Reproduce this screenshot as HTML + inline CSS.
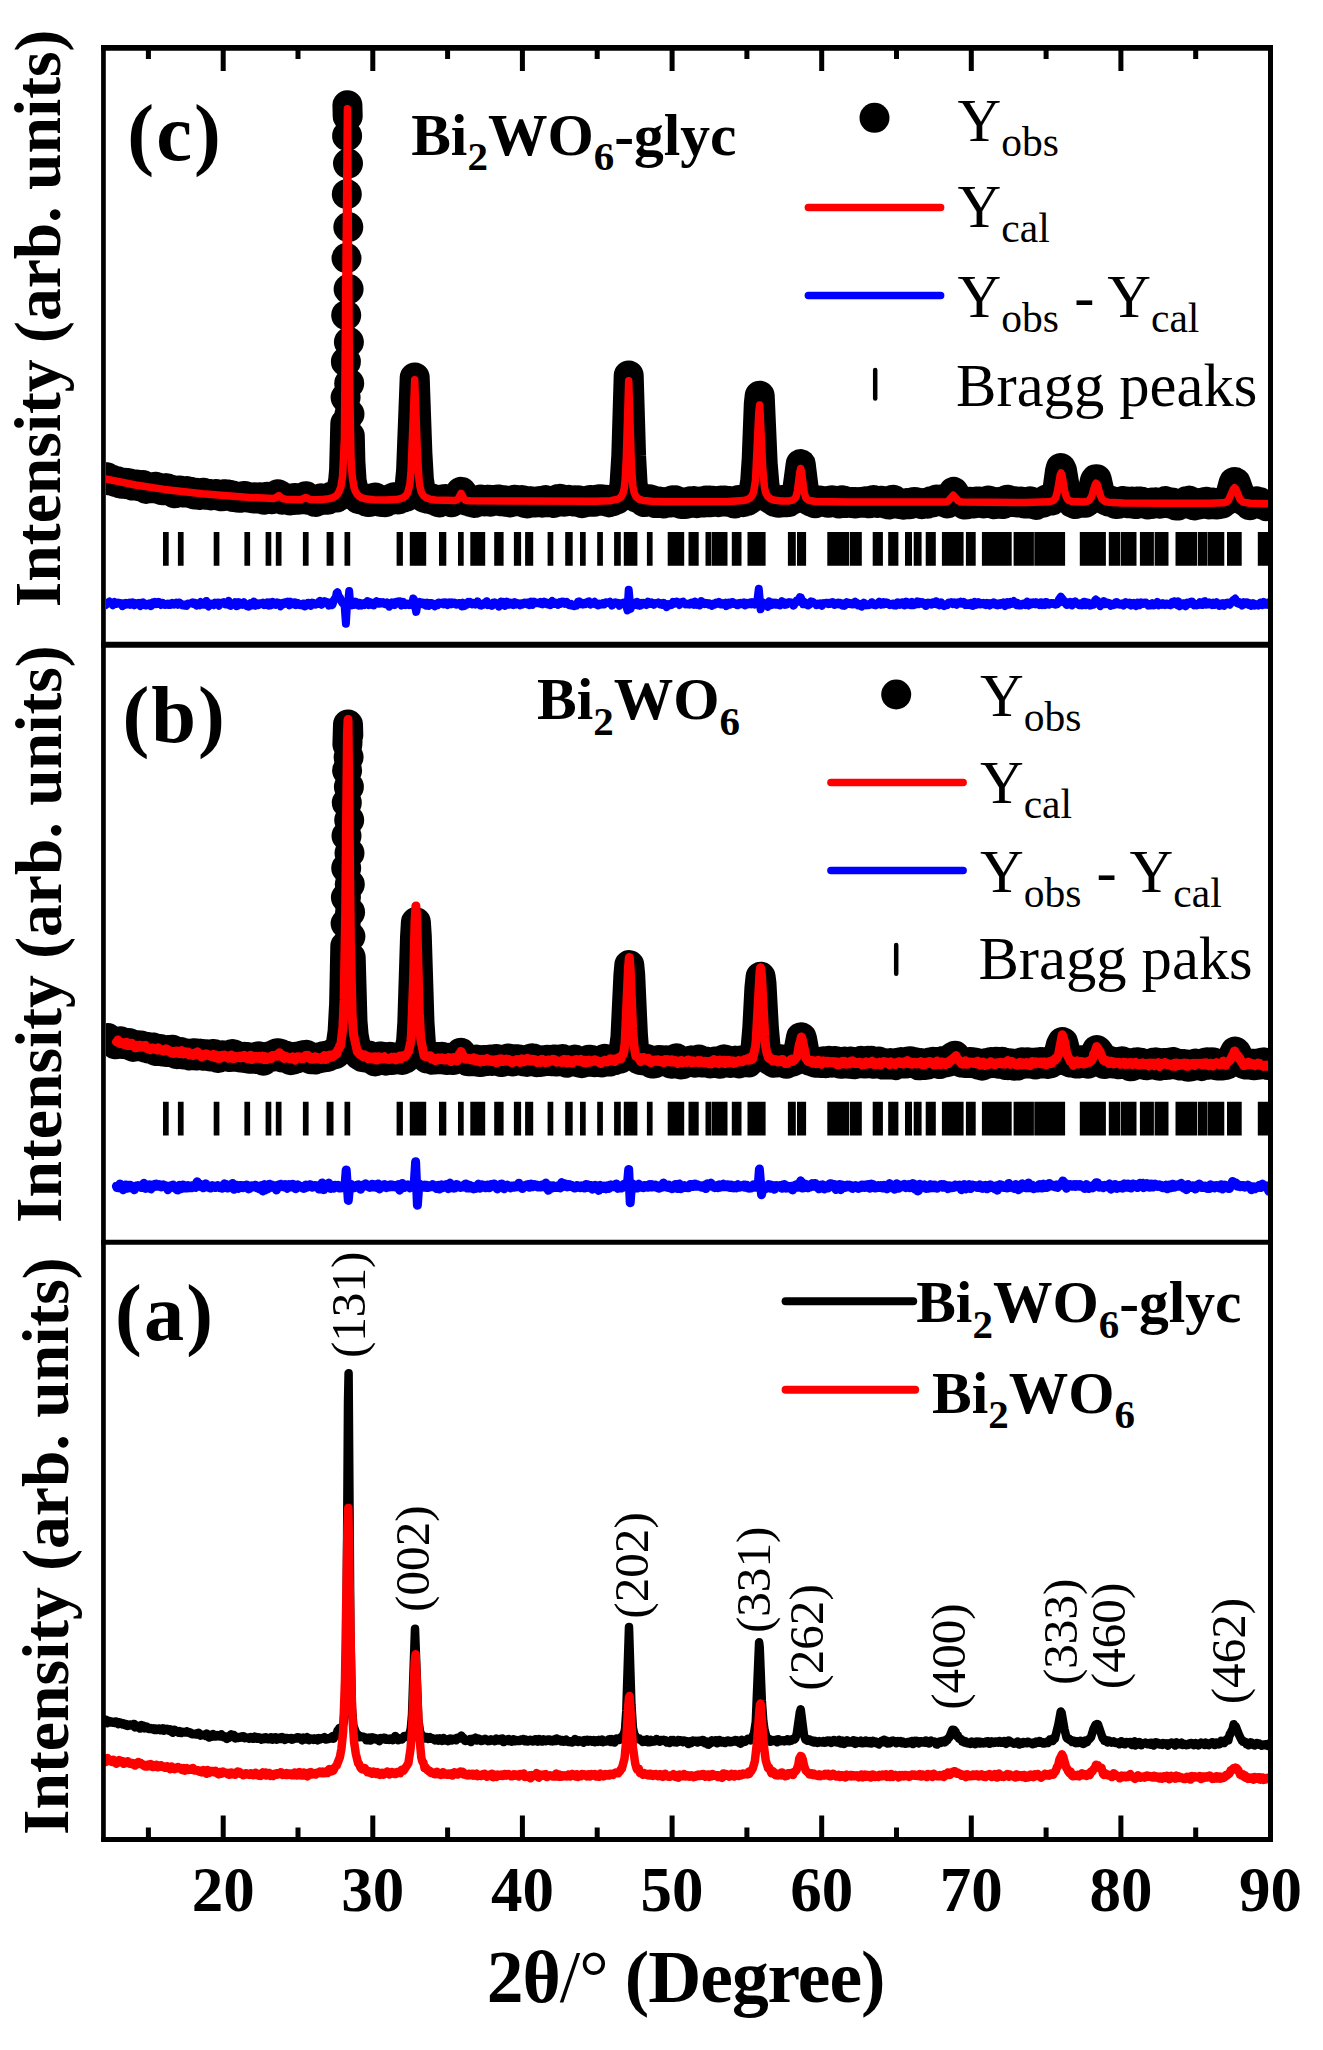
<!DOCTYPE html>
<html><head><meta charset="utf-8"><style>
html,body{margin:0;padding:0;background:#fff;}
svg{display:block;}
text{font-family:"Liberation Serif",serif;}
</style></head><body>
<svg width="1323" height="2050" viewBox="0 0 1323 2050">
<rect width="1323" height="2050" fill="#fff"/>
<defs><clipPath id="cc"><rect x="106" y="50.5" width="1162" height="592"/></clipPath><clipPath id="cb"><rect x="106" y="647.5" width="1162" height="592.5"/></clipPath><clipPath id="ca"><rect x="103.5" y="1245" width="1165" height="592"/></clipPath></defs>
<g clip-path="url(#cc)">
<path d="M103.5 478.5L105.3 477.1 106.5 477.2 109.5 480.2 111.6 479.6 113.1 480.9 114.3 480.6 115.2 481.8 116.1 482 117.6 481.2 119.4 483.2 119.7 482.7 122.1 483.8 123 482.9 124.4 482.8 125.3 483.8 126.5 483.4 127.7 484.3 128.3 483.2 128.9 484.1 129.5 483.2 130.4 484.4 131.3 484.3 132.8 485.6 135.5 485.6 136.4 484.5 138.2 486.2 140 485.1 140.6 486.1 143 485 144.2 487.6 146 488.9 146.9 488.2 147.5 488.5 148.7 487.4 150.8 487.2 151.7 488 154.1 486.9 154.7 487.5 155.6 486.7 155.9 487.5 156.2 487 156.8 487.7 157.1 487.4 158.6 489 160.7 489.6 161.3 489.3 161.9 490.3 165.1 488.3 166.6 488.8 167.2 488.2 169.9 490.1 171.1 489.8 174.7 493.3 176.5 492.1 177.1 492.4 178.9 490.6 179.8 490.6 181 491.6 182.2 491.3 183.4 492.5 186.1 491.3 186.7 491.7 187 491.1 187.6 492.1 190 491.8 191.5 493.5 192.1 492.3 193.3 492.7 194.2 494.4 195.7 492.8 196.6 494.2 197.5 494.2 198.1 494.8 198.7 494.2 199.6 495 200.5 493.6 201.9 493.8 203.1 492.8 204 494.3 204.6 493.8 204.9 494.7 206.4 494 207.6 494.7 208.5 493.7 209.1 494.9 209.7 494.5 210.9 495.4 215.4 494.1 216.3 495.1 216.9 494.8 217.5 495.4 218.1 494.9 219.9 496.2 222 496.3 223.8 495.4 224.7 494.2 225.9 495.1 227.1 494.6 227.4 495.3 228.3 495.8 228.9 495.4 229.2 496 229.8 494.9 231.6 496 232.2 495.5 233.4 497 234.6 496.7 235.8 497.3 236.1 496.6 236.7 497.4 237.9 496.6 239.1 497.8 239.7 496.9 240.9 497.7 242 496.3 242.3 496.8 243.8 495.9 244.4 496.5 245.3 496 246.5 497.4 247.4 496.7 249.8 497.8 251.3 497.7 251.6 498.3 252.5 497.8 253.7 498.6 254.9 497.5 255.8 497.9 257.9 497.4 259.1 497.7 259.7 497.3 261.5 498.9 262.7 498.5 264.2 499.7 267.2 496.8 267.8 497.4 269 497.1 270.2 497.5 271.7 499.2 274.4 496.8 274.7 497.5 275 496.9 275.6 497 278 494.2 278.9 495.2 279.2 494.8 279.5 495.2 281.2 499 281.8 498.8 282.1 499.7 283.6 498.8 283.9 499.4 285.7 497.9 286.3 498.8 288.1 499.5 288.4 499 290.2 500.4 291.1 499.1 292.6 500.1 294.7 498.1 295.3 499.7 297.1 498.5 297.7 499.8 300.1 498.4 300.4 499 301.3 498.7 301.6 499.3 303.1 497.8 303.4 498.3 305.8 496.3 307.3 498.8 309.1 499.9 309.7 499.6 310.3 500 310.9 499.2 311.2 499.8 311.5 499.2 312.1 500.2 312.7 499.9 314.5 501.7 314.8 501.2 315.4 501.9 315.7 501.3 317.5 501.2 319.9 499 320.4 499.5 321 498.4 322.8 499.3 323.4 498.9 325.5 499.7 327.6 499 327.9 499.6 328.2 499.1 328.5 499.5 331.2 496.9 332.7 497.3 333.6 496.4 333.9 497.1 335.7 497.4 336 496.3 336.6 497.5 337.2 496.7 338.1 496.6 340.5 492.8 341.7 488.3 343.2 480.2 344.1 469.4 345.3 423.5 M347.4 105.2L347.7 116.3 M349.8 435.9L350.4 461.6 351.6 480.8 353.4 489.5 356.1 495.6 358.2 498.8 359.9 499.5 362.3 498.8 363.2 499.6 364.4 498.3 366.2 501.3 366.8 501.7 368 501.1 368.9 502.1 369.5 501.1 369.8 501.8 371.3 499.5 372.2 498.9 373.1 499.1 373.7 498.1 374.9 497.5 375.8 498.6 377.9 499.3 379.4 501.6 380 500.8 381.2 501 382.1 502 383.9 501.7 385.1 502.2 386.6 499.9 386.9 500.4 387.8 500.4 390.8 499.3 391.1 499.9 392.3 498.1 393.8 497.9 394.4 497.2 395.6 498.5 396.2 498.2 397.7 499.4 398.8 498.5 399.7 499 400.3 497.6 401.8 497 402.4 496.9 403.3 497.7 404.2 496.8 404.8 497.2 405.1 496.3 405.4 497 406 497 407.2 493.8 407.8 493.5 409.6 486.1 411.1 470.2 414.7 377.4 417.4 453.1 418.9 479.7 421 492.9 424.6 497.9 425.5 497.2 427 498.6 428.2 498.8 429.1 498.1 430.9 499 431.5 498.5 432.4 499.7 434.2 500.3 435.1 499.7 436 501 436.9 501.5 437.2 501.1 437.8 501.8 438.6 501.7 439.2 502.4 440.1 501.7 441.3 499.5 443.7 499.9 444.9 499.3 446.1 500.3 447.6 499.3 451.2 502.3 451.5 501.6 453 501.5 455.1 498.8 456 499.2 456.9 498.1 457.2 498.6 457.8 498.1 460.8 491.9 461.4 492.4 461.7 492.1 463.2 497.4 465 499.7 465.6 499.2 466.5 500.4 467.4 500.3 468 501 468.3 500.6 468.9 501.5 469.5 501.1 470.1 501.8 471.9 501 474.3 502.9 475.5 502.1 476.1 502.4 477 500.8 480.5 499.5 481.1 500.8 481.7 500.6 482 501.1 482.9 500.2 485 501.4 485.9 500.1 487.1 499.7 488.9 500.6 489.2 499.8 490.4 501.6 492.5 500.5 493.7 500.8 494 500.1 495.5 499.8 496.1 500.4 498.2 499.4 499.4 500.5 500.3 499.8 500.9 501 501.2 500.7 501.8 501.2 504.2 500.3 504.5 501.6 506 501 506.6 501.6 508.1 500.9 509.6 502.4 509.9 501.6 510.5 502.4 512 501.8 513.8 499.8 514.4 500.2 515 499.7 517.6 501.2 521.8 500 523 500.9 523.6 500.4 525.4 503.1 526.9 503.4 527.2 502.3 527.8 502.3 528.1 502.9 529.9 501.3 530.8 501.8 531.1 501.3 531.7 502.4 532.3 502.4 533.5 501.8 534.1 502.4 534.4 501.8 535.6 502.4 535.9 501.6 537.1 501.5 538.9 502.1 540.1 501.3 542.2 502.6 543.1 500.7 544 501.4 546.1 500.1 548.2 502.1 550.3 501.6 551.8 502 552.4 501.4 553.9 503 556.5 501.8 558.3 499 558.9 499.4 559.8 498.8 560.7 499.1 562.8 501.4 563.4 501.2 564.3 501.8 565.5 501.5 566.4 500.2 567.6 500.1 567.9 500.5 568.8 500 570.3 501 573 501.1 573.3 501.5 574.8 500.2 575.7 501 576 500.5 577.5 501.3 578.1 500.3 579.6 502.4 579.9 502.1 582 503.1 584.1 502.5 586.5 500.9 586.8 501.5 587.4 500.7 588.9 500.5 589.2 501 590.4 500 591.9 501.7 592.5 501.3 593.4 501.8 593.7 501.1 594.6 501.7 596 501.1 596.6 499.9 596.9 500.5 598.7 499.2 599.3 499.6 600.5 499.3 601.1 500.6 601.7 500.3 602.3 500.7 603.5 500.2 604.1 500.8 604.7 500.3 605 500.7 605.9 499.8 608 502 608.3 501.6 609.2 502.4 609.5 501.7 610.1 502.1 612.5 500.3 612.8 501.1 613.1 500.4 616.7 499.6 617.3 498.3 617.6 498.8 620.6 496.2 620.9 496.5 623 492 624.5 484.7 626.3 455.5 628.7 375.4 631.1 456.3 632.6 483.6 633.8 491.7 636.1 497.4 637 497 638.5 498.3 639.4 497.5 641.5 499.3 642.4 498.7 644.2 502 646 500.9 647.5 501.3 648.7 499.3 649.6 499.2 652 500.1 654.1 502.1 654.7 502 655.9 503.1 658.9 502.9 660.4 501.6 660.7 502.3 662.2 503 663.1 502.6 664 503.4 666.7 502.3 668.2 502.5 668.5 501.8 670 502.6 670.9 501.6 671.8 501.5 672.4 500.4 673.3 502.1 674.2 500.5 675 500.3 675.9 500.7 676.8 502.3 678 501.5 680.1 503.6 681.9 503.9 682.2 503.2 682.5 503.7 685.2 504 686.7 502.8 687.3 503.6 689.7 501.3 691.2 502.1 691.5 501.5 692.1 501.9 693.3 501.3 695.1 502.8 696 502.6 696.9 503.1 697.2 502.4 698.1 502.6 699.6 501.5 700.8 502.4 705 502.4 705.9 500.6 708.3 501.6 709.5 500.5 710.7 502.3 711.3 501.5 711.9 501.8 713.4 500.8 718.4 502.1 719.6 501.3 720.2 501.5 720.8 500.5 721.4 501.5 723.2 501.2 724.1 500.4 725.3 501.6 726.2 500.9 727.1 501 727.4 501.7 727.7 501.1 729.8 501 734.3 503.6 738.8 499.9 739.7 500.7 740 500.1 741.8 501.3 743 501.2 743.3 502.1 743.9 501.5 744.5 501.7 746 500.8 747.5 500.8 748.7 499.2 749.3 499.7 749.6 499 749.9 499.2 751.1 498.2 753.4 492.6 755.2 481.1 756.7 458.7 758.8 403.9 759.7 395.7 762.7 463.8 764.5 485.4 766.3 493.9 768.4 497.6 769 498 769.3 497.4 770.8 497.9 771.7 499.7 772.9 499.3 774.4 500.3 775 501.9 775.6 502.1 776.2 501.4 776.5 502.2 778.3 502.8 779.2 502.8 779.8 501.5 780.7 502 781 501 784 499.7 784.3 500.4 785.2 499.7 786.7 502 787 501.5 787.6 502.2 788.5 502.1 791.2 499.5 791.8 499.9 792.1 499 792.9 499.5 794.4 498.9 796.5 495.6 800.7 464 804 490.8 805.5 496 807.6 499.7 808.5 499.5 809.1 500.5 810.9 500.8 811.8 501.9 812.4 501.4 813 502.4 814.5 503 814.8 502.7 815.1 503.3 816.3 502.5 816.9 502.8 819 500.6 820.8 501.6 821.7 500.9 822.9 501.2 823.2 501.7 826.5 501.4 828 502.8 829.8 500.7 830.7 501.1 832.1 500.2 833.6 500.6 834.2 501.5 835.1 501.2 836.6 502.5 837.5 502.5 837.8 502 838.7 502.9 839 502.6 839.3 503.5 840.5 502.9 841.7 500.3 843.5 501.4 843.8 500.7 844.7 500.9 847.1 503.1 848 502.4 850.4 502.9 851.9 502 852.5 502.5 854.9 502 856.1 503.4 857.6 503.1 859.1 502 860 502.7 860.6 502 862.4 502 863.3 502.8 865.1 501.5 867.5 502.6 868.4 502.2 869 503.3 871.9 500.4 872.8 501.1 873.4 500.1 874.9 501.7 877.6 502.8 878.5 502.2 879.1 502.5 879.4 501.9 881.2 501.9 882.1 500.7 883.9 502.5 884.5 502 885.4 502.4 886 503.7 886.9 503.4 887.5 504.3 887.8 503.8 889 504.5 890.5 502.7 890.8 503.2 892 500.4 892.6 500.8 893.2 499.7 896.2 502 897.4 503.6 898.6 502.9 899.2 503.7 899.8 503.1 900.7 504.1 901.6 503.6 902.8 503.8 903.1 504.6 903.7 503.9 904.9 504.2 905.5 503.3 907.3 503.8 907.9 503 908.5 504.2 910.6 504 912.6 503 912.9 502.2 914.4 501.9 918.6 502.9 918.9 503.4 920.4 503.4 921.9 504.2 922.5 503.4 923.7 503 925.2 503.4 926.4 503 927.3 503.5 930.9 501.2 931.5 502.1 932.7 502.4 933 501.6 933.3 501.9 934.5 500.8 935.4 501.2 936.6 499.5 937.2 500.1 938.1 499.7 938.7 500.7 939.9 499.6 941.1 500.2 941.7 499.6 942.9 500.6 943.2 500 945.6 502.8 946.5 502.3 947.1 503.4 947.4 502.8 948.3 503.1 949.2 501.9 953.6 491.9 958.1 500.7 958.7 500.1 959.3 500.8 960.2 500.6 961.1 501.8 961.7 501.6 962.9 503.1 963.5 503 964.7 504.6 965.6 504.1 965.9 504.5 967.4 503.5 967.7 503.9 969.8 501.8 970.7 503.5 971 503.1 972.2 503.4 972.8 502.8 974.3 503.5 975.5 501.9 975.8 502.2 976.7 501.4 977.6 502.4 977.9 501.8 978.8 502 979.4 501.6 982.1 502 983.9 503.4 984.8 502.3 987.2 501.6 988.4 500.5 989.3 502.1 990.4 502.3 991.3 503.4 991.6 503 993.4 503.5 994 504.2 995.8 503.2 996.4 504 998.5 502.1 999.1 503.7 1000.3 503.8 1000.9 503.1 1002.1 504.1 1003 504 1003.9 501.9 1004.5 502 1005.7 501.3 1006.3 500.1 1006.9 500.3 1007.5 499.8 1008.1 500.7 1008.4 500.4 1009.6 501.4 1010.2 501.1 1010.8 501.8 1011.4 501.2 1012.3 501.9 1014.1 501.2 1015 501.7 1015.6 501.2 1017.1 502.4 1018 502.1 1020.4 502.6 1021.6 501.6 1022.5 502.7 1023.7 502.6 1024.6 503.5 1027 502.9 1027.6 503.5 1028.5 502 1029.9 501.3 1030.2 501.9 1030.5 501.5 1030.8 502 1031.4 501.6 1032 501.9 1032.6 503.5 1034.4 504.4 1035.3 504 1035.9 504.9 1037.7 503.5 1038 503.9 1039.5 503.5 1042.5 501.8 1042.8 502.7 1044 502.3 1045.8 500 1047 500.1 1047.3 499.2 1047.9 499.5 1048.2 499 1051.5 500.6 1053 498.8 1054.2 498.8 1055.1 497.6 1057.2 491.2 1059.9 471.5 1060.8 468 1062 470.5 1066.2 495.7 1067.1 497.8 1068 497.5 1068.5 499.2 1070.6 499.6 1072.4 502.9 1073 502.3 1073.9 503.5 1075.1 503.9 1075.7 503.3 1076.9 503.3 1078.4 501.2 1080.2 501.1 1081.1 499.4 1083.2 502.1 1084.7 502.8 1085 502 1085.6 502.7 1090.1 498.5 1092.5 491.7 1094.9 480.8 1095.8 479.3 1096.7 479.3 1100 493.9 1101.2 497.1 1101.8 496.9 1102.7 498.7 1104.2 498.5 1105.7 499.2 1106.3 500.7 1107.7 500.2 1108.9 501.7 1109.2 501.1 1110.1 501.6 1111 500.8 1112.5 502.1 1114.6 502.5 1115.8 504 1118.5 503.8 1120.3 501.6 1121.5 501.5 1122.4 502.1 1123.3 500.9 1125.1 502.8 1126 502 1126.9 502.1 1127.8 503.3 1130.2 501.7 1131.7 501.5 1133.2 503.6 1134.7 504.1 1135.3 503.4 1136.2 504.1 1138.3 501.4 1139.8 502.5 1141 501.8 1141.3 502.4 1141.9 501.8 1143.4 502.1 1144.3 503.1 1145.2 502.6 1147.5 504.5 1149 503.2 1150.2 503.3 1151.1 504.1 1152.6 502.6 1154.7 503.1 1155.6 502.3 1157.4 503.3 1159.5 502.9 1160.1 503.7 1160.7 502.9 1161.6 503.1 1161.9 502.6 1162.2 503.1 1165.5 501.1 1166.1 501.2 1166.4 502.2 1167.9 502.9 1169.1 502.7 1169.7 503.5 1170.9 502.4 1172.1 502.4 1172.7 503.5 1176 505.6 1176.6 505.6 1177.2 504.6 1178.4 505.5 1180.2 503.7 1180.8 504.3 1183.2 503.1 1183.5 503.6 1183.8 503.1 1184.7 503.4 1186.4 501.5 1187.3 501.8 1187.9 501 1188.5 501.5 1189.1 500.6 1190.9 503.6 1192.7 503.6 1194.2 505.4 1195.1 503.6 1195.7 503.8 1196 503.3 1197.2 504.9 1198.7 503.1 1199.3 503.9 1200.8 504.1 1203.5 503.3 1204.4 502.2 1205 502.5 1205.9 501.8 1207.7 503.5 1208.3 503.3 1208.9 504.4 1209.5 503.7 1210.1 504.1 1210.7 503.3 1211 503.6 1212.5 502.4 1213.7 503.6 1214.6 503.4 1216.1 504.4 1217 504.4 1217.9 503.7 1218.5 504.2 1219.4 503.6 1220.3 504 1220.6 503.4 1222.1 503.6 1224.8 501.1 1226.8 500.2 1227.7 499 1228 499.4 1231 492.5 1233.4 483.5 1234 482.2 1234.9 482 1235.8 482.7 1241.5 498.9 1243.3 500.4 1244.2 500.7 1245.1 500.2 1246.3 502.2 1247.2 502.2 1249.6 505.2 1250.5 503.9 1251.7 504.6 1253.5 502.4 1255 502.9 1255.3 502 1256.5 501.3 1257.4 502.4 1259.2 501.9 1260.4 503.6 1261.9 503.3 1262.8 504.8 1263.4 504.3 1263.7 505 1264.9 504.9 1266.3 506.1 1267.5 505.8 1267.8 506.3 1269 505.2 1269.3 505.6 1269.9 505 1270.5 505.3" fill="none" stroke="#000" stroke-width="30" stroke-linejoin="round" stroke-linecap="round"/><g fill="#000"><circle cx="345.6" cy="397.6" r="15"/><circle cx="345.9" cy="361.7" r="15"/><circle cx="346.2" cy="315.2" r="15"/><circle cx="346.5" cy="258.1" r="15"/><circle cx="346.8" cy="194.2" r="15"/><circle cx="347.1" cy="135.9" r="15"/><circle cx="348" cy="163.6" r="15"/><circle cx="348.3" cy="227.1" r="15"/><circle cx="348.6" cy="289.1" r="15"/><circle cx="348.9" cy="342" r="15"/><circle cx="349.2" cy="383.4" r="15"/><circle cx="349.5" cy="414.1" r="15"/></g>
<path d="M103.5 478.5L135.5 485 164.2 489.4 202.5 493.7 249.2 497.4 273.2 498.5 275.6 497.9 278.9 495.5 282.4 498.5 285.4 499.2 300.7 499.7 305.8 497.5 310.3 499.6 319.9 499.7 327 499.1 332.1 498 335.7 496.2 338.1 493.7 340.8 487.2 342.6 476.2 344.4 438.5 347.4 108.8 349.5 377.8 351 458 352.2 476.2 354 487.3 355.2 491 357 494.2 359.1 496.3 361.4 497.7 366.5 499.1 374 499.8 385.7 500.1 395.6 499.6 400.3 498.8 403.6 497.5 406 495.5 407.8 492.7 409.9 484.1 411.1 470.9 414.7 379.8 417.4 452.8 418.9 478.8 419.8 486.1 421.3 492 423.1 495.3 425.8 497.6 429.7 499.1 435.4 500 455.4 500.4 458.1 499.1 461.1 493.3 464.7 499.8 466.5 500.5 470.4 500.8 596.3 501.3 610.7 500.7 617.9 499.2 620.9 497.1 623 493.4 624.2 488.5 625.1 480.8 626.3 458 628.7 380.8 631.4 465.6 632.9 486.6 634.1 492.5 636.1 496.8 639.1 499.2 643.3 500.5 651.4 501.3 666.1 501.7 728.3 501.6 743.3 500.6 747.2 499.6 750.2 497.9 752.3 495.4 753.7 491.7 755.5 480.2 758.8 412.6 759.7 405 762.7 468.1 764.5 487.5 765.7 492.7 767.8 496.6 770.8 499 775 500.3 781.6 501 788.8 500.9 792.6 500.1 795 498.5 796.2 496.2 797.4 491.3 799.8 472.2 800.7 468.5 801.6 472.2 804 491.4 805.5 497.1 806.7 499 808.5 500.2 815.4 501.5 847.4 502 942.9 502 946.2 501.7 948.3 500.9 953.3 495.3 958.1 500.7 959.9 501.6 962.9 502 1025.5 502.5 1048.5 501.8 1053.3 500.6 1055.7 497.6 1057.5 491.1 1060.2 475.1 1061.1 473 1062 475.1 1064.7 491.1 1066.2 496.8 1068.2 500.2 1072.4 501.6 1083.8 501.9 1087.1 501.4 1089.2 500.4 1091.6 496.7 1094.9 485.5 1096.1 483.2 1097.3 484.7 1100.3 495.2 1102.1 499.2 1104.5 501.3 1108.3 502.2 1123 502.9 1166.1 503.2 1209.2 503.3 1223 502.8 1226.2 502 1228.6 500 1233.4 489 1234.6 487.7 1235.8 489 1240 499.2 1243 502.1 1250.2 503.3 1270.5 503.8" fill="none" stroke="#f00" stroke-width="7.5" stroke-linejoin="round" stroke-linecap="round"/>
<path d="M163 532H168.7V565.8H163Z M177.9 532H183.6V565.8H177.9Z M213.7 532H219.4V565.8H213.7Z M244.4 532H250.1V565.8H244.4Z M265.6 532H271.3V565.8H265.6Z M275.8 532H281.5V565.8H275.8Z M302.9 532H308.6V565.8H302.9Z M326.6 532H333.5V565.8H326.6Z M344.5 532H350.2V565.8H344.5Z M396.6 532H402.9V565.8H396.6Z M409.8 532H426.2V565.8H409.8Z M439 532H446.3V565.8H439Z M458 532H463.7V565.8H458Z M470.3 532H485.2V565.8H470.3Z M494.2 532H503.6V565.8H494.2Z M513.9 532H521.1V565.8H513.9Z M525.1 532H533.2V565.8H525.1Z M547.6 532H553.3V565.8H547.6Z M565.2 532H572.7V565.8H565.2Z M580 532H585.7V565.8H580Z M597.2 532H602.9V565.8H597.2Z M614.1 532H620.8V565.8H614.1Z M623.8 532H637.4V565.8H623.8Z M646.9 532H652.6V565.8H646.9Z M667.7 532H684.2V565.8H667.7Z M688.5 532H698.7V565.8H688.5Z M705.5 532H711.2V565.8H705.5Z M711.7 532H727.5V565.8H711.7Z M731.8 532H741.5V565.8H731.8Z M747.5 532H765.6V565.8H747.5Z M787.9 532H795.8V565.8H787.9Z M797 532H806.1V565.8H797Z M827.3 532H849V565.8H827.3Z M849.7 532H861.8V565.8H849.7Z M872.7 532H882.9V565.8H872.7Z M888.2 532H898.4V565.8H888.2Z M905 532H912V565.8H905Z M913.7 532H921.6V565.8H913.7Z M925.7 532H935.8V565.8H925.7Z M941.9 532H963.6V565.8H941.9Z M965.9 532H975.7V565.8H965.9Z M981.9 532H1011.7V565.8H981.9Z M1013.6 532H1033.9V565.8H1013.6Z M1034.3 532H1065.1V565.8H1034.3Z M1079.8 532H1105.9V565.8H1079.8Z M1108.8 532H1120.3V565.8H1108.8Z M1120.9 532H1136.5V565.8H1120.9Z M1139.9 532H1153.9V565.8H1139.9Z M1154.6 532H1168.5V565.8H1154.6Z M1175.5 532H1197.3V565.8H1175.5Z M1198 532H1207.5V565.8H1198Z M1207.9 532H1224.3V565.8H1207.9Z M1227 532H1241.7V565.8H1227Z M1257.8 532H1271.6V565.8H1257.8Z" fill="#000"/>
<path d="M103.5 604.2L103.8 605.1 104.1 604.4 104.7 605.2 105.3 604.6 105.6 605.2 105.9 603.7 107.1 602.6 108 603.2 109.5 601.6 110.1 603.1 110.7 603.6 111.6 603.2 112.8 605.2 113.4 603 114.3 601.9 114.9 603.4 115.5 602.4 116.7 603.8 118.2 602.6 120.3 603.1 120.6 603.7 120.9 603.3 122.4 606.1 123.8 603.3 124.7 604.9 125.9 602.9 127.4 604.2 128.3 602.8 129.2 602.6 130.4 604.7 131 603.5 131.9 603 132.5 603.4 132.8 602.4 134.3 605.2 135.5 603.3 136.1 604.1 136.4 603.3 137 604.3 137.6 603.1 137.9 603.9 138.8 602.9 140.3 606.1 141.2 603.4 141.5 603.8 142.1 602.5 143 602.2 144.8 604.9 145.1 603.8 145.7 605.5 146.3 604.4 146.6 605.5 147.2 604 147.8 605 149.3 603.6 151.1 606.1 152.9 602.5 153.5 603 154.7 602 155.9 604.1 156.5 603.9 157.1 602.4 157.7 602.8 158.3 602.1 158.6 603.2 158.9 602 159.8 604.2 160.1 603.8 161 604.9 161.3 604 162.2 604.1 162.7 602.8 164.8 604.9 165.4 604.4 165.7 604.9 167.5 603.6 168.1 604.9 169.9 603.6 170.2 604.9 170.8 604.9 172.3 602.9 174.1 604.6 176.2 602.7 177.7 604.7 178.9 603.9 179.2 602.5 179.5 603.2 180.4 603.2 180.7 604.4 181.3 604.1 181.6 605.1 181.9 604.7 182.5 605.2 182.8 604.5 183.7 604.7 184.3 605.5 184.6 604.6 185.5 604.4 186.7 605.7 187.9 603.5 192.1 603.6 192.4 602.5 192.7 603 193 602.4 193.9 604.2 194.5 604.3 195.4 602.9 196.6 605.5 198.1 603.9 198.4 605 199.3 605.3 199.9 602.6 200.5 602.1 201.4 604.3 202.8 603.8 203.1 604.7 203.7 604.2 204 604.6 204.3 604.1 204.9 604.5 205.5 603.3 205.8 603.6 206.4 601 207.3 602.3 207.9 605.7 208.5 606.4 211.2 603.7 213.6 605.2 215.1 602.6 215.7 603.5 216 602.9 216.3 604.1 216.9 602.7 217.8 602.6 218.1 604.4 219 605.7 220.2 602.9 221.1 603.4 221.7 603.4 222 602.7 222.3 603.2 222.6 602.8 223.5 603.2 224.1 602.2 224.4 603.3 225.3 603.5 225.6 604.3 226.2 603 226.8 604.4 227.4 604.1 228.6 600.8 230.1 605.6 230.4 604.8 231 605.7 231.6 604.3 232.5 604.6 233.1 603.7 233.4 604.3 234 603.1 234.3 603.8 235.2 602.2 236.7 606.2 237.3 606 238.5 602.1 239.1 603.3 239.4 602.4 240 604.1 240.3 603.5 241.2 604.6 242 603.7 242.6 604.7 244.1 602.3 245.3 604.7 246.2 604.6 247.1 606.2 248 606.3 248.6 605.4 248.9 606.7 250.4 603.2 251.3 604.4 251.6 603.7 252.5 605.3 252.8 604.5 253.1 604.8 254 601.7 255.5 605.8 257 603.1 258.5 605.1 259.7 603.5 260.9 603 261.2 603.5 262.1 602.9 262.4 603.4 263 602.7 264.2 603.7 264.5 605.1 267.2 602.5 268.1 605.4 268.7 605.6 269 603.5 269.6 603.4 269.9 602.3 270.8 605.3 271.4 605.1 272.6 601.8 273.2 603.9 275 603.3 275.6 604.9 277.1 602.5 278.3 604.1 279.2 602.9 279.8 603.3 280.7 606.3 282.7 603 283.6 604.2 285.1 602.2 285.7 602.1 286.3 603.2 286.6 602.4 287.2 602.7 287.8 601.8 288.1 603.5 289.3 605.4 290.5 601.7 292.3 604 292.9 603.4 293.5 604.4 294.4 602.2 295 602.2 296.2 605.1 297.4 604 297.7 602.8 299.5 605 299.8 604.3 301.6 605.4 301.9 604.5 302.5 605.1 303.1 603.5 304 603.4 304.9 606.5 305.8 605.9 306.4 603.5 307 603.8 307.3 603.1 307.6 603.5 307.9 602.7 309.1 602.9 309.7 605.2 310.9 605.8 312.1 602.6 313 603.5 313.6 603.8 314.2 603.3 315.4 604.7 316 604.6 316.9 603.3 317.5 604 318.4 604 319 601.8 319.6 602.3 320.1 600.8 321.6 604.8 323.1 602.2 323.7 602.6 324.6 601.2 326.1 603.1 326.7 601.9 327.3 603.9 327.6 602.9 327.9 604 328.8 604.2 329.1 605.6 330.6 602.3 331.8 605.2 332.4 604.9 334.5 598.8 334.8 599.4 335.1 598.9 336 596.6 336.6 593 337.5 592.2 339 597.1 339.6 598.1 339.9 597.4 341.7 602.1 342 601.6 342.9 603.6 344.4 602.9 345.9 623.8 346.8 607.7 347.4 603.8 348 603.5 349.2 591.1 350.1 602.5 351.9 605.4 353.1 604.2 354 604.7 355.5 601.6 356.4 602.9 356.7 602.3 357 602.9 357.3 602.4 357.9 602.7 358.8 605.7 360.2 602.9 361.7 605.6 363.2 603.4 364.7 604.9 365 603.8 365.6 603.7 365.9 602.6 366.2 603.4 367.1 601.4 367.4 602.4 367.7 601.1 369.2 605 371 602.6 372.8 605.3 373.7 605.4 374.3 603.6 376.4 601.2 377.3 602 377.6 601.7 378.5 602.3 378.8 601.9 379.1 603.8 380 602.9 380.3 603.2 380.6 602.2 381.2 602.4 381.5 603.4 383 602.3 384.2 603.9 385.4 604.4 385.7 603.2 386 603.4 386.9 602.4 387.2 603.3 387.5 602.7 388.1 603.8 389.3 606.7 390.8 603.3 391.1 604 392 602.5 392.3 603 393.2 602.6 394.7 605.1 395.6 602.2 395.9 602.6 396.2 601.9 397.1 603.2 398.3 601.5 398.8 602.7 400 601.5 401.5 605.6 403 601.8 403.6 603.1 403.9 602.6 404.8 603.4 405.7 605 406 604.2 407.5 603.6 409 604.9 409.3 604.3 410.2 604.7 410.8 604.3 411.7 605.1 412.3 604.2 413.2 598.5 413.8 599 416.2 611.9 417.4 604.8 418 603.8 418.3 604.8 418.9 604.2 419.8 602 420.1 602.7 420.4 602.1 422.2 603.6 422.8 602.6 423.4 604.4 424.3 603.8 424.6 602.8 425.8 605.5 427.3 602.8 428.8 605.9 429.7 603 430.6 603.1 431.2 604.9 431.8 603.1 434.8 606.3 436.3 603.8 437.8 605.1 438.6 602.4 439.2 602.4 440.1 603.7 442.2 602.6 443.7 604.3 444.6 602.5 445.2 603.1 445.8 602.4 447.6 605 448.2 603.4 448.5 603.9 448.8 602.6 449.1 603 449.4 602.5 450.3 604 451.2 604.3 452.1 602.4 452.7 603.3 454.5 602.5 456 604.8 456.6 604.8 456.9 604.1 457.8 604.2 458.4 603.2 459.3 603 459.9 603.8 460.2 603.2 461.7 606.3 462.9 602.7 464.4 606.1 465.3 604.1 465.6 604.7 466.5 604.4 466.8 604.8 468.3 602 468.6 603.1 469.2 603.2 470.1 602.1 471.9 604.4 472.8 604.1 473.4 602.9 474 603.9 475.2 604.5 475.5 603.9 476.4 604.1 477.6 601.5 478.7 603.9 480.2 604.4 480.5 605.5 481.1 605.1 481.4 605.5 482 604.1 482.6 604.7 483.2 603.6 483.5 604.3 484.1 603.1 484.7 604.6 486.2 601.8 486.5 602.4 486.8 601.2 488.3 605 488.9 603.3 490.1 604 490.4 604.9 491.6 605.8 491.9 605.1 492.2 605.7 492.8 604.2 493.4 604.3 493.7 602.5 494.3 603.4 494.9 602.4 495.2 604 495.8 602.8 496.1 603.9 496.7 603.5 497.9 605.3 498.2 604.8 498.8 606.6 500.9 601.7 501.5 602.4 501.8 601.9 502.1 602.7 503 602 503.6 602.5 504.8 605.9 506.9 601.6 508.4 604.8 509 604.7 510.5 602.7 510.8 603.7 511.1 603 511.4 604.3 511.7 604.1 512 604.7 512.3 604.4 513.2 605 514.7 602.1 515.3 604.4 515.9 604 516.2 604.4 516.8 602.9 517.3 603.7 517.6 603.1 517.9 603.6 518.5 603.3 520 605.3 521.2 603.4 522.4 604.6 523.6 602.9 524.2 603.2 524.8 602.7 526.6 604.2 527.2 602.5 528.1 602.6 529.3 605.1 531.1 601.8 532.6 604.9 534.1 601.7 534.7 603.2 538.9 602.5 539.2 603.5 539.8 603 540.1 603.5 540.7 601.9 541.3 603.2 541.6 602.4 541.9 604.2 542.5 603.8 542.8 604.3 544.3 601.7 545.2 603.6 546.7 602.7 547.6 604.4 548.5 603.5 550 605.3 550.6 605.1 551.5 601.7 552.1 601.1 552.7 603.1 553.3 603 553.9 603.9 554.2 603.2 554.5 603.8 555.4 602.8 555.7 603.9 557.1 603.8 558 604.8 558.6 603 559.5 602.2 560.4 603.9 561.3 602.4 561.6 602.8 562.2 601.7 562.8 602.5 563.4 601.6 563.7 602.6 564.9 603.7 566.7 601.9 567.6 603.9 567.9 603.1 568.2 604.3 568.8 603.9 569.4 605.1 570 604.2 570.3 604.9 571.2 603.9 572.1 605.5 572.4 604.8 573.6 604.9 574.2 606.1 574.8 605.2 576.3 605.7 577.8 601.9 578.1 603.5 578.4 602.8 579 603.1 579.6 601.4 581.1 604.3 582.9 603.8 583.2 604.6 584.7 603.1 585.6 604.1 587.7 601.8 588.9 601.4 590.4 604.6 591.6 603.2 592.2 603.7 592.8 603 593.1 603.5 594.6 601.7 595.7 604.3 597.2 603.8 597.5 605.1 598.1 605.4 599.3 603.6 600.8 603.9 601.1 604.5 602.6 603.3 603.2 604.5 604.1 604.5 605.6 602.5 606.5 603 606.8 602.3 608.3 602.6 609.8 601.8 611.9 605.6 613.7 603 614.3 604 615.2 603.5 615.5 602.3 617.3 603.5 617.6 602.8 617.9 603 619.4 605.7 620.3 603.3 620.9 603.2 621.2 604 621.5 603.4 621.8 604.1 623.3 602.8 625.1 604.9 626 604.8 627.5 610.4 628.7 589.7 630.5 609.1 632 604 632.6 603.4 633.5 604.9 634.7 602.9 635.8 604.8 637 601.8 638.2 605.5 639.7 605 640 605.8 641.5 602.9 642.4 604.5 643 604.4 643.6 602.8 644.2 604.5 644.5 603.7 645.1 604.3 645.7 603.8 646.6 604.9 648.1 601.7 648.7 602.8 649 602.1 649.6 603.3 650.2 603 650.5 604 651.1 602.8 651.7 603.8 652 602.3 652.6 604.1 653.2 603.8 653.8 604.8 655.3 603.1 656.8 603.5 658.3 602.4 660.1 604.5 660.7 604.6 661.3 603.2 662.5 604.9 663.4 602.8 664.9 605.1 665.2 604 665.8 603.9 666.7 607.1 667.9 604.8 668.8 604.3 669.1 604.9 669.7 604.2 670 604.8 671.2 604.4 671.5 605.1 673 601.9 673.3 603.1 673.6 602.8 674.2 603.8 674.7 602.4 675.6 603.2 676.5 601.4 677.1 601.4 677.7 603 678.6 603.1 679.5 605 681 602.9 681.6 603 681.9 601.9 683.1 601.6 685.5 604.2 685.8 603.8 687.3 604.4 687.6 603.7 688.8 603.6 689.7 604.4 691.2 602.5 692.4 603 692.7 604.3 693.6 604.8 694.8 601.5 695.4 601.6 696.3 604.6 696.6 603.9 696.9 604.8 697.8 602.9 699.6 605.4 700.5 604.6 701.4 601.1 702.3 601.8 702.9 603.7 704.1 603.2 704.4 604.1 705 603.2 705.6 603.7 705.9 602.9 706.5 603.9 707.4 603.2 708.6 604.5 709.5 603.5 711.9 605.8 712.8 605 713.1 603.8 713.9 603.4 714.5 604.9 716 602.7 716.6 603.9 717.2 602.9 718.7 602.6 719 601.9 720.8 604.4 721.4 602.9 722 604 722.6 603.6 723.2 604.4 723.5 603.7 724.1 603.8 724.4 603 725.3 602.7 726.5 606.1 728 602.8 728.6 603.8 729.2 602.7 730.4 604.5 731.9 601.9 732.8 602 733.7 603.9 734.6 603 735.8 603.4 736.1 604.5 737 604.5 737.3 605.3 737.9 605.2 739.1 603.1 739.4 603.7 740.3 602.9 740.6 604.1 740.9 603.2 741.8 603.9 742.1 603.1 743.6 602.4 744.2 604.8 745.1 605.4 745.7 603.6 746.3 603.9 746.9 603 748.1 604.3 750.2 602.5 751.4 604.2 752.3 602.2 753.2 604.2 753.4 603.6 753.7 604.1 754.3 603.6 754.9 604.6 755.2 604 756.7 603.8 757 603 758.8 588.8 760.6 609.3 762.1 603.3 762.4 603.5 763 602.5 764.5 604.3 765.1 603.3 766 604.1 766.3 603.7 767.8 606.8 769.3 601.3 770.5 604.6 771.1 604.1 771.4 605.2 772.9 602.6 773.2 603.4 774.7 602.6 775.6 604.7 776.8 603 777.7 604.6 778 604.3 778.3 604.9 778.6 603.7 778.9 604.7 779.2 604.3 780.1 605.3 781.9 601.1 782.8 602.9 783.7 603 784 604.1 784.3 603.8 784.9 604.7 785.8 602.6 786.4 602.8 786.7 604.6 788.8 602.2 789.4 603.3 790 602.4 790.9 602.9 791.2 602.4 792.4 603.5 793.2 605.7 793.8 605.6 796.5 600.6 797.1 601.3 797.7 601 798 601.8 799.8 597.2 800.4 597.9 801 597.7 803.1 604.2 804.6 602 806.1 604.5 806.4 603.6 807.3 604.4 807.6 603.8 808.2 605.5 809.1 604.4 809.4 604.7 810.9 601.4 811.8 603.1 813 602 813.6 603.2 816.3 604.1 816.6 605.2 817.5 604.9 818.1 603.6 819.3 604.6 820.5 603.5 822 605.7 823.5 603.2 824.1 603.7 825 603.6 825.6 602.7 826.8 602.7 828.3 604.1 828.9 602.9 830.4 603.9 831 602.8 831.3 603.5 831.9 602.9 832.4 603.5 833 602.2 834.5 604.9 834.8 604 836.6 604.2 838.1 602.7 839 604.3 840.2 603.1 840.8 604.6 841.1 604 841.7 604.8 842.3 604.7 842.6 605.7 843.8 603.3 844.7 605.8 846.8 602.2 848 603.9 849.2 603 850.1 604.2 851 604 851.3 603.2 851.9 604.4 853.1 604.5 853.4 602.8 854.9 601.8 855.2 602.4 856.1 602.2 857.9 605.4 858.2 604.3 859.1 605 860 603.9 860.9 604.4 861.8 606.7 863.9 602.8 865.4 603.7 866 605.4 866.9 605.2 867.2 604.4 867.5 605.1 868.1 604.8 868.7 605.2 870.2 603.6 870.5 604.5 870.8 603.7 871.6 603.4 871.9 602.2 873.1 604.7 873.7 604.2 874 604.7 874.3 603.7 874.9 603.8 875.2 605.2 875.5 604.8 875.8 605.3 878.2 602.6 878.8 603.3 879.4 601.7 880.3 602.3 881.2 604.8 882.1 602.9 882.4 604 882.7 603.4 883.3 604.3 883.9 602 884.8 602.6 885.4 604.1 886.6 602.3 887.5 602.7 889 604.8 889.6 604.6 889.9 605.1 890.8 604.5 892.3 604.6 892.9 603.6 893.2 604.2 893.5 603.8 894.1 605.4 894.7 604.3 895 605.3 895.6 604.6 896.2 605.5 897.4 602.4 898 603.2 898.3 602.5 898.6 603.9 899.8 604.8 900.7 602.9 902.2 603.7 902.5 602.2 903.4 602.9 904.6 605.4 906.4 601.6 906.7 603.2 907.6 603.5 907.9 604.7 908.8 602.6 909.1 603.4 909.4 602.5 910.3 605 910.6 604 910.8 605.2 912.3 602 912.6 602.8 912.9 602.4 913.5 605.3 915 604.8 915.6 603.8 915.9 604.4 917.4 601.3 918.9 604.1 920.1 602 920.7 603.1 921.3 603.2 922.2 602.2 923.1 604.1 923.4 603.6 923.7 604.1 924 602.8 924.3 603.5 924.6 603 925.5 605.9 926.1 605.9 927.9 602.8 928.5 603.4 928.8 603 929.4 603.9 929.7 602.8 931.5 604.6 932.7 602.5 933.6 603 933.9 603.9 934.5 603.1 935.1 603.8 935.4 602.4 936 603 936.3 601.3 937.2 604.4 937.5 603.9 938.1 604.6 938.4 604.2 939.3 605.3 940.2 603.5 940.5 604.2 941.1 602.4 942.3 605.1 942.9 604.6 944.1 606.1 945 604.6 947.1 605.1 948.6 602.6 949.8 603.2 951.2 602.3 951.8 603.2 952.1 602.6 952.7 604 953.3 603.5 953.6 603.9 954.2 602.3 956.6 604.9 957.5 604.2 958.1 602.3 958.7 602.3 959.3 603.4 959.6 602.4 960.5 601.8 961.4 603.7 962 603.1 962.3 603.5 962.6 602.5 962.9 603 963.2 602.2 963.5 602.7 963.8 602 965.3 605 966.2 603.4 967.4 604.8 968.3 603.5 969.5 604.8 970.4 602.9 971 602.8 971.9 605.7 972.5 605.1 973.1 605.8 974 605.1 974.9 601.8 976.4 604.8 977.3 604.4 977.6 603.3 978.2 603.3 978.8 602.2 979.7 602.7 980.3 604.4 981.5 603.3 982.4 604.1 982.7 603.2 983 603.6 983.6 603.1 983.9 603.8 984.5 603.4 984.8 604.6 985.1 604.3 985.7 605 986.9 602.9 987.5 603.9 988.7 603.2 989.8 605.5 990.4 603.5 990.7 604 991.3 603.3 991.9 604.3 993.7 602.4 994 603.1 994.6 602.8 995.2 604.7 995.5 603.8 996.1 604.8 996.7 603.9 997 605.2 997.6 604.9 997.9 605.4 998.5 603.8 999.1 604.6 999.4 603.3 1000 604.9 1000.6 603.1 1001.5 603.1 1002.4 604.3 1003.6 602.4 1005.1 606 1006.3 603.1 1007.2 602.2 1008.4 604.6 1009 603.6 1009.6 604.5 1010.8 601.9 1012 603.7 1012.6 602.2 1013.8 601.1 1016.2 605 1017.7 602.9 1018.9 605.4 1019.2 604.1 1020.4 604.3 1021.3 605.3 1023.1 603.7 1025.2 605 1025.8 603 1027 601.8 1028.8 605.5 1029.6 603.9 1029.9 604.2 1030.2 602.5 1031.4 603.2 1031.7 604.4 1032.9 603.3 1033.5 603.3 1033.8 602.3 1034.4 604 1035 603.8 1035.3 604.3 1036.2 602.1 1037.7 603.9 1038.3 603.3 1038.6 604.4 1038.9 603.5 1039.5 605 1040.1 603.8 1040.7 603.8 1041 602.2 1041.9 603.9 1042.2 603.4 1042.5 605.1 1043.4 603 1043.7 604.1 1044.9 605 1045.8 602 1046.1 602.7 1046.7 602.3 1047.3 603.7 1047.6 603 1048.2 603.2 1049.1 604.6 1050.9 603.1 1051.8 603.6 1052.7 603.1 1053 604 1053.9 604.3 1054.5 603.3 1055.4 603.5 1055.7 604.6 1056 603.6 1057.2 603.1 1057.5 604.1 1059 599.3 1060.8 596.6 1062.6 598.9 1063.8 602.3 1064.7 601.1 1065.3 601.6 1066.5 604.9 1066.8 604.5 1067.1 604.8 1068 603.1 1068.8 604.4 1070.3 601.9 1072.1 605.4 1073.3 602.2 1073.9 604 1075.4 601.5 1076.6 603.8 1077.8 604.3 1078.1 603.4 1079 604 1079.3 605.1 1080.8 603.6 1081.1 604.8 1082 605.4 1083.5 604.2 1084.1 601.7 1085.6 605.2 1086.8 602.3 1088.3 603.4 1088.6 602.7 1090.1 605.5 1090.4 604.8 1091 604.7 1091.3 605.2 1093.1 603.7 1093.7 604.6 1095.2 600 1095.8 599.5 1096.7 601.1 1097.6 600.9 1100.3 606.1 1100.9 604.5 1102.1 603.8 1102.4 604.4 1103.9 601.2 1106 604.1 1106.6 602.9 1106.9 603.9 1107.5 603.1 1108 603.6 1108.3 602.7 1108.6 603.4 1108.9 602.9 1109.2 604.1 1110.7 605.8 1111.6 604.7 1111.9 605.2 1112.2 603.7 1113.1 605.2 1115.8 604.4 1116.1 602.4 1116.7 602.6 1117 602.2 1117.6 603.8 1118.2 603.4 1118.5 604.3 1119.1 603.9 1119.7 604.6 1120.3 603.9 1122.1 603.4 1123.6 605.5 1125.7 602.2 1126.9 603.7 1127.5 603.1 1129 604.4 1129.9 602.6 1131.1 605.5 1132 603.2 1132.9 603.4 1133.5 604.2 1134.1 603 1135 604.4 1135.3 604.2 1135.9 606.1 1136.2 603.9 1137.4 602.7 1138 605.1 1139.2 603.9 1139.8 605.2 1140.1 603.9 1140.7 603.7 1141.3 602.4 1143.1 603.7 1143.4 603 1143.7 603.4 1144 602.9 1144.6 603.6 1145.2 602.6 1145.5 603.1 1146.1 602.7 1146.4 604 1148.1 605.5 1149.3 604.3 1150.8 605.3 1152.3 603.1 1152.9 604.9 1153.5 604.4 1153.8 605.5 1155 603.9 1156.5 604.2 1157.4 601.9 1158 603.3 1158.3 603 1158.9 605.3 1160.4 603.5 1161.3 604.7 1161.9 604.4 1162.2 604.9 1163.1 603.2 1164.9 604.9 1166.1 603.5 1167 603.4 1167.6 604.6 1167.9 604.2 1168.8 604.9 1169.7 604.3 1170.6 605.2 1172.1 602.1 1172.7 604.3 1174.2 601.5 1174.5 601.9 1174.8 601.5 1176.3 604.6 1177.5 605.3 1178.4 601.4 1179.9 606.3 1180.2 604.8 1181.1 603.8 1181.7 605.2 1182.3 604.6 1182.6 605.1 1183.2 603.3 1183.8 603.9 1184.1 603.4 1185.6 606.2 1187 602.6 1187.3 604.4 1187.6 603.7 1187.9 604.4 1188.2 603.6 1188.5 604.3 1190.3 602.1 1190.6 603 1191.5 603.5 1192.1 601.6 1192.7 602.9 1193 602.5 1193.6 604.6 1194.2 603.9 1194.5 605.4 1195.4 604.2 1196.3 604.2 1196.6 605.3 1197.5 604.4 1198.4 604.8 1199.9 602.1 1201.4 604.5 1202.3 603.8 1202.6 605 1203.8 603.7 1204.1 601.4 1204.7 601.2 1206.2 604.5 1206.5 603.9 1207.4 604.6 1208.3 604.3 1209.2 602.3 1209.5 604.2 1210.7 604.5 1211.3 604 1212.2 605 1213.4 602.7 1214.3 604.7 1214.9 604.9 1215.5 603.3 1216.7 602.2 1217 603 1217.6 602.9 1218.5 603.8 1219.4 605.8 1220.3 605.4 1220.9 603.5 1221.5 605.4 1221.8 603.7 1222.1 604.5 1223 603.2 1224.2 605.8 1226.2 602.9 1226.8 604.3 1227.1 603.4 1227.7 603.9 1228.3 602.6 1228.6 603.8 1229.8 604.8 1231 602.1 1231.9 601.4 1232.2 602.2 1233.1 600.2 1233.4 600.6 1235.2 598.6 1237.3 603.3 1238.2 603.7 1238.8 601.9 1240 604.1 1240.6 603.1 1242.1 605.6 1243.6 602.2 1244.8 604.2 1246 603.4 1246.3 602.3 1246.9 603.2 1247.5 602.4 1248.1 604.2 1248.7 603 1249 605 1249.9 603.3 1251.1 605.8 1252.3 603.7 1252.9 603.8 1253.2 603.2 1253.5 604.2 1254.4 604.4 1254.7 605.7 1255 605 1257.1 604 1258.3 605.4 1259.8 603.1 1260.4 603.6 1260.7 602.6 1261 604 1261.3 603.7 1262.2 605.1 1262.5 603.6 1262.8 604.3 1263.7 602 1264.9 603 1265.4 604.7 1266 603 1266.6 602.8 1267.8 604.7 1269.3 602.2 1270.5 602.8" fill="none" stroke="#00f" stroke-width="8" stroke-linejoin="round" stroke-linecap="round"/>
</g><g clip-path="url(#cb)">
<path d="M103.5 1039.6L104.7 1039.1 105.3 1039.7 107.4 1038.1 110.1 1040.6 111 1040.4 112.5 1041.7 113.1 1041.5 115.5 1044.3 117.3 1043.4 118.5 1041.6 120.3 1041.3 122.1 1044 123.2 1043.9 123.5 1043.2 125 1044.2 126.5 1043.2 128.3 1043 128.9 1043.6 129.5 1043.4 130.7 1044.7 131 1044.4 131.9 1046.2 133.1 1046.9 133.7 1046.1 135.2 1046.2 135.5 1046.6 136.1 1045.5 137 1045.8 137.6 1045.3 138.2 1046.3 138.8 1046.3 139.1 1045.8 140.6 1046.1 141.2 1045.4 141.8 1046.4 143 1046.8 143.6 1046.4 143.9 1047 144.2 1046.6 144.8 1047.5 145.4 1047.2 146 1047.7 147.2 1046.9 148.7 1048.5 149.6 1048.6 150.2 1047.8 150.5 1048.4 151.1 1047.9 151.7 1048.2 152.9 1047.4 155.9 1051 157.1 1049.7 157.4 1050.2 157.7 1049.6 160.7 1049.1 161.6 1050.9 161.9 1050.3 163 1051.4 164.5 1051.1 165.1 1051.8 166 1051.3 166.9 1052.1 167.5 1051.5 169 1051.6 170.2 1049.9 170.8 1050.7 172 1049.7 174.1 1052.9 175.3 1052.8 175.9 1053.9 176.2 1053.5 177.1 1054.2 178.3 1052.5 178.9 1052.2 179.2 1053.3 180.4 1052.1 181 1053.1 182.5 1052.7 183.4 1054.5 183.7 1053.7 184.3 1054.2 185.8 1053.7 186.7 1054.2 187.3 1053.5 187.6 1054.1 188.8 1054.1 189.7 1055.5 191.2 1054 193.3 1054.7 194.5 1053.2 196 1055.4 197.5 1055 198.7 1053.8 199.3 1053.7 199.9 1054.5 201.1 1053.8 201.9 1054 202.2 1054.9 202.5 1054.4 203.1 1054.8 203.7 1055.7 204.6 1054.8 205.2 1055.5 206.4 1054.3 207 1055.1 208.8 1054.9 209.1 1055.9 209.7 1055.3 210.3 1056.5 211.2 1055.8 212.4 1055.9 213.9 1054 215.7 1056.1 216.6 1055.6 218.4 1058 219.3 1057 219.9 1057.4 220.2 1056.6 221.4 1056.6 222.6 1055.5 224.1 1056.1 224.4 1055.5 225.6 1056.4 225.9 1055.7 227.1 1056.4 228 1055.8 228.3 1056.6 229.5 1056.9 231.9 1054.1 232.5 1055.1 232.8 1054.6 234 1054.6 236.1 1056.8 238.8 1056.4 240.3 1057.6 240.6 1057.3 243.5 1057.9 244.4 1056.8 245.6 1057.7 246.5 1057 247.4 1058.1 248 1057.5 248.6 1057.7 248.9 1058.7 250.1 1058.2 251.3 1058.7 252.2 1057.8 252.8 1058.6 255.5 1058.7 255.8 1058.1 256.7 1058.9 257.9 1057 258.5 1057.2 259.1 1056.3 261.5 1058.9 262.4 1059.4 262.7 1058.9 263.6 1060.7 266 1058.1 266.9 1058 268.1 1056.9 268.4 1057.5 269.6 1056.3 270.2 1056.7 271.7 1056.7 272.3 1056 272.6 1056.3 273.5 1055 274.1 1055.4 274.4 1054.9 275.6 1054.8 276.2 1053.5 276.8 1053.8 277.1 1053.2 278 1053.7 278.6 1053.3 280.1 1053.5 280.7 1055.6 281.2 1055.7 282.7 1057.6 284.2 1057.6 285.1 1056.9 285.4 1057.2 286 1055.8 286.6 1056.3 287.2 1056 288.1 1057 288.7 1056.6 289.3 1058.7 290.8 1060.2 292 1058.5 293.2 1059.7 293.8 1057.8 295 1058.1 295.3 1057.6 295.6 1058.3 296.2 1058 296.5 1058.4 297.4 1056.6 298.3 1057.8 298.9 1056.7 300.4 1056 301.9 1057.1 302.8 1055.5 304 1055.6 304.6 1055.1 305.2 1055.7 306.4 1054.8 308.5 1058 310.3 1057.9 310.9 1059.2 312.4 1058.7 313 1057.8 313.6 1059 314.2 1058.8 315.1 1059.5 315.4 1058.6 316.3 1058.2 317.2 1058.6 318.1 1057.5 319 1058.4 319.6 1057.8 320.1 1058.2 320.7 1057.9 321.3 1056.8 322.5 1057.6 323.7 1056.1 324 1056.8 324.6 1056.2 325.5 1057.2 327.3 1056 327.6 1056.7 328.2 1056.6 330 1055.3 330.6 1055.5 332.4 1053.6 333.9 1054.5 335.1 1053.2 335.7 1053.9 336.9 1052.6 338.1 1049.9 338.7 1049.7 339.9 1046.6 341.1 1042.2 342.6 1031.5 344.1 1003.7 345.3 946.2 M347.4 744.4L348 724.5 348.3 735 M350.7 957.4L352.5 1021.2 353.7 1035.6 355.2 1043.4 358.8 1054.6 359.9 1055.6 360.5 1055.2 361.1 1056.2 362.6 1057.1 364.1 1057.4 365.3 1057.3 366.2 1056 366.8 1056.4 367.4 1055.9 367.7 1056.3 368.6 1055.4 370.1 1057.7 371 1057.6 371.9 1059 372.5 1058.8 373.1 1060.1 373.7 1060.4 374 1059.9 375.2 1061.4 376.1 1059.4 377.3 1059.5 378.2 1057.8 379.7 1056.5 380.6 1057.3 381.5 1057.1 381.8 1056.5 383.3 1058.3 384.2 1058.2 385.4 1060.6 386 1059.6 386.9 1059.5 387.8 1057.9 388.7 1058.9 389.9 1056.9 392 1060 393.8 1058.6 394.4 1059.4 395.9 1057.5 396.8 1058.5 398 1057.6 398.3 1058.3 398.8 1057.7 399.4 1059.1 400 1058.5 401.2 1058.5 401.8 1059.9 402.4 1059.9 404.2 1058.2 405.1 1058.7 406.3 1055.6 407.2 1055 409 1051.4 411.1 1041.1 412.3 1022.7 415 937.4 415.9 922.1 416.8 936.2 419.5 1022.6 421 1044.8 421.9 1050 424.3 1055.1 425.5 1055.1 427 1058.5 428.8 1057.2 430 1058.6 430.3 1058.2 431.5 1058.6 432.1 1059.6 433.3 1058.9 434.8 1059.4 436.3 1058.1 437.2 1059.3 438.9 1056.9 439.2 1057.5 439.5 1057.2 440.4 1057.8 440.7 1057.4 441 1057.9 441.6 1056.9 443.1 1059 445.2 1059.8 446.1 1059.5 446.7 1060 448.2 1057.8 449.7 1059.1 450.3 1058.8 450.6 1059.7 452.1 1058.9 452.7 1060 453.3 1059.9 454.5 1058.1 454.8 1058.7 456.3 1058.5 457.8 1056 458.4 1056.4 459 1055.9 460.8 1052.8 462 1054.1 462.6 1056.1 466.5 1060 467.1 1059.4 468.3 1061.3 469.5 1061.2 470.4 1060.1 471.3 1061.3 473.4 1060.9 473.7 1060.1 474.9 1061.3 475.2 1060.6 475.5 1060.9 477 1059.6 478.1 1061.8 478.7 1061.3 479.6 1061.9 480.2 1061.2 480.5 1061.9 481.1 1061.5 481.7 1061.8 483.5 1060.1 484.7 1060.7 485 1060 485.6 1061.2 486.2 1060.7 486.8 1061 487.4 1060.3 488 1060.7 488.6 1059.8 490.1 1059.4 491 1059.4 492.2 1061 493.7 1059.8 494.6 1060.7 496.1 1059.8 496.4 1059 498.5 1060.9 499.1 1060.5 500.9 1062 502.7 1061.8 503.9 1059.9 504.5 1060.4 505.1 1059.2 506.3 1059.2 506.6 1059.8 508.1 1058.5 508.4 1058.9 509.3 1058.7 510.5 1060.6 511.1 1059.9 511.7 1060.8 512 1060.2 512.6 1061.5 514.1 1061 515.6 1059.2 516.8 1060.8 517.9 1059.3 518.2 1059.7 518.8 1059.4 519.7 1060.5 521.8 1060 524.2 1061.5 525.4 1061.2 525.7 1060.6 526.9 1061.9 531.4 1058.4 532.3 1058.3 533.2 1058.5 535 1060.1 535.3 1059.4 536.8 1062.2 537.1 1061.3 537.7 1062 539.5 1061.6 540.1 1062 541.3 1061 541.6 1061.7 542.5 1060.6 544 1061.1 545.2 1059.9 546.4 1060.9 547.3 1060.6 547.6 1059.8 547.9 1060.5 550 1061 550.6 1060.2 551.2 1061.1 552.1 1060.7 552.4 1059.9 553.6 1061.3 555.4 1059.7 556.3 1060.1 557.1 1061.5 558.3 1060.1 558.9 1060.8 559.2 1060.3 560.1 1061 561.6 1059.6 561.9 1060.1 562.5 1059.1 563.7 1060.9 564.6 1060.7 565.2 1061.9 567 1062.7 567.9 1061.8 569.4 1062.1 569.7 1061.2 570 1061.8 571.2 1061 571.5 1061.5 571.8 1060.7 574.2 1060.3 574.8 1059.5 575.7 1060.7 576 1060.2 577.2 1060.5 577.8 1061.7 578.4 1061.5 579.3 1062.6 579.9 1062.3 580.5 1062.8 581.1 1062.2 581.7 1063.1 582.3 1062.3 584.1 1062.3 585 1061.4 585.3 1062 585.9 1062.1 588.6 1059.7 591 1059.7 591.6 1061.2 591.9 1060.5 592.5 1061.1 592.8 1060.6 594 1062.1 594.3 1061.6 594.6 1062.2 595.2 1061.6 595.7 1061.7 596.3 1061.1 597.2 1061.9 598.7 1062 599 1061.4 599.3 1062 601.4 1062.5 602.6 1060.6 604.1 1060 604.7 1058.9 605.3 1059.6 605.9 1059.3 608 1061.4 608.3 1061.1 609.2 1061.6 610.1 1060.6 610.7 1061 611 1060.2 614.6 1060.3 615.8 1058.4 617.9 1057.1 618.2 1058 620 1058 620.3 1058.6 622.4 1055.5 623.6 1051 625.4 1037.6 628.4 975 629.3 965.1 630.2 974.7 632.9 1034.3 633.8 1045.7 635.2 1054.7 635.8 1056.6 636.1 1056.4 637 1057.2 638.2 1059 638.8 1059.3 639.1 1058.9 639.4 1059.5 639.7 1059 640.3 1060 641.5 1060.3 643 1059.7 644.2 1060.6 644.8 1059.6 645.7 1060.4 646.9 1059 648.4 1060.8 649 1060 649.9 1060.6 652 1063.5 652.9 1061.9 654.4 1063.4 654.7 1062.4 655 1063.3 656.5 1061.1 658 1062.1 658.9 1060.1 659.2 1060.8 659.5 1060.4 661 1061.2 662.8 1060.3 663.4 1061.1 663.7 1060.7 665.2 1061.5 666.1 1060.2 667 1060.5 667.3 1061.2 668.2 1061.3 668.5 1060.8 669.7 1061.4 670.6 1063.4 671.2 1062.4 672.1 1063.7 675 1059.1 675.6 1059.8 676.5 1058.3 680.7 1064.5 681.9 1064 682.2 1064.3 682.8 1063.6 683.1 1064 684.9 1061.6 685.8 1062.5 687.3 1062.1 687.6 1061.3 689.7 1061.3 690.3 1060.6 690.9 1061.4 691.8 1060.5 692.7 1061.6 694.2 1061.5 694.8 1062.6 695.4 1061.3 695.7 1061.7 696.6 1060.6 697.5 1061.1 699 1059.5 700.2 1060 701.1 1061.6 702 1060.9 702.9 1062.5 703.8 1061.9 704.7 1062.3 705.6 1061.5 707.7 1061.9 708.3 1062.6 709.5 1062.5 710.4 1063.2 711.9 1062.4 713.1 1062.8 713.7 1061.7 714.5 1062.4 715.4 1061.5 716 1062 717.5 1061.9 718.1 1062.7 718.7 1062.3 719.9 1063.8 722.9 1061.8 723.8 1059.5 724.4 1059.8 724.7 1059.4 727.4 1060.8 728.3 1062.1 729.2 1062.5 729.5 1062 730.1 1063 732.5 1061.5 733.1 1061.9 734.9 1060.9 735.2 1061.4 735.8 1060.8 737 1062.2 738.5 1062.6 738.8 1063.4 739.7 1062.6 740.3 1063 740.9 1061.4 741.2 1061.8 742.4 1060.2 743 1060.4 743.6 1059.9 744.2 1059.9 745.4 1061.7 748.4 1062.4 752.3 1057.9 752.9 1056.2 753.7 1055.8 755.5 1048.7 757.3 1027.8 759.4 987.9 760.6 976.7 761.5 983.7 763.9 1028.1 765.7 1048.3 766.9 1053.9 768.7 1058.3 769.6 1058.5 770.8 1060.8 773.2 1061.1 774.1 1062.8 776.2 1061.7 776.8 1062.4 778.9 1059.3 779.8 1059.4 780.1 1060 781.3 1059.3 781.6 1059.9 782.2 1059.6 786.4 1063.7 788.2 1061.5 789.7 1061.2 790 1060.4 790.3 1060.8 790.9 1060.2 791.8 1061.7 792.1 1061.3 792.6 1061.7 794.1 1060 795.3 1060.4 798 1053.3 801 1037.2 801.6 1037.6 802.2 1039.7 804.9 1054.5 806.7 1058.8 808.8 1060.4 809.4 1059.5 810 1060.4 810.6 1060 812.7 1061 813 1061.9 813.3 1061.4 815.1 1062.7 816 1062.1 816.3 1062.6 816.9 1062.4 817.5 1061.8 818.7 1062.5 820.8 1062.1 821.7 1063.1 823.2 1061.3 825 1062.1 825.6 1063.1 826.2 1062 827.1 1061.9 828 1062.5 828.9 1060.8 831.9 1062.7 832.1 1062 833 1062.2 834.5 1060.9 835.1 1061.7 835.7 1061.2 836 1061.9 836.9 1061.7 839 1063.1 839.6 1062.7 840.2 1063.7 840.5 1063 841.7 1063.8 842.9 1063.6 843.8 1062 844.1 1062.3 844.7 1061.5 846.5 1063.1 848 1063.1 848.3 1063.6 850.1 1061.6 851 1061.5 854.6 1064.2 855.5 1063.3 855.8 1063.6 856.7 1063 858.2 1063.5 859.4 1061.8 860.9 1061 861.8 1061.7 862.4 1061.2 863 1061.5 863.9 1063.4 865.1 1062.9 865.4 1063.5 866.9 1062.3 867.8 1060.7 869 1061.8 869.6 1061 870.5 1060.8 872.2 1062.8 872.8 1061.9 874 1063.8 875.5 1062.5 876.1 1062.8 876.7 1062.3 877.3 1062.8 877.9 1061.6 878.5 1061.5 880 1062.9 880.3 1062.2 881.2 1063.1 882.1 1063.2 883 1064.6 883.9 1064.3 884.5 1063.1 886 1064.6 887.8 1063.5 888.1 1064.3 890.2 1063.3 891.7 1064.5 892 1063.6 892.3 1064.3 892.6 1063.6 893.2 1064.6 893.5 1064.2 895.3 1065 897.7 1062.8 898.3 1063.9 898.9 1063.2 899.5 1063.3 899.8 1062.5 900.1 1062.9 901 1062.3 902.5 1063.2 903.1 1062.8 903.4 1063.2 904 1062.3 905.2 1063.2 905.8 1062.8 906.1 1063.5 907 1062.1 908.2 1061.6 910.3 1062.2 910.6 1061.3 911.4 1062.3 914.4 1062 918.9 1065.3 919.2 1064.4 921 1063.2 922.8 1064.2 923.4 1064 924 1064.9 925.2 1064.5 925.5 1064.9 925.8 1064.5 927 1064.8 930.3 1062.3 930.9 1062.8 931.5 1062.1 932.1 1062.7 932.7 1061.8 934.8 1063.1 935.4 1062.1 936.6 1061.9 937.2 1063.1 939.6 1063.9 941.1 1062.2 941.7 1061.8 942 1062.3 943.2 1060.9 944.4 1060.9 945.3 1062.4 946.5 1061 948 1061.9 948.9 1061.7 950 1060.1 951.2 1060.3 952.4 1057.1 953.6 1056.4 953.9 1057 955.1 1055.8 959.6 1061.9 961.7 1062.5 963.2 1062 963.5 1062.8 963.8 1062.3 964.4 1063 966.8 1062 967.4 1062.9 969.2 1062 970.1 1062.9 970.7 1062.1 971.3 1062.8 973.1 1062.7 973.4 1063.4 974.3 1062.5 975.2 1063.4 976.4 1062.9 977 1063.6 977.6 1063.4 978.5 1064.7 980.6 1064.7 980.9 1065.3 981.2 1064.8 982.1 1065.7 983 1064.4 983.3 1064.7 984.8 1063.6 987.8 1062.8 988.1 1063.4 989.3 1063.3 990.4 1062.2 990.7 1063 991 1062.1 991.9 1063.1 994.6 1062.9 995.8 1062.5 996.1 1061.8 996.7 1063 998.2 1063.7 999.7 1063.2 1000.6 1063.7 1001.8 1061.8 1002.4 1062.7 1003.3 1062.2 1006 1065 1007.2 1064.2 1007.8 1065.1 1009 1063.4 1009.3 1063.9 1009.9 1063.3 1011.1 1064.8 1012.3 1064.2 1013.2 1065.4 1014.4 1065.8 1015.3 1064.2 1016.2 1065.3 1017.4 1065.6 1019.2 1063.2 1019.5 1063.6 1020.7 1062.7 1021.3 1063.2 1022.2 1062.2 1023.4 1063.9 1024.9 1063.3 1025.2 1063.6 1026.1 1062.5 1027 1062.9 1027.3 1062.2 1029 1063.5 1029.9 1062.4 1030.5 1063.6 1031.1 1062.9 1034.4 1064.1 1035.3 1063.7 1035.6 1064.5 1037.4 1062.4 1038.6 1063.2 1040.1 1062.1 1041.3 1062.3 1042.5 1063.4 1043.1 1062.2 1044.6 1062.2 1045.2 1062.9 1045.5 1062.2 1046.7 1063 1047.3 1062.8 1048.2 1064 1049.7 1062.9 1050.3 1063.4 1051.5 1061 1051.8 1061.4 1052.4 1060.5 1053.9 1061.2 1055.1 1060.6 1055.7 1060.9 1057.2 1059 1060.8 1045.2 1062.3 1042 1063.2 1042.6 1067.7 1060.3 1070 1062.5 1071.2 1062.6 1072.1 1061.8 1072.7 1062.6 1073.6 1061.8 1075.1 1062.2 1076.3 1063.5 1077.2 1062.8 1078.1 1063.5 1079 1062 1079.3 1062.5 1079.9 1061.6 1080.5 1061.7 1081.7 1060.3 1082.3 1061.2 1082.9 1060.4 1083.8 1060.7 1084.4 1062 1085.6 1062.6 1087.1 1062 1088 1063.7 1089.5 1062.1 1091 1061.8 1097 1050 1100 1054 1101.5 1058.6 1104.2 1064 1105.4 1062.4 1105.7 1062.8 1106.3 1061.9 1107.2 1062.3 1108 1060.6 1108.6 1060.6 1109.8 1061.9 1110.1 1061.6 1110.7 1062.6 1111.3 1062.1 1112.5 1063.4 1114.3 1062.7 1114.9 1063.2 1115.5 1062.2 1116.1 1062.8 1117 1062.4 1117.9 1064.1 1118.8 1064.3 1119.4 1063.2 1120.3 1063.7 1121.2 1062.7 1121.5 1063.1 1122.1 1061.2 1124.2 1063 1125.7 1062.6 1126.6 1064 1127.5 1063.3 1129 1063.5 1130.8 1066.3 1131.1 1065.6 1131.7 1066.1 1133.8 1065.2 1135.9 1062.4 1137.1 1063.5 1138.3 1062.2 1140.1 1063.5 1140.7 1063.5 1141 1062.8 1142.8 1063.9 1143.7 1063.6 1144 1064.7 1144.9 1064.4 1145.5 1065.1 1146.1 1064.7 1146.7 1065.2 1146.9 1064.6 1149 1063.9 1149.3 1064.6 1149.9 1063.7 1150.8 1064.1 1151.7 1063.3 1152.3 1064.3 1153.8 1062.7 1155 1063.4 1155.3 1062.6 1155.9 1063 1156.8 1062.6 1159.2 1065.7 1159.5 1065 1160.7 1065.7 1163.7 1063 1164 1063.5 1164.3 1062.9 1165.5 1063.1 1166.4 1064.9 1167.9 1063.8 1169.7 1064.6 1170.9 1062.4 1171.8 1062.6 1172.7 1061.9 1173 1062.5 1174.5 1063.1 1175.1 1064.3 1175.7 1063.7 1176 1064.3 1178.1 1065.1 1178.4 1064.5 1179.6 1064.5 1180.2 1065.5 1181.7 1064.7 1182 1064 1183.2 1064.7 1185 1064.2 1185.6 1065.1 1187.6 1065.6 1188.2 1066.7 1188.8 1066.7 1190 1065.2 1191.2 1066.4 1192.4 1064.2 1194.2 1064.5 1194.5 1065.3 1195.7 1063.6 1196 1064.7 1196.9 1064.6 1197.2 1063.9 1197.5 1064.4 1199 1064 1201.7 1066 1202.9 1065.5 1203.8 1063.7 1205 1062.8 1205.6 1063.2 1206.8 1062.3 1207.4 1062.3 1208.9 1064.6 1209.5 1063.9 1210.1 1064.1 1210.4 1063.3 1210.7 1063.7 1211.9 1063.3 1212.5 1062.4 1213.4 1062.5 1214.9 1064.6 1215.2 1063.9 1216.4 1065.3 1216.7 1064.5 1217 1065.4 1217.3 1064.7 1220.3 1065 1220.9 1064.3 1221.2 1065.4 1221.5 1064.7 1222.7 1065.3 1223.6 1064.7 1223.9 1065.2 1224.8 1064.5 1225.7 1064.8 1225.9 1064.4 1226.8 1064.4 1228.6 1061.9 1230.4 1061 1235.2 1051.6 1236.1 1052.3 1238.8 1057.7 1239.4 1057.9 1240.6 1060.9 1240.9 1061.3 1241.5 1060.5 1242.4 1062.7 1243.3 1062.7 1243.9 1064 1245.1 1063.4 1246 1064.6 1246.6 1063.6 1248.1 1064.3 1248.4 1063.7 1248.7 1064.1 1250.2 1063.7 1251.1 1064.7 1252 1064.6 1252.6 1065.1 1252.9 1064.8 1253.5 1065.2 1254.4 1064.3 1254.7 1065.2 1255.9 1063.7 1256.8 1064.1 1257.1 1063.6 1257.4 1064.4 1258 1063.9 1258.6 1064.8 1259.8 1063.4 1261.6 1064 1263.1 1062.6 1263.4 1063.2 1264.9 1062.6 1265.4 1063.3 1266.3 1062.8 1268.4 1065.1 1269 1064.4 1270.5 1064.1" fill="none" stroke="#000" stroke-width="30" stroke-linejoin="round" stroke-linecap="round"/><g fill="#000"><circle cx="345.6" cy="923.5" r="15"/><circle cx="345.9" cy="897.6" r="15"/><circle cx="346.2" cy="868.1" r="15"/><circle cx="346.5" cy="835.8" r="15"/><circle cx="346.8" cy="802.7" r="15"/><circle cx="347.1" cy="770.4" r="15"/><circle cx="348.6" cy="757.1" r="15"/><circle cx="348.9" cy="786.8" r="15"/><circle cx="349.2" cy="820" r="15"/><circle cx="349.5" cy="853" r="15"/><circle cx="349.8" cy="884.3" r="15"/><circle cx="350.1" cy="912.2" r="15"/><circle cx="350.4" cy="936.5" r="15"/></g>
<path d="M116.4 1041.9L117.3 1041.4 117.9 1040 118.5 1042.3 119.4 1043.3 120.3 1043.5 120.9 1042.2 122.1 1043.7 123 1043.4 124.1 1044.5 124.7 1043.4 125.3 1044.6 125.9 1044.7 126.5 1042.2 127.7 1045.6 128.9 1044.1 129.5 1045.4 130.4 1043.9 131.6 1043.2 132.8 1045.7 133.7 1045.5 134.9 1047.7 136.1 1045.3 137.3 1047.4 137.9 1047.5 138.8 1045.2 140 1046 140.3 1045.2 141.5 1047.1 142.4 1045.9 143.3 1047.1 144.2 1045.6 145.4 1045.3 146.6 1048.4 146.9 1047.7 147.8 1047.7 148.7 1048.8 149.3 1048.1 150.2 1049.8 151.7 1047.9 152 1048.8 152.6 1048.1 153.2 1048.7 153.5 1048.2 154.4 1048.8 154.7 1048.3 155.3 1049 155.6 1048.6 155.9 1049.7 157.1 1050.2 158.3 1047.7 158.9 1049.8 159.2 1049 159.5 1049.6 160.1 1049.2 160.7 1050.1 161.3 1049.6 162.2 1050.7 163.3 1050.5 163.9 1051.2 164.8 1049.8 165.1 1050.4 165.7 1049 166 1049.8 166.6 1048.9 167.5 1050.7 168.1 1050.9 168.7 1050.3 169 1050.8 169.9 1051 171.1 1052.9 171.7 1052.4 172.3 1053.3 172.6 1051.8 173.2 1053.1 173.5 1052.5 173.8 1053.4 174.1 1053.2 174.4 1051.3 176.2 1053.1 177.1 1050.9 179.5 1053.7 180.1 1052 180.4 1052.7 180.7 1051.1 181.3 1051.1 181.6 1050.5 182.8 1053.9 184 1051.5 184.9 1053.4 185.5 1053.6 186.1 1052.1 187 1053.7 188.2 1052 189.4 1055.1 190.9 1053.4 191.2 1054.6 192.1 1053.8 193 1055.5 193.6 1053.5 193.9 1054.1 194.5 1052.9 195.7 1054.9 196.6 1054.7 197.5 1051.8 198.7 1054.7 199 1054.1 199.9 1054.3 200.2 1053.9 201.4 1057 203.4 1054.7 204 1056.1 204.9 1054.2 205.8 1054.3 206.1 1053.7 208.5 1055.5 209.7 1055 211.2 1056.5 212.1 1056.2 213.3 1054.3 215.1 1057.6 216.6 1055.1 217.8 1058.4 218.4 1056.3 219.9 1056.8 220.2 1058.3 220.8 1057.9 221.7 1055.2 222.9 1057.2 224.1 1055.1 224.7 1055 225 1055.7 225.3 1055.3 226.2 1055.7 226.5 1056.5 226.8 1056.1 228.3 1058.2 228.6 1056.8 229.2 1057 229.5 1056.3 230.4 1057.2 231.3 1054.9 232.8 1058.7 234 1055.9 234.9 1058.2 236.1 1056.4 237 1057.6 237.6 1056.9 237.9 1057.3 238.5 1056.7 240 1057.7 241.4 1055.9 241.7 1056.9 242.9 1056.8 243.2 1057.6 244.4 1055.3 246.5 1058.4 247.1 1056.4 247.4 1057.1 247.7 1056.4 248.3 1058.4 249.2 1058.7 249.8 1056.4 250.7 1055.2 251.9 1059.6 253.4 1056.5 254 1057.4 255.2 1057.9 256.1 1056.2 257 1058.3 257.9 1056.7 258.8 1056.7 259.1 1056.2 260.3 1058.5 260.9 1057.6 261.2 1058.1 262.4 1056 263 1056.6 263.6 1059.5 264.8 1056.5 265.4 1058.4 266.3 1057.9 266.9 1059.6 267.8 1058 268.4 1057.9 269 1058.5 269.3 1057 269.6 1057.6 270.2 1056.6 271.4 1058.5 272.6 1055.4 272.9 1056 273.5 1055.6 274.1 1056.1 274.7 1055.4 277.1 1056.1 278 1054.2 279.5 1052.7 280.4 1056.1 281.2 1054.6 282.1 1056.9 283 1055.2 283.9 1058.4 286.6 1056.6 288.4 1058.5 288.7 1057.8 289.6 1057.7 290.2 1058.8 290.5 1057.6 292 1058.6 292.6 1056.8 293.5 1058.3 293.8 1057.7 294.1 1058.2 294.7 1057.9 295 1060.2 296.8 1057 297.1 1057.7 297.7 1056.7 298 1058.2 299.2 1057.1 299.5 1057.4 300.4 1057.1 301 1058.5 301.6 1058.6 302.2 1057.2 303.7 1058.5 304.3 1057.1 305.5 1056.9 305.8 1055.3 307 1056.5 307.9 1055.2 309.4 1058.4 310 1057.5 310.6 1057.6 311.2 1059.1 311.8 1059.2 312.1 1057.8 312.7 1059.2 313 1058.9 313.3 1059.2 315.1 1056.7 316.3 1058.7 316.9 1057.2 318.1 1059.1 318.7 1057.8 319 1058.8 319.3 1058.4 319.6 1059 320.1 1058.1 321.3 1059.6 322.5 1056.9 323.1 1056.9 324.3 1055.5 325.2 1059.5 325.8 1059.5 326.7 1056.5 327 1056.9 327.6 1055.8 327.9 1056.9 328.2 1055.9 329.4 1057.4 330.3 1054.9 331.5 1057.3 331.8 1056.4 332.7 1056.6 333 1055.2 333.6 1055.5 333.9 1054.8 334.2 1055.9 335.1 1053.3 335.4 1053.9 335.7 1053 336.3 1054.2 336.6 1053.6 336.9 1053.9 337.8 1049.7 339 1048.4 339.6 1046 340.2 1045.5 340.5 1046.1 340.8 1044.7 342.9 1027.2 344.1 999.7 345.6 914.8 347.4 734.1 348 719.6 350.4 941 352.2 1016.9 353.7 1035.3 357.3 1051.4 358.2 1051.4 359.4 1054.5 359.9 1054.6 360.5 1053.6 363.2 1056.8 363.8 1056.6 364.1 1054.8 364.7 1055.6 365 1055 365.3 1056.6 365.9 1055.5 367.7 1058.6 368.3 1058.7 368.9 1057 369.5 1056.8 369.8 1057.8 371 1057.8 371.6 1057.2 372.2 1058.8 373.1 1057.7 373.7 1058.1 374.3 1056.8 375.2 1059.8 376.1 1056.8 377.3 1060.1 378.8 1056.7 380 1058.4 380.3 1057.9 381.5 1058.9 381.8 1058.2 382.7 1058 383.3 1058.8 384.5 1056.6 386 1058.6 386.6 1058.4 386.9 1059 387.2 1058.7 387.5 1059.4 388.4 1059.3 388.7 1058.7 389.9 1059.5 390.8 1059.1 391.7 1057.1 392.3 1057.9 392.6 1057.3 393.2 1058.5 393.5 1057.9 393.8 1058.4 394.4 1057.1 395.9 1060.1 396.5 1057.9 397.4 1058 397.7 1058.5 398.3 1057.4 398.6 1058.4 399.7 1056 400.9 1058.8 402.7 1055.7 403 1056.6 403.9 1056.7 404.2 1055.7 405.4 1056.4 408.7 1051.3 410.8 1041.3 411.4 1035.6 413.5 980.4 415 920.9 415.9 905.9 416.8 921.4 419.2 1011.1 420.7 1038.6 424 1055.7 424.9 1056.6 425.8 1055.1 427 1056.2 427.3 1055.8 427.9 1056.9 428.2 1056.4 429.4 1057.1 430.3 1055.7 431.5 1059.1 432.1 1058.1 432.4 1059 432.7 1057.8 433.3 1058.8 433.9 1058 434.5 1058.2 435.1 1060.6 436.6 1058.3 437.2 1060 438.3 1057.8 439.2 1059.8 439.8 1058.9 441 1059.6 441.3 1057.9 441.6 1058.3 441.9 1057.7 442.5 1059 444.3 1060.1 444.6 1058.7 444.9 1059.3 445.5 1059 445.8 1059.9 446.7 1058.8 447.6 1059.6 448.5 1057.5 450.3 1061.1 451.2 1061.6 452.1 1058.4 453 1057.4 453.6 1060.1 454.2 1060.2 454.8 1059.1 455.4 1060 456 1059.1 457.2 1061 458.1 1059.4 459.3 1053.9 459.6 1054.2 461.1 1051.4 463.2 1056.1 463.8 1057.2 464.1 1056.7 464.4 1057.1 465.3 1059.2 468.6 1059.3 469.2 1058.5 470.4 1059.5 471.6 1058.6 471.9 1060.1 472.8 1060.2 473.1 1058.1 473.7 1057.7 475.8 1061 477 1058.8 477.8 1060 478.7 1059.6 479.9 1062.1 481.1 1059.3 482.9 1059.2 484.4 1061.5 485.3 1060 485.9 1060.4 487.1 1058.5 488.6 1061 489.2 1059.7 489.5 1061.2 490.1 1059.9 490.4 1060.7 490.7 1059.8 491.6 1061.4 491.9 1060.3 492.8 1059.9 493.1 1061.7 493.7 1061.6 494.3 1060 494.9 1060.6 495.2 1059.9 495.5 1060.3 496.1 1059.8 496.7 1062.9 497.9 1060.1 498.2 1060.6 498.5 1060 498.8 1060.3 499.1 1059.1 500.3 1061.5 501.5 1058.8 502.4 1061.6 503.3 1059.9 503.9 1061 504.2 1059.9 505.1 1061.3 506.3 1059 506.9 1060.5 507.5 1059.7 507.8 1060.8 508.4 1061 509 1059.4 509.9 1061.8 511.1 1060.5 512.3 1062.8 513.5 1060.6 514.7 1060.8 515 1059.9 516.2 1061.4 516.8 1059.6 517.9 1061.3 519.1 1060.5 520 1062.4 521.8 1058.8 523.3 1061.9 524.2 1060.7 524.8 1060.6 525.1 1061.4 525.4 1059.9 525.7 1061 527.2 1058.3 528.7 1059.9 529 1058.9 530.2 1060.9 531.1 1060.6 531.7 1061.1 532 1059.8 532.3 1060 532.9 1059.2 534.1 1060.7 535.3 1059.7 536.8 1062.5 537.7 1060.9 538.3 1060.6 538.9 1061.3 539.2 1060.3 540.1 1061.1 540.4 1062.5 541.9 1059.2 543.1 1061.5 544.3 1061.1 545.2 1062.8 546.1 1061.6 547 1061.9 547.6 1060.1 548.2 1060.5 548.5 1062.2 549.7 1059.9 550.6 1060.6 550.9 1060.1 551.5 1061 552.4 1060.5 552.7 1059.2 554.2 1060.8 554.8 1059.5 556.3 1062.2 556.5 1061.2 556.8 1061.7 559.5 1061.4 559.8 1061.8 560.4 1060.7 561.6 1062.5 562.5 1060.3 564.3 1059.3 564.6 1060.5 565.2 1060.1 565.5 1061.2 565.8 1060.7 567 1063.1 567.3 1062 567.6 1062.5 568.2 1059.6 569.4 1061.8 570 1062.3 570.9 1061.3 572.1 1063.2 573.9 1060.2 574.5 1061.1 576.3 1059.6 576.9 1061 577.8 1061 578.1 1060.2 578.4 1061.2 579 1060.5 579.3 1060.9 580.2 1060.5 580.8 1059.3 582.3 1062 583.2 1062.6 583.5 1061.9 584.4 1061.8 585 1060.3 586.2 1062.8 587.7 1062.2 588.9 1060.1 590.1 1062.2 590.4 1061.5 590.7 1061.9 591.3 1061 591.6 1061.6 592.2 1061 592.8 1061.3 594 1059.9 594.9 1059.8 596.9 1061.4 597.2 1060.6 597.5 1061.5 598.1 1061.1 599.6 1063 599.9 1061.7 601.1 1063.5 601.7 1061.6 602 1062.1 602.6 1061.1 602.9 1062 603.8 1061.7 604.7 1060.3 605.3 1060.2 606.5 1061.9 607.1 1061.4 607.7 1061.8 608.6 1060 609.5 1060.1 610.1 1058.8 611.6 1060.8 612.5 1059.1 613.4 1060.2 614 1059.3 614.9 1061.6 615.8 1059.6 616.7 1059.4 617.3 1058.3 618.2 1058.9 619.4 1057.3 620.6 1059.1 621.8 1055.8 622.7 1054.4 623 1054.8 623.6 1053.4 625.1 1042.7 628.4 968.2 629.3 957.6 630.2 969.4 632.6 1028.3 634.1 1046.5 635.8 1056 637 1056 638.8 1058.7 639.4 1057.2 640.6 1061.7 641.5 1059.8 642.1 1060.4 643 1059.6 643.6 1057.4 646.3 1060.4 646.6 1059.5 647.2 1060.1 647.5 1058.8 648.1 1058.9 648.4 1058.3 650.2 1062.6 650.8 1062.7 651.7 1060.3 652.3 1060.9 653.2 1060.4 654.1 1061.5 655.3 1059.9 656.5 1061.2 657.7 1059.7 658.6 1061.4 659.8 1060.3 660.7 1061.8 661.6 1060.5 662.8 1062.5 663.7 1062.6 664.9 1059.5 666.1 1061.7 667.3 1059.5 668.5 1061.2 670 1060.6 670.6 1062.1 671.8 1059.8 673 1062 673.9 1060.3 675.9 1061.6 676.2 1060.7 677.7 1063.5 678.9 1061 679.2 1062.4 679.5 1061.8 680.1 1062.4 680.7 1060.6 681.3 1061 681.6 1060.6 681.9 1061.5 682.2 1060.9 682.8 1062.7 683.4 1062.6 684 1061.4 685.5 1061.7 685.8 1061.3 687 1062.4 687.9 1059.9 688.5 1060.8 688.8 1060.1 689.7 1062 690.9 1061.3 691.5 1062.7 692.4 1062.2 692.7 1060.8 693.9 1062.4 694.8 1061.3 696 1062 696.6 1061.2 696.9 1061.8 698.1 1060.4 698.7 1062.8 699.3 1062.5 699.9 1060.7 700.5 1060.6 700.8 1061.3 701.1 1060.7 702.9 1062.7 703.5 1061.8 704.7 1062.7 705.6 1061.2 706.8 1062.4 707.4 1061.6 708.9 1063.8 710.4 1061.2 710.7 1062 711.3 1062 711.6 1063.9 713.7 1061.2 713.9 1059.5 715.1 1062.7 717.5 1060.4 718.7 1063.7 719.9 1060.1 722.3 1062.9 724.1 1060.3 724.7 1060.9 725.3 1063.6 726.5 1060.8 727.1 1063.1 728.6 1060.4 728.9 1061.1 729.2 1060.4 729.8 1062.6 730.7 1062.8 731.3 1062.3 731.9 1062.7 732.8 1060.8 734 1063.5 735.5 1061.5 736.1 1062.8 736.7 1061.6 737 1062.3 737.3 1061.2 737.9 1061.9 738.8 1060.5 740.3 1061.7 741.5 1060.8 742.1 1061.8 743.3 1060.4 743.9 1060.9 744.8 1059.5 745.4 1059.9 746.9 1058.8 747.2 1060.2 747.8 1059.6 748.1 1060.3 748.4 1058.6 748.7 1059.1 749.3 1057.8 750.8 1060 751.1 1058.8 751.7 1059.1 752 1057.7 752.6 1058.9 755.5 1046.5 756.1 1041.1 760 971.2 760.6 967.8 761.5 975.5 764.8 1036.6 765.7 1046.9 766.9 1053 768.4 1057.7 769 1058.2 769.6 1057 770.5 1059.2 771.7 1058.8 772.6 1060.8 773.8 1060.5 774.1 1061.1 775.3 1059.6 776.8 1061.6 777.1 1060.3 777.7 1061.2 778 1060.1 778.3 1062.1 778.9 1060.3 780.4 1061.6 781 1060.2 781.6 1060.2 781.9 1059.4 782.2 1060.2 782.8 1059.5 783.7 1062.1 784.9 1062 785.5 1063.6 785.8 1062.7 787.6 1063.5 789.7 1060.4 790 1060.1 790.3 1060.9 791.5 1059.1 792.9 1061.4 793.5 1059.6 794.7 1059.9 795.3 1058.3 796.5 1057.6 797.4 1055.5 799.5 1043.5 800.1 1042.7 801.3 1037 801.9 1037.9 804.9 1051.3 806.1 1058.8 807.3 1059.5 807.6 1061.1 808.5 1061.7 808.8 1060 809.7 1060 810 1061.7 810.9 1062.4 811.2 1060.8 811.8 1060.4 812.7 1063.3 813.6 1061.4 814.5 1060.8 816 1063.8 816.6 1062.7 816.9 1063.2 817.8 1062.4 818.4 1060.3 819.3 1062.9 819.9 1063 820.5 1062.3 821.4 1064.3 822.6 1060.7 824.4 1062.2 825.9 1061.2 827.1 1063 828.3 1061.2 829.2 1062.6 830.4 1061.7 831.6 1062.3 832.1 1061.6 832.4 1062.4 833.3 1062.7 835.1 1061.6 836.9 1064.7 838.1 1062.1 839 1064.8 839.6 1064 840.2 1064.4 840.5 1063 841.1 1063.3 841.4 1062.3 842 1062.6 842.3 1061.3 842.9 1063.8 843.8 1063.2 844.4 1061.2 845 1061.6 845.9 1064.3 847.1 1063.1 847.4 1064.1 848.6 1062.7 849.5 1064 850.7 1061.1 852.2 1063.2 852.8 1060.8 854.3 1063.4 855.5 1062.5 856.7 1063.6 857.3 1063.5 857.9 1062.5 859.1 1062.8 859.4 1062.1 860.3 1062.6 861.8 1064.9 862.4 1062.8 863.3 1063.1 864.5 1062.5 865.1 1064.4 866.3 1061.8 867.5 1064 867.8 1062.9 869.9 1062.2 870.2 1063.6 871.1 1063.8 872.2 1061.1 873.4 1064.4 873.7 1062.6 874.3 1062.3 875.5 1064.3 876.1 1064.5 877.3 1063.5 878.5 1064.2 879.4 1062.1 880.6 1065 881.2 1063 882.4 1063.1 883.3 1061.6 883.6 1062.3 884.2 1062.1 884.5 1063 885.4 1062.1 886 1062.7 886.3 1062 887.2 1062.3 887.5 1063.3 888.1 1062.7 889.3 1064.8 890.8 1061.8 892.9 1064 894.1 1064.2 894.4 1063.8 895 1064.6 895.3 1063.4 895.6 1063.9 896.2 1063.6 896.8 1062.2 897.4 1062.2 897.7 1063.3 898.9 1061.7 899.8 1063.5 901 1062 901.6 1063.4 901.9 1062.7 902.2 1063.6 902.5 1062.8 903.1 1064.1 903.4 1063.1 903.7 1064 904.3 1063.5 905.2 1061.5 906.1 1062.1 906.7 1061 907 1061.5 907.3 1060.6 908.5 1063.6 909.1 1062.7 909.4 1063 909.7 1062.6 910 1063.2 910.6 1061.9 911.7 1064.3 912.6 1063.4 912.9 1063.9 913.8 1063.3 914.1 1062.2 914.4 1063.8 914.7 1062.7 915.3 1063.2 915.6 1062.4 916.2 1064 917.4 1062.5 918 1063.8 918.9 1063.6 919.2 1062.7 920.4 1063.4 921 1061.5 922.5 1064.8 923.7 1063.1 924.6 1065 925.8 1062.2 927 1063.6 928.2 1063.6 929.4 1061.4 930 1063.3 930.9 1061.8 931.8 1063.9 932.4 1063.4 933.3 1063.6 933.6 1064.9 934.2 1063.6 934.5 1064 934.8 1062.6 935.7 1064.7 936.9 1060.9 938.4 1064.6 939.6 1063.1 940.8 1064.7 942 1061.8 942.9 1063.4 943.5 1062.8 943.8 1063.6 944.4 1062.6 945.6 1064.7 946.8 1062.1 948.6 1063.6 949.8 1060.5 950.3 1061.4 951.5 1059.4 952.1 1059.3 952.4 1060.2 953.6 1057.6 954.8 1057.3 956 1055.6 957.2 1058.9 957.8 1059.6 958.4 1059.3 960.2 1062.2 960.5 1061.7 960.8 1062.5 961.4 1062 961.7 1063.8 962.6 1064.2 963.5 1062.7 964.7 1062.9 965.3 1060.7 966.8 1064.2 967.1 1063.4 967.4 1064.1 968 1063.4 968.3 1064.1 968.9 1062 969.8 1062.5 971 1062.1 972.2 1063.1 972.5 1062.3 972.8 1063.2 973.4 1062.8 973.7 1063.4 974.6 1062.1 976.4 1063.9 977.6 1061.1 979.7 1065 980 1064.5 980.6 1065.2 981.8 1062.2 982.7 1064.4 983.6 1062.1 984.8 1065.4 985.1 1064.2 986 1063.8 986.3 1064.8 986.6 1064.4 986.9 1064.8 987.5 1063.4 987.8 1064.1 988.4 1063.4 988.7 1064.6 990.4 1061.8 991 1061.7 992.8 1064.1 994.3 1063.3 994.9 1064.8 996.1 1062.9 996.4 1063.8 997 1062.9 998.8 1063.4 999.4 1062.6 1000 1062.9 1000.3 1062.2 1000.6 1063.2 1001.2 1062.6 1001.8 1064.1 1002.1 1063.5 1002.7 1063.9 1003 1063.1 1003.3 1063.7 1003.9 1062.5 1005.4 1064.2 1005.7 1063.3 1006.3 1063.5 1007.2 1062.3 1007.8 1060.5 1010.2 1064.5 1011.1 1062.4 1011.4 1062.1 1011.7 1062.5 1012 1061.3 1012.3 1063.2 1013.2 1063.7 1014.1 1063 1015 1064.6 1015.9 1063.2 1016.8 1064.5 1017.4 1064.3 1017.7 1065.3 1018.3 1064.9 1019.2 1062.5 1020.1 1062.4 1020.7 1064 1021.6 1064.4 1021.9 1063.8 1022.5 1065 1023.7 1062.8 1024.9 1063.2 1025.5 1064.8 1026.7 1062.5 1027 1063.3 1027.9 1063.2 1029.9 1065.7 1031.1 1062.3 1032.3 1061.4 1032.6 1062 1032.9 1061.4 1033.2 1062.7 1033.8 1062.2 1034.4 1062.5 1035 1064.1 1036.2 1061.8 1036.8 1063.3 1037.1 1062.8 1037.7 1063 1038 1062.3 1039.2 1062.1 1039.5 1063.1 1040.4 1063.7 1041.6 1061.9 1043.1 1064 1043.7 1062.5 1044 1063.1 1044.3 1061.8 1046.4 1064.8 1047.6 1062.1 1048.2 1063.2 1049.1 1061.7 1050 1061.3 1051.5 1063.6 1052.7 1060.3 1053.6 1061 1054.5 1060.6 1054.8 1059.4 1055.1 1060.3 1055.7 1058.2 1056.9 1058.4 1058.4 1054.9 1062.3 1034.7 1064.7 1042.1 1066.8 1054 1070.6 1061.8 1071.2 1060.9 1072.1 1060.8 1073.3 1065.4 1074.2 1063.1 1075.4 1064 1077.2 1060.8 1078.4 1064 1079.3 1061.6 1080.8 1063 1082 1061.4 1083.2 1064.1 1084.7 1062.8 1085 1063.7 1085.3 1063.2 1085.9 1063.6 1087.4 1061.4 1087.7 1061.8 1089.2 1061.5 1089.5 1062.3 1090.7 1060 1091.6 1060.8 1092.2 1058.5 1092.5 1059.2 1093.1 1057.4 1093.7 1053.7 1094.9 1052.2 1096.7 1046.6 1097 1048.2 1097.6 1047.7 1098.2 1048.6 1098.8 1050.9 1099.4 1050.5 1100 1051.6 1103.6 1060.6 1104.2 1059.7 1104.8 1059.9 1105.4 1061.4 1106 1060.1 1107.2 1062.3 1107.7 1061.7 1108.9 1063.6 1109.8 1061.3 1110.4 1063.1 1111.6 1061.2 1112.2 1063.2 1112.5 1062.9 1112.8 1063.7 1113.1 1062.9 1113.7 1064.1 1114 1062.4 1114.3 1062.9 1114.6 1061.9 1116.7 1063.2 1117.9 1062.5 1118.2 1063.2 1118.8 1062.2 1120 1064.3 1120.6 1063.5 1121.2 1064.1 1122.7 1063.9 1123.6 1062.2 1124.5 1064.5 1125.7 1062.6 1126.6 1064.2 1127.2 1063.7 1127.5 1064.4 1128.4 1063.5 1129.6 1063.9 1130.2 1062.4 1130.5 1063.3 1131.7 1062.8 1132.6 1064.7 1133.5 1063.2 1134.4 1063.5 1135.6 1062.2 1136.5 1064 1137.7 1064.5 1138.9 1063.4 1139.8 1065.3 1141 1063.9 1141.3 1064.7 1141.9 1064.6 1142.5 1062.8 1142.8 1063.5 1143.4 1063.4 1143.7 1064.5 1144.3 1063.5 1144.9 1064.3 1145.2 1063.6 1145.8 1064.3 1147.2 1063.3 1148.7 1066 1150.5 1062.9 1152 1064.7 1153.2 1063.1 1154.4 1065.7 1155 1063.6 1155.3 1065 1155.6 1064 1156.2 1064.6 1156.5 1063.7 1156.8 1064.1 1157.7 1063.7 1158.3 1062.6 1159.5 1066.4 1160.7 1064.2 1161.3 1064.4 1162.5 1063.2 1162.8 1064.2 1163.1 1063 1163.4 1064 1164 1062.7 1164.3 1063.8 1165.2 1062.6 1166.4 1063.5 1167 1064.8 1168.5 1063.9 1169.7 1064.7 1170.6 1064.2 1171.2 1065.6 1172.1 1066.3 1172.4 1064.5 1173.3 1063.7 1173.6 1064.2 1174.2 1063.9 1174.5 1063.2 1175.7 1066.4 1176.9 1062.9 1177.5 1064.3 1178.4 1064.2 1179 1065.5 1179.6 1064.4 1179.9 1064.7 1180.2 1063.6 1180.8 1065.2 1181.1 1063.7 1182 1063.4 1182.3 1064.3 1183.5 1063.4 1184.4 1063.8 1184.7 1062.9 1185.3 1063.8 1185.6 1063.4 1186.2 1066.3 1187.3 1063.2 1188.2 1066.3 1189.4 1064.7 1190 1064.4 1190.3 1064.8 1190.9 1063.7 1191.8 1063.6 1192.4 1064.8 1193.6 1063.2 1194.5 1065.5 1195.7 1063.6 1196 1063.9 1197.5 1063.3 1198.4 1064 1198.7 1063.4 1199.3 1063.9 1200.2 1063.3 1202.3 1064.9 1203.5 1063 1204.7 1064.9 1206.2 1062.8 1208 1065.5 1209.2 1065.7 1210.4 1063.2 1211 1063.3 1212.8 1066.1 1213.1 1064.8 1214 1064.1 1214.3 1064.5 1214.9 1063.1 1215.2 1063.6 1215.5 1062.9 1216.1 1063.6 1216.4 1062.6 1216.7 1064.1 1217.3 1063.1 1217.6 1064 1217.9 1063.5 1219.1 1064.9 1219.7 1064.4 1220 1064.8 1221.2 1062.9 1222.1 1064.5 1223.3 1060.9 1223.9 1062.6 1225.9 1065.3 1226.2 1063.5 1230.1 1060.2 1232.8 1054.6 1233.1 1055.2 1234.3 1051.1 1234.9 1051 1237 1055.6 1238.5 1056.1 1239.1 1058.5 1240 1059.6 1240.3 1058.8 1241.8 1062.6 1243 1063.4 1243.6 1065.6 1244.8 1064 1245.4 1065.3 1246.6 1063.2 1247.2 1063.6 1247.5 1062.5 1248.1 1063.2 1248.4 1062.1 1249.6 1064.6 1250.5 1063.4 1251.7 1064.7 1252 1063.4 1253.2 1065 1253.5 1064.4 1254.4 1064.6 1254.7 1065.7 1255.3 1065 1256.5 1065 1257.7 1063.1 1258 1064.4 1258.3 1063.3 1258.6 1064.2 1259.2 1063.2 1260.1 1065.3 1261 1064.9 1262.5 1065.4 1263.1 1066.4 1264.3 1065.3 1265.1 1066.3 1266 1065.2 1266.9 1066.2 1267.5 1065.1 1269.3 1066.9 1269.9 1066.6 1270.5 1065" fill="none" stroke="#f00" stroke-width="9" stroke-linejoin="round" stroke-linecap="round"/>
<path d="M163 1101.8H168.7V1135.5H163Z M177.9 1101.8H183.6V1135.5H177.9Z M213.7 1101.8H219.4V1135.5H213.7Z M244.4 1101.8H250.1V1135.5H244.4Z M265.6 1101.8H271.3V1135.5H265.6Z M275.8 1101.8H281.5V1135.5H275.8Z M302.9 1101.8H308.6V1135.5H302.9Z M326.6 1101.8H333.5V1135.5H326.6Z M344.5 1101.8H350.2V1135.5H344.5Z M396.6 1101.8H402.9V1135.5H396.6Z M409.8 1101.8H426.2V1135.5H409.8Z M439 1101.8H446.3V1135.5H439Z M458 1101.8H463.7V1135.5H458Z M470.3 1101.8H485.2V1135.5H470.3Z M494.2 1101.8H503.6V1135.5H494.2Z M513.9 1101.8H521.1V1135.5H513.9Z M525.1 1101.8H533.2V1135.5H525.1Z M547.6 1101.8H553.3V1135.5H547.6Z M565.2 1101.8H572.7V1135.5H565.2Z M580 1101.8H585.7V1135.5H580Z M597.2 1101.8H602.9V1135.5H597.2Z M614.1 1101.8H620.8V1135.5H614.1Z M623.8 1101.8H637.4V1135.5H623.8Z M646.9 1101.8H652.6V1135.5H646.9Z M667.7 1101.8H684.2V1135.5H667.7Z M688.5 1101.8H698.7V1135.5H688.5Z M705.5 1101.8H711.2V1135.5H705.5Z M711.7 1101.8H727.5V1135.5H711.7Z M731.8 1101.8H741.5V1135.5H731.8Z M747.5 1101.8H765.6V1135.5H747.5Z M787.9 1101.8H795.8V1135.5H787.9Z M797 1101.8H806.1V1135.5H797Z M827.3 1101.8H849V1135.5H827.3Z M849.7 1101.8H861.8V1135.5H849.7Z M872.7 1101.8H882.9V1135.5H872.7Z M888.2 1101.8H898.4V1135.5H888.2Z M905 1101.8H912V1135.5H905Z M913.7 1101.8H921.6V1135.5H913.7Z M925.7 1101.8H935.8V1135.5H925.7Z M941.9 1101.8H963.6V1135.5H941.9Z M965.9 1101.8H975.7V1135.5H965.9Z M981.9 1101.8H1011.7V1135.5H981.9Z M1013.6 1101.8H1033.9V1135.5H1013.6Z M1034.3 1101.8H1065.1V1135.5H1034.3Z M1079.8 1101.8H1105.9V1135.5H1079.8Z M1108.8 1101.8H1120.3V1135.5H1108.8Z M1120.9 1101.8H1136.5V1135.5H1120.9Z M1139.9 1101.8H1153.9V1135.5H1139.9Z M1154.6 1101.8H1168.5V1135.5H1154.6Z M1175.5 1101.8H1197.3V1135.5H1175.5Z M1198 1101.8H1207.5V1135.5H1198Z M1207.9 1101.8H1224.3V1135.5H1207.9Z M1227 1101.8H1241.7V1135.5H1227Z M1257.8 1101.8H1271.6V1135.5H1257.8Z" fill="#000"/>
<path d="M116.4 1186.2L117 1187.5 117.6 1186.9 118.2 1187.7 120 1184 121.8 1185.3 123.2 1189.8 123.8 1186.5 124.7 1185.5 125.3 1185.9 125.9 1185 126.5 1185.1 127.4 1188.2 128.6 1185.2 129.5 1186 130.4 1185.2 131.9 1188.3 132.5 1188.3 132.8 1187.2 133.1 1188 133.7 1187.6 134.3 1189.7 134.6 1188.1 135.2 1188.5 135.8 1186 136.4 1187.2 136.7 1186.3 137.3 1186.5 137.9 1185.5 138.2 1186.2 139.1 1185.7 139.4 1186.3 140.3 1186 140.6 1187.1 141.2 1186.8 141.5 1187.6 142.7 1186.6 143.9 1183.3 145.1 1188 145.7 1188.4 146.3 1185.7 147.2 1184.8 148.1 1186.1 149.6 1184.8 151.1 1188.9 152.6 1185 153.5 1186.3 153.8 1185 154.4 1186.6 155 1184.3 155.3 1185.3 156.2 1184.1 156.5 1185.2 157.4 1184.7 157.7 1186.3 158.6 1185.4 158.9 1186.2 159.5 1184.6 159.8 1186.4 160.4 1185.3 161 1187.1 161.3 1186.2 161.6 1186.9 162.2 1185.8 163 1186 163.3 1184.8 164.2 1185.9 164.5 1185.3 165.1 1186.7 165.4 1185.5 166 1186.3 166.6 1186 167.8 1189.7 169.3 1186.2 169.6 1188 169.9 1186 170.8 1186.3 171.1 1185.5 171.4 1186.9 173.2 1185.1 174.1 1187.6 174.4 1186.2 174.7 1186.8 175.6 1186.5 176.2 1189.1 176.8 1188.8 177.1 1189.8 177.7 1188.8 178 1189.9 179.5 1185.3 179.8 1187.3 180.1 1186.4 180.4 1186.9 180.7 1188.8 183.1 1184.9 184.6 1188 185.5 1186 186.7 1186.9 187 1188.1 187.9 1185.6 188.8 1186.1 189.4 1187.7 190.9 1186.2 191.2 1187.6 191.5 1186.9 191.8 1187.7 192.7 1185.5 193.3 1187.2 193.9 1187.1 194.8 1184.9 195.7 1187.5 196.3 1183.6 197.2 1181.7 197.8 1184.7 198.7 1184.9 199 1186.1 199.3 1185.4 199.9 1186.4 200.5 1184.9 201.1 1184.7 201.7 1186 201.9 1185.3 202.2 1186.1 202.5 1185.5 203.1 1185.8 203.4 1187.8 203.7 1186.1 204.3 1187 204.9 1184.3 205.5 1185.3 205.8 1183.8 206.1 1185.6 206.4 1185.2 206.7 1186 207.3 1185.8 208.8 1187.6 209.1 1186.6 209.7 1187.2 210.3 1186.9 210.6 1188.1 212.1 1185.6 212.4 1186.3 213 1185.9 213.6 1186.7 213.9 1185.9 214.5 1187.4 215.1 1186.8 215.4 1187.5 215.7 1186.7 217.5 1185.6 219.9 1187.8 220.8 1186 222.3 1188.3 223.2 1186.3 223.8 1186.2 224.4 1183.8 224.7 1184.3 225.3 1184.2 226.2 1187.2 226.5 1186.7 227.4 1188.1 227.7 1186.9 228.3 1187.6 228.9 1185.3 229.5 1186.1 230.1 1186 230.7 1187.2 232.5 1183.4 233.1 1187.2 234 1189.3 234.9 1186.6 235.8 1186 236.7 1186.3 237 1185.3 238.2 1188.5 239.7 1185.4 240.6 1186.2 241.2 1185.5 241.7 1187.3 242.6 1187.7 243.2 1185.7 244.1 1186.1 244.4 1185.5 245.3 1187.2 246.8 1184.9 247.7 1187.8 248 1187.5 248.6 1188.9 249.2 1187.8 249.8 1188.1 250.4 1187 250.7 1187.4 251 1187 251.3 1185.8 251.9 1186.4 252.8 1186.2 253.1 1186.9 254.6 1185.3 254.9 1185.7 255.5 1185.4 257 1187.9 257.9 1186.2 258.5 1186.4 259.4 1188.8 259.7 1187.8 260 1188.5 260.3 1186.2 260.9 1186.1 261.2 1187.1 261.5 1185.6 261.8 1188.2 262.4 1188 263 1191 264.5 1184.6 265.7 1189.9 266.3 1187.4 266.6 1187.8 267.2 1186.2 267.8 1188.8 268.1 1188.4 269.3 1184.2 270.8 1187.4 272 1185.1 272.6 1187 274.4 1185.7 276.5 1189.9 277.1 1187.7 277.7 1188.1 278.3 1185.1 278.9 1185.5 279.2 1185.1 280.1 1186.8 280.7 1184.2 282.1 1186.5 282.7 1185.6 283.6 1186.9 283.9 1185.6 284.2 1186 284.5 1185.4 284.8 1185.7 285.1 1184.6 287.2 1188.4 288.7 1184.5 289.6 1185.4 289.9 1186.8 290.8 1187 292.6 1184.2 293.5 1184.5 294.4 1186.5 294.7 1186.2 295.6 1188.7 295.9 1187.4 296.5 1188.3 297.1 1185.4 298 1184.8 298.9 1187.1 299.5 1186.2 300.7 1186.9 301 1186.3 301.6 1187.3 301.9 1186.9 302.5 1187.1 302.8 1188.2 303.7 1186.9 304 1188.4 304.3 1187.4 304.9 1187.8 305.8 1185.1 306.4 1185.5 307 1187.3 307.9 1185.2 309.4 1186.6 310.3 1184.7 311.2 1185 311.8 1187.2 312.1 1186.8 312.7 1187.2 313 1186.2 314.5 1186.1 314.8 1185.4 316.3 1186.8 316.6 1186.3 317.2 1186.5 317.5 1185.8 319 1189 319.9 1187.1 320.7 1189 322.2 1182.9 323.7 1189.7 324.9 1186.3 325.5 1187.2 326.7 1187.4 327 1186 327.3 1186.4 327.6 1186 328.8 1183.1 330.6 1188.5 332.4 1185.6 333.9 1188.2 335.1 1185.2 336.6 1187 337.2 1186.9 338.1 1185.2 339.3 1188 339.9 1187.1 340.5 1188 341.7 1187.6 342.3 1185.7 342.6 1187 343.2 1186.4 343.8 1187.7 345 1185.3 346.2 1169.9 348.3 1200.4 349.5 1187.9 351 1184.3 351.9 1187.1 353.1 1187.1 353.4 1186.3 354 1187.8 355.2 1187 355.5 1185.8 355.8 1186.6 356.1 1185.9 356.4 1187 356.7 1186.5 357.6 1186.8 358.2 1184.7 358.5 1186.1 358.8 1185.2 359.6 1188.3 360.5 1189.3 362 1186.2 362.6 1186.7 362.9 1185.1 363.5 1185.5 364.1 1185.1 364.4 1186.1 365.6 1183.8 366.2 1185.3 366.8 1185.8 367.7 1185.3 368.6 1186.9 369.5 1186.2 369.8 1187.4 370.1 1186.1 370.4 1185.8 370.7 1186.4 371 1185.5 371.6 1185.7 372.2 1184.2 373.4 1187.1 374 1186.8 374.6 1184.8 375.8 1185.8 376.7 1187.6 377.9 1183.9 379.4 1188.9 380 1186.8 380.6 1187.2 380.9 1185.3 382.1 1185.3 383 1187 383.3 1185.9 383.9 1186.5 384.5 1184.6 385.7 1185.5 386.3 1187.7 386.9 1186.7 387.2 1187.4 387.8 1185.7 388.1 1186.3 389 1185.1 389.9 1187 391.1 1184.7 391.7 1186.5 392 1186.3 392.3 1186.8 393.2 1185.3 394.1 1186.6 394.4 1186.1 394.7 1186.6 395 1185.5 395.3 1187 396.2 1186.5 396.5 1187.2 396.8 1186.1 397.7 1186.2 398.3 1184.6 399.7 1190.2 400.6 1186.3 401.2 1185 401.5 1185.7 402.4 1183.5 404.2 1187.6 404.8 1186.5 405.4 1186.4 405.7 1186.9 406.6 1186.2 406.9 1186.6 407.2 1185 407.5 1185.9 408.4 1185.1 409.9 1187.9 410.8 1186.7 412.3 1186.9 413.2 1185.7 413.5 1186.1 414.1 1185.4 415.6 1161.7 417.4 1205.2 418.6 1188.3 419.5 1184 420.7 1186.9 421 1186.6 421.9 1187.3 422.2 1186.4 423.1 1187.3 423.4 1186.4 424 1187 424.9 1185 425.2 1186.3 426.4 1187.6 427 1185.3 427.3 1185.8 427.6 1185.4 428.5 1187.4 430.6 1185.7 430.9 1186.8 431.2 1186 431.8 1186.6 432.4 1184.6 432.7 1185.5 433 1184.7 434.2 1186.9 435.7 1186.4 436.6 1188.6 437.5 1187.7 438.3 1185.2 439.5 1188.9 441.6 1184.7 442.2 1187.2 442.8 1187.5 443.4 1186.6 444.9 1186.4 445.5 1185.3 446.1 1185.6 446.4 1184.5 448.2 1187.1 448.5 1188.7 450 1183.1 451.5 1186.7 452.4 1185.5 452.7 1186 453.3 1185.7 453.9 1188.2 454.2 1187.4 454.8 1188 455.1 1186.8 455.7 1186.7 456.9 1184.4 458.1 1186.1 459 1185.8 460.5 1187.6 461.4 1186 463.2 1186.5 463.5 1185.6 464.1 1187.1 464.7 1185.4 465 1186.2 465.6 1183.9 466.2 1184.8 466.5 1184.3 467.4 1188.1 468 1188.1 469.2 1185.2 469.8 1186.1 470.1 1185.4 470.7 1188.1 471.3 1186.4 471.9 1186.8 472.2 1186.3 473.4 1188.9 474.3 1187.4 474.6 1188.4 474.9 1187.8 475.5 1188.5 476.7 1185.9 477 1186.9 477.3 1186.7 478.4 1184.1 480.2 1188.2 481.4 1184.7 482.3 1186.8 482.9 1185.1 483.8 1186.3 484.1 1186.1 484.4 1187.3 485 1186.5 485.3 1186.7 485.6 1187.8 487.7 1184.9 489.5 1187.8 490.7 1184.6 491.6 1185.9 491.9 1185.4 492.2 1186.3 493.1 1184.2 494.3 1184 497.3 1188.9 498.8 1185.1 499.4 1186.6 500.3 1186.5 500.6 1184.2 501.2 1184.6 501.8 1183.9 502.1 1186 502.7 1185.8 504.2 1188.7 505.4 1186.4 506 1186.5 506.3 1185.5 506.6 1186 507.2 1185 508.7 1187.1 509.3 1186.2 510.8 1187.9 511.7 1186.1 512 1187.4 512.3 1186.4 512.9 1186.6 514.1 1185.8 514.7 1187.2 515 1186.5 515.6 1187.1 515.9 1186.3 517.3 1186.6 518.8 1183.2 519.7 1186.1 520.3 1186.3 520.6 1185.5 520.9 1187 522.4 1188.5 522.7 1187.1 523.3 1187.2 523.9 1186 524.2 1186.9 524.8 1185.4 525.4 1186.1 525.7 1185.2 526.6 1186.4 526.9 1184.7 527.2 1185.1 528.1 1184.5 528.4 1186.5 529 1186.8 529.3 1186.5 529.6 1187.3 531.1 1184.1 532 1184.9 532.6 1186.7 533.2 1185.9 533.5 1186.3 534.1 1184.5 534.4 1185.4 535 1185.2 535.6 1185.9 536.5 1185 538 1187.1 538.6 1185.6 539.8 1186.2 540.1 1187.1 540.4 1186.4 540.7 1187.1 541.3 1185.1 541.9 1186.1 542.2 1185.6 544.3 1187 545.8 1183 547 1188.3 547.6 1188.3 548.2 1190.3 549.7 1185.5 550.6 1186.1 551.2 1188.5 553.3 1185.8 553.6 1186.9 553.9 1186.1 554.5 1187.4 555.4 1187.4 555.7 1186.4 557.1 1186.5 557.7 1187.5 558.3 1185.9 558.9 1186.1 559.2 1185.4 560.1 1188 561.6 1182.6 563.1 1186.6 564 1184.5 564.3 1184.8 564.9 1183.7 566.4 1186.5 567 1185 567.3 1186.9 567.6 1185.1 568.5 1185.2 568.8 1184.5 570 1186.5 570.6 1185.8 570.9 1186.4 571.5 1185.3 572.7 1187.1 573 1186.6 573.6 1187.4 573.9 1186.7 574.5 1188 575.1 1186.8 575.4 1188 577.2 1185.5 578.4 1187 578.7 1186.6 580.2 1187.7 580.8 1187.5 581.4 1185.7 582.9 1186.2 583.5 1185.7 584.1 1187.8 584.7 1188.1 585.9 1184.5 586.2 1185 586.5 1184.4 587.4 1187.4 587.7 1186.4 588 1187.3 588.3 1186.2 588.6 1186.7 588.9 1185.1 589.8 1186.6 590.1 1185.7 590.7 1187.2 591 1185.5 591.3 1187.6 592.2 1187.6 592.5 1189.2 592.8 1186.9 593.7 1187.3 594 1186 594.6 1186.6 595.2 1185.3 595.7 1186.3 596 1185.8 596.9 1186.4 597.2 1186 598.1 1189.6 598.4 1188.2 598.7 1190.4 600.2 1185.3 600.5 1186.3 601.1 1185.8 602.3 1186.4 603.2 1188.4 603.5 1187.2 603.8 1187.9 604.7 1186 605.9 1188.9 607.4 1185.8 608.9 1188.4 609.8 1185.4 610.4 1184.9 610.7 1185.4 611.3 1184.9 612.2 1186.6 612.5 1186.2 612.8 1186.8 614.3 1186.5 614.6 1185.3 614.9 1186.6 615.2 1185.8 615.5 1186.8 616.1 1186.5 616.4 1183.9 617.6 1186.3 617.9 1188.4 619.4 1185.7 620.6 1188 621.2 1187.2 621.5 1188 622.1 1186.9 622.7 1187.6 623.6 1184.5 623.9 1184.9 624.5 1184 625.1 1186.1 625.7 1184 626 1184.6 626.3 1183.8 627.2 1186.3 628.7 1169.5 630.2 1202.8 631.4 1185.9 632.6 1183.8 634.1 1188.3 634.7 1187.1 635.2 1188.2 635.5 1186.4 635.8 1186.8 636.1 1186 637.3 1188.1 637.9 1185.3 638.2 1184.9 638.5 1185.2 638.8 1184.1 639.4 1186.3 640 1185.3 640.3 1186.7 640.6 1185.3 641.5 1187.3 641.8 1186.2 642.1 1187.5 642.4 1186.1 643.3 1187.7 643.9 1187.7 645.1 1185.4 646.3 1186.2 646.6 1187.1 647.2 1186.6 647.5 1187.2 648.4 1187.3 649.6 1184.5 650.2 1187 650.8 1186 651.1 1186.4 651.7 1184.5 652 1186.3 652.3 1185.7 652.9 1187 653.5 1185.2 653.8 1186.5 654.4 1185.2 655 1185.6 655.3 1184.9 655.9 1187.2 656.2 1186.7 656.8 1187.1 657.4 1185.7 658.3 1188.1 658.9 1188.2 659.8 1185.6 661.9 1187.2 663.4 1183.1 663.7 1185.2 664 1184.6 664.9 1186.3 665.2 1184.6 665.8 1186.2 666.1 1185.9 666.7 1187.1 667.6 1186.9 667.9 1187.4 668.8 1184.9 670.3 1188 670.6 1186.6 672.1 1188.8 672.7 1186.4 673.9 1187.9 674.2 1187.2 674.4 1187.4 675.3 1184.4 675.6 1185.8 675.9 1184.4 677.7 1188.5 679.2 1183.9 679.8 1187.6 680.7 1188.7 681.3 1186.9 682.2 1186.6 682.8 1187.9 684.3 1185.6 684.9 1187.5 687.3 1186.1 687.6 1187.7 687.9 1186.3 688.2 1187.5 688.8 1187.7 689.1 1186.1 690.3 1184.5 690.9 1185.6 691.5 1184.6 691.8 1185.9 692.1 1184.5 693 1186.6 693.3 1186 693.6 1186.5 694.8 1183.9 696.3 1186.3 696.9 1184.6 697.2 1185.6 697.5 1185.3 698.4 1186.3 698.7 1185.4 700.2 1186.4 700.8 1185.8 701.4 1187.2 702.3 1187.1 702.6 1186.5 703.2 1187.4 703.8 1187.3 705 1184.9 705.9 1188.6 707.4 1183.7 708.6 1186.2 708.9 1185.2 710.1 1184.3 710.4 1184.7 711 1183.1 711.9 1186 712.5 1186.6 713.1 1185.6 713.7 1187.2 714.5 1187.6 716 1185.7 717.8 1187.8 718.1 1186 718.4 1186.5 719.3 1184.8 719.6 1186.5 719.9 1185.8 720.5 1187.2 721.1 1186.6 722 1186.8 722.6 1185.1 723.2 1185.5 723.5 1184.1 724.1 1186.4 724.7 1186.1 725 1186.7 725.9 1185.4 726.2 1186.7 727.7 1184.7 728 1186.3 728.6 1185.6 728.9 1187.2 729.8 1186.5 730.1 1187.5 730.4 1186 731 1185 731.6 1185 732.8 1187.8 733.4 1187.4 733.7 1187.9 734.6 1186.4 734.9 1187.4 735.8 1185.6 736.4 1187.9 736.7 1186.9 737.3 1187 737.9 1184.6 739.1 1187.3 739.4 1186.6 740 1187 740.3 1186.1 740.9 1186.7 741.2 1185.7 741.5 1186.1 742.1 1185.8 742.7 1186.7 743 1186 743.3 1186.6 743.6 1185.1 744.2 1186.1 744.5 1184.9 745.1 1187.3 746.9 1185.3 747.8 1187.6 748.1 1186.8 748.4 1188.1 749 1187 749.6 1188.2 750.2 1187.5 750.5 1187.9 750.8 1186.6 751.4 1186.6 751.7 1187.9 752.3 1186.6 752.6 1187.1 753.2 1184.8 753.7 1186.6 754 1185.6 754.6 1186.3 754.9 1185.9 755.5 1187.3 755.8 1186.6 756.7 1186.6 757 1185.6 757.6 1186.1 758.5 1181.6 759.4 1169.1 761.5 1194.7 763.3 1186 765.1 1188.9 766.6 1186.7 767.2 1186.9 767.5 1185.5 767.8 1185.8 768.7 1184.4 770.5 1188.3 771.7 1185.3 772.6 1187.1 773.5 1186.2 774.4 1189.3 776.2 1185.5 777.1 1187 777.7 1185.8 779.2 1187.1 780.4 1185.5 781.9 1188.3 783.4 1184.7 783.7 1185.2 784.3 1184.5 784.6 1186.2 785.8 1188.2 786.7 1187.4 787 1185.9 788.5 1187.8 791.2 1186.2 791.8 1188.7 792.6 1189.9 795.6 1184.9 796.2 1184.8 797.4 1186.5 797.7 1186 798.3 1187.3 799.2 1186.9 800.7 1180.8 802.5 1188.1 803.4 1187.1 803.7 1187.8 804.3 1184.3 804.6 1185.2 805.2 1184.1 805.8 1184.8 806.4 1184.5 807.9 1187.9 808.5 1186.9 809.1 1187 809.4 1185.1 810.3 1187 810.9 1186.8 812.1 1183.6 812.7 1184.2 813 1184 813.9 1186.3 815.4 1183.4 816.3 1187 817.8 1187.3 818.7 1188.8 820.2 1185.3 821.7 1187.9 822.6 1184.8 823.8 1185.9 824.4 1189 825.6 1188.1 825.9 1186.2 826.8 1185.4 828.3 1187.9 829.8 1183.7 830.4 1185.1 831 1183.7 831.6 1184.8 832.1 1184 832.4 1185.1 833 1184.6 833.6 1185.5 834.5 1184.4 836 1189.5 837.5 1186.2 838.1 1187.2 838.7 1185.1 839.6 1184.4 840.8 1189.7 842.3 1185 842.9 1185.2 843.2 1186.3 843.8 1185.8 844.1 1187.3 844.7 1186.4 845.3 1187.6 845.6 1186.4 846.2 1186.5 847.4 1185 847.7 1185.9 849.5 1185.1 850.4 1187.2 850.7 1185.5 851.6 1185.8 852.5 1188.5 853.4 1186.4 854.9 1186.3 855.2 1185.6 855.8 1187.6 857.3 1186.1 858.2 1188.5 859.4 1186.6 860.6 1187.8 861.8 1185 863.6 1187.4 864.5 1187.5 865.1 1184.9 865.4 1186 866.3 1185.7 866.6 1187.1 867.5 1184.8 867.8 1185.9 868.4 1184.4 869 1187.8 869.3 1187 869.6 1188.3 871.1 1184.1 872.2 1186.5 873.1 1184.6 874 1187.6 874.6 1188 875.5 1187.5 875.8 1187.9 876.4 1186.7 876.7 1187.2 878.5 1185.5 879.4 1187.4 879.7 1186.5 880 1187.3 880.9 1185.5 882.4 1187.9 883 1187.7 884.2 1185.3 885.7 1187.8 886.3 1187.5 886.9 1188.9 887.2 1188 887.8 1188.4 889.6 1183.6 891.1 1186.4 892.9 1185.5 894.7 1189.3 895.9 1184.5 896.8 1183.7 897.4 1185.7 898 1185.9 898.3 1188.1 898.6 1187.7 898.9 1188.3 900.1 1185.4 900.4 1185.2 901.3 1186.7 902.2 1185.7 903.4 1186.8 904.3 1184.2 904.9 1184.5 905.8 1187.7 906.7 1186.3 907 1186.9 907.3 1186.1 907.6 1186.6 908.5 1184.6 910 1187.8 910.8 1185.5 911.4 1185.5 912.6 1183.5 912.9 1184 913.5 1183.7 915 1189.2 915.9 1188.1 916.8 1188.4 917.7 1191 918 1190.3 918.3 1190.7 919.2 1185 919.8 1184.3 920.7 1186.8 921.6 1186.1 921.9 1186.8 922.2 1186.4 922.5 1186.9 923.4 1186.7 923.7 1185.4 924.6 1184.8 925.8 1188.4 926.4 1188.5 927.3 1186.7 927.6 1187.2 928.2 1187.1 928.5 1188.2 929.7 1187 930.6 1184.7 931.2 1184.9 931.5 1185.9 931.8 1185.6 932.4 1187.7 933 1187.3 933.3 1187.8 934.5 1185 935.1 1187.3 935.4 1187 936 1188 936.6 1187.4 937.2 1188.2 938.1 1185.9 938.7 1187 939.3 1185.8 939.6 1186.8 940.2 1185.1 940.8 1185.6 941.1 1184.4 941.7 1185 942 1186.8 942.9 1187.3 943.8 1184.5 944.1 1185.5 945 1185.1 945.3 1186.2 945.9 1185.3 946.5 1186.2 946.8 1185.9 948 1188.7 948.6 1186.7 949.5 1185.7 950 1185.9 950.3 1186.9 950.9 1186.1 951.5 1187.8 952.7 1186.4 953 1187 953.3 1186.2 953.9 1187.5 955.4 1184.9 957.2 1186.8 957.8 1185.7 958.1 1187 959.3 1186.2 959.6 1185 961.4 1189.7 962 1188.2 962.6 1188.9 964.1 1184.6 965.6 1189 966.2 1187.8 966.5 1188.2 967.1 1186.5 967.4 1188.1 968.6 1186.9 969.2 1184.6 970.7 1188.6 972.2 1185 973.4 1186.4 974.3 1186 974.6 1186.7 974.9 1185.7 975.2 1186.6 975.5 1185.8 977.3 1187.6 978.2 1185.8 978.5 1186.3 978.8 1185.2 979.4 1186.2 980 1184.8 980.3 1186 980.9 1185.7 981.5 1188 981.8 1187.5 982.4 1188.4 983.9 1185.6 985.4 1185.3 986.9 1188.8 988.1 1186.7 989 1188 990.1 1184.7 990.4 1185.8 990.7 1185 991.3 1186.4 991.9 1185.8 992.2 1186.9 992.5 1186.2 993.1 1187.4 993.7 1186.6 994.3 1187.1 994.9 1188.9 996.4 1185.8 997.3 1190.2 999.7 1184.6 1001.2 1187.2 1001.8 1187 1002.1 1185.3 1003.6 1187.5 1006.3 1186.8 1007.2 1188.1 1008.7 1183.4 1010.2 1187.4 1011.4 1186.1 1012.3 1186.5 1012.6 1185.7 1013.5 1186.2 1014.1 1188.4 1015.6 1184.5 1016.5 1185.4 1016.8 1185 1018.3 1189.7 1019.2 1189.1 1019.8 1187.5 1020.7 1188.4 1022.2 1183.8 1022.8 1186 1023.1 1185.5 1023.4 1186.5 1024 1184.9 1026.1 1187.9 1026.7 1187.1 1027 1187.8 1027.9 1183.5 1028.2 1184 1028.5 1183.1 1029.9 1187.7 1031.1 1187.1 1032 1185.1 1033.8 1188.8 1034.4 1186.9 1035 1187.9 1035.3 1186.4 1035.9 1187.6 1036.5 1186.8 1037.4 1188 1038 1187.4 1038.3 1187.9 1039.2 1184.8 1039.5 1185.6 1039.8 1184.5 1041.9 1188.1 1043.4 1184.1 1044 1184.4 1044.3 1185.8 1044.6 1184.9 1045.2 1187.2 1045.5 1187.4 1045.8 1186.5 1046.1 1187.5 1046.7 1186.7 1047.3 1187.4 1049.1 1183.4 1050 1184.6 1050.6 1184.3 1050.9 1185.3 1052.1 1186 1053.9 1185.9 1054.2 1186.7 1055.1 1186.9 1055.4 1185.6 1056 1185.1 1056.3 1186 1056.6 1185.1 1057.5 1187.5 1058.4 1185.4 1059.3 1184.7 1060.2 1185.6 1062.9 1180.9 1064.1 1182.8 1065 1183.1 1066.5 1188.2 1067.7 1185.7 1068.2 1185.5 1068.5 1186.3 1069.4 1185 1069.7 1185.5 1070.3 1184.4 1071.8 1186.3 1072.4 1184.8 1073.9 1186.3 1074.8 1184.5 1075.7 1186.4 1076.9 1184.6 1078.4 1186 1079.9 1184.5 1081.1 1186.5 1081.7 1186.1 1082.3 1186.9 1082.9 1186.5 1084.7 1188.6 1086.5 1184.5 1088.6 1188.5 1090.4 1186.3 1091 1186.2 1091.6 1186.2 1092.8 1187.9 1093.7 1186.6 1094 1184.8 1094.6 1185.2 1094.9 1184.3 1095.5 1184.4 1096.1 1182.7 1096.7 1182.7 1097.6 1182.9 1099.1 1187.3 1100.6 1185.2 1101.8 1187.2 1102.4 1186.6 1103 1187.7 1104.5 1185.3 1105.1 1186.7 1106.3 1185.6 1107.5 1186.2 1107.7 1187 1108.3 1186.7 1109.5 1183.8 1111 1189.2 1111.3 1188.4 1112.2 1188.2 1112.5 1187.1 1113.1 1187.4 1113.7 1186.8 1114 1187.6 1115.2 1184.4 1116.7 1188.5 1117 1186.2 1117.3 1186.5 1118.2 1186 1118.8 1187.8 1119.1 1186.8 1119.4 1187.3 1120 1186.6 1120.3 1185.3 1120.6 1186.4 1120.9 1186 1122.4 1188.2 1124.2 1183.8 1124.8 1184.4 1125.1 1186.3 1126 1186.3 1126.3 1187.2 1127.2 1186.5 1128.1 1183.9 1129 1187.2 1129.3 1186.9 1129.6 1187.8 1130.5 1186.6 1131.1 1188 1131.7 1186.1 1132 1186.7 1132.6 1184 1132.9 1185.4 1133.5 1184.5 1133.8 1185.1 1134.4 1184.4 1135.9 1185.1 1137.4 1187.6 1137.7 1186.7 1138.6 1186.5 1138.9 1184 1139.2 1184.4 1140.1 1183.2 1141.3 1186.2 1141.6 1184.6 1142.2 1183.9 1142.5 1184.7 1142.8 1183.2 1143.7 1187.7 1144.3 1186.5 1144.6 1187.1 1145.2 1185.2 1145.8 1185.9 1146.9 1183.6 1149.6 1187.2 1150.5 1186.3 1151.4 1183.9 1152.9 1187.1 1153.2 1185.7 1153.8 1186.6 1155 1184.1 1156.2 1185.7 1156.5 1185.3 1157.4 1185.7 1157.7 1186.6 1158.3 1186.3 1158.6 1184.9 1158.9 1185.6 1159.2 1184.8 1159.8 1185.2 1160.1 1186.8 1160.4 1185.5 1160.7 1186 1161 1185.2 1161.9 1186.7 1162.2 1186.3 1162.5 1187.7 1163.7 1187.2 1164 1187.7 1164.3 1186.5 1164.9 1186.5 1165.8 1185.1 1167.3 1188.8 1168.5 1186.2 1168.8 1186.4 1169.1 1184.9 1169.7 1186.8 1170.9 1187.7 1171.2 1186.4 1171.5 1186.9 1172.1 1185.9 1172.4 1184.3 1172.7 1185.2 1173 1184.3 1173.9 1187 1174.5 1187.3 1175.1 1186.9 1175.7 1184.9 1177.2 1186.1 1178.1 1185.5 1178.4 1186.3 1179.6 1185.4 1180.2 1183.7 1180.5 1184.8 1181.1 1183.3 1181.7 1186 1182.3 1185.8 1182.6 1186.8 1183.5 1186.4 1183.8 1188.2 1185.3 1185.4 1186.4 1189.7 1187.9 1184.4 1188.2 1185.5 1188.5 1185.3 1190 1187.5 1191.5 1186.9 1192.1 1187.4 1193.3 1185.7 1195.4 1189 1196 1187.5 1196.3 1188.2 1196.9 1186.3 1197.5 1186.5 1198.1 1184.7 1199 1184.7 1199.3 1184.1 1199.6 1185.7 1200.5 1185.2 1200.8 1187 1201.1 1186.7 1201.7 1187.5 1202.6 1186.1 1204.1 1187.6 1205 1186.1 1206.5 1188.1 1206.8 1187.6 1207.1 1188.5 1208.6 1185.9 1209.8 1188.4 1210.4 1184.8 1211.9 1187.5 1212.8 1185.4 1213.4 1187.6 1214.3 1188 1214.9 1186.2 1215.5 1187.1 1216.1 1185.6 1216.4 1186.3 1217 1185.8 1217.3 1186.9 1217.9 1186.9 1218.2 1187.5 1218.8 1186.7 1219.1 1187.9 1219.7 1186.7 1220 1187.2 1220.3 1186.8 1220.9 1184.7 1221.8 1186 1222.7 1189 1223 1187.8 1223.3 1188.6 1224.2 1185.3 1224.5 1185.7 1224.8 1185.1 1225.1 1186.1 1225.7 1185.8 1226.2 1187.5 1227.7 1186.7 1228.6 1188.5 1228.9 1187.7 1229.5 1188.5 1232.5 1181.5 1233.1 1183 1233.7 1182.6 1234 1184.1 1234.6 1183 1235.2 1184 1236.1 1183.2 1237 1184 1237.6 1186.2 1238.5 1186.2 1238.8 1184.8 1239.1 1185.7 1239.7 1185.5 1240 1186.8 1240.9 1185.9 1241.8 1186.4 1242.4 1185.4 1242.7 1186 1243.3 1185.4 1243.9 1186.8 1244.5 1186 1244.8 1187.2 1245.7 1186.1 1246.9 1186.5 1247.2 1185.6 1247.5 1186.2 1247.8 1185 1249.3 1186.9 1249.6 1186.1 1250.2 1186.3 1251.4 1189.7 1252.9 1187 1253.2 1187.4 1253.5 1186.7 1253.8 1188.1 1254.4 1187.6 1255 1188.7 1255.6 1186.9 1256.8 1188 1258 1186.5 1258.6 1186.8 1259.5 1185.2 1260.4 1185.4 1261 1187.5 1261.3 1186.6 1261.9 1186.6 1262.5 1184.1 1263.7 1186.1 1264 1185.4 1264.3 1186.3 1264.9 1185.4 1265.4 1187 1265.7 1186.4 1266.3 1186.8 1266.9 1185.9 1268.7 1191.1 1269 1189.9 1269.3 1190.7 1269.9 1187.9 1270.5 1187.7" fill="none" stroke="#00f" stroke-width="9" stroke-linejoin="round" stroke-linecap="round"/>
</g><g clip-path="url(#ca)">
<path d="M103.5 1719.8L103.8 1720.3 104.4 1719.2 105.3 1721.3 105.9 1719.8 106.5 1720.5 107.1 1723.3 107.4 1722.3 109.2 1721 110.1 1722.5 111 1722.4 111.6 1721.4 112.8 1722.7 114 1721.9 114.9 1723.1 116.1 1721.5 118.2 1724.2 118.8 1722.2 119.1 1722.7 119.4 1722.3 120.6 1722.6 122.1 1724.4 123.2 1723.2 125 1725.2 125.9 1724.9 126.2 1724 127.4 1725.9 128.6 1725.8 128.9 1724.9 129.8 1724.4 130.1 1725.5 131.3 1724.9 133.1 1725.7 134 1723.9 134.9 1727.4 136.1 1726.3 136.7 1726.9 137.9 1725.8 138.8 1726.2 140 1728.6 141.2 1725 141.8 1726.1 142.4 1726.3 143 1725.5 144.2 1728.4 144.5 1727.7 145.7 1728.2 146.6 1726.5 148.7 1729 149.3 1728 149.6 1728.6 149.9 1728.3 150.5 1728.7 150.8 1728.1 152 1729.2 153.2 1728.5 154.4 1730 155.6 1728.4 156.5 1730 158.9 1728.4 159.5 1730 160.7 1729.4 161 1730.3 161.6 1730.2 162.7 1728.3 163.3 1730.3 163.9 1730.6 165.1 1728.9 165.7 1729.3 166.9 1728.8 167.2 1729.8 167.5 1729.4 168.7 1730.8 170.2 1729.3 171.1 1729.9 171.7 1732.2 172 1732 172.6 1732.8 174.1 1729.7 175.3 1731.7 176.8 1730.8 178.3 1732.7 179.5 1731.1 179.8 1731.9 181 1732.1 181.3 1733.1 182.5 1731.8 182.8 1732.4 185.2 1732.1 185.5 1732.6 186.7 1731.2 187 1732.1 187.3 1731.5 187.9 1732.5 188.5 1732.1 188.8 1732.9 189.1 1732 189.7 1733.2 190 1732.5 190.3 1733.1 190.6 1732.6 191.8 1734.1 192.7 1734.3 193.3 1733.5 195.4 1734.4 195.7 1733.6 196.3 1734.1 196.6 1733.4 196.9 1734.4 198.7 1732.8 199.6 1734.9 200.5 1735.6 201.7 1734.4 202.5 1735.2 204.6 1734.3 205.5 1736 206.7 1733.6 209.1 1737.6 210.3 1735.1 212.1 1736.7 213 1734 215.4 1736.6 216.9 1736.3 217.5 1735.1 219.6 1736.5 219.9 1735.5 221.4 1734.3 222.6 1736.6 223.2 1736.3 223.8 1737.3 224.1 1736.2 224.4 1736.8 225 1736.2 226.8 1738.9 227.7 1737.1 228.9 1737.7 231 1734.3 232.2 1736.6 234 1735.1 235.2 1738.4 235.5 1737.6 237 1736.9 237.9 1737.9 238.8 1737.3 240 1737.8 241.2 1736.4 242.6 1737.6 243.2 1736.3 243.5 1736.9 243.8 1736.3 244.4 1738.2 245.6 1737.2 249.5 1738.7 249.8 1737.4 250.7 1737.1 253.4 1738.8 254.6 1736.6 255.8 1737.7 256.1 1736.9 256.4 1738.3 257.3 1738.8 257.6 1737.4 258.2 1737.8 258.5 1737.3 258.8 1738.2 259.4 1738 259.7 1738.6 260.6 1737.7 261.5 1739.7 262.4 1738 263.6 1739.2 264.2 1737.4 265.1 1737.5 265.4 1738.1 266 1737.2 267.2 1739.2 268.1 1737.9 268.7 1739.3 269.6 1737.9 270.5 1738.8 271.1 1737.2 272.3 1739.6 272.6 1739 272.9 1739.7 273.5 1737.6 274.1 1737.5 274.7 1739.2 275.6 1737.2 276.8 1739.7 278.6 1738.3 279.2 1738.4 279.5 1739.1 280.4 1739 280.7 1737.3 280.9 1738 281.5 1737.5 281.8 1738.1 282.1 1737.1 283 1739.1 283.9 1738 284.8 1739.9 286 1738 286.6 1738.8 287.2 1738.1 287.5 1738.5 288.1 1738.2 288.4 1738.8 288.7 1738.2 289.3 1738.8 290.5 1738.2 291.7 1739.7 292 1738.1 293.2 1739.4 296.2 1737.7 296.8 1738.6 297.7 1737.3 298.6 1738.3 299.5 1737.5 300.7 1738.9 301.3 1738.3 302.2 1740.4 303.1 1737.5 304.3 1739.4 305.5 1739.6 307 1737.1 308.8 1740.2 310.3 1738.5 312.1 1738.8 313.3 1739.9 313.6 1738.4 314.2 1739.1 314.5 1738.6 315.1 1739.6 316.3 1738.4 317.5 1740.4 318.7 1738 319.3 1739.5 320.1 1739.5 321.9 1738.1 322.2 1738.6 322.8 1738 323.1 1738.7 324.3 1737.1 325.8 1739.6 327.3 1738.2 327.9 1739.2 329.7 1738 330 1738.6 330.9 1738.4 331.5 1736.8 332.1 1736.8 332.4 1736.1 333.6 1738.7 335.1 1735.5 335.4 1736.2 336.3 1735.8 337.5 1730.7 338.4 1730.8 339.3 1728.1 339.9 1728.7 341.1 1727.4 341.4 1728.1 341.7 1727.9 343.5 1723.4 345.3 1701.5 346.5 1630.8 348 1402.8 348.6 1373.2 350.4 1633.5 351.9 1707.8 353.4 1725.7 356.7 1734.5 357.3 1734.1 357.9 1734.5 359.4 1737.3 360.5 1736 360.8 1736.9 362 1736.6 363.2 1737.6 363.8 1736.8 365 1738.4 365.3 1737.3 366.5 1740.3 368 1739.9 369.2 1737.6 370.4 1740.6 372.2 1737.3 373.7 1739.3 375.2 1738 375.5 1738.8 376.1 1738.4 376.4 1739.6 377 1739.2 377.3 1739.9 377.6 1738.8 377.9 1739.5 378.5 1738.5 379.4 1741.3 380.6 1738.1 381.2 1739 381.5 1738.7 382.4 1739.2 383.3 1737.8 383.9 1739.1 384.8 1737.8 386 1739.8 386.9 1738.7 389 1740 390.5 1738.6 391.4 1739.7 392.9 1740.2 393.2 1739.1 393.5 1739.5 394.4 1739 395.3 1736 398.3 1740.3 399.4 1738.2 400.3 1739.4 401.5 1738.8 401.8 1739.6 402.4 1738.3 403.6 1738 404.2 1735.9 405.4 1737.1 406.3 1736.1 407.5 1736.3 409 1734.1 409.3 1734.9 410.8 1728.5 412 1715 415 1628.7 418.3 1719.4 420.4 1734 421.3 1735.3 421.6 1734.5 422.5 1735.6 424 1738.5 424.3 1737.9 424.9 1738.4 425.2 1737.6 425.5 1738.1 426.1 1737.1 426.4 1737.9 427 1737.1 428.2 1739 429.7 1737.1 430.9 1738.7 431.2 1738.1 432.4 1738.3 434.8 1740.3 436.3 1739.4 436.6 1738.4 438.1 1740.7 438.3 1740.2 438.6 1740.5 439.8 1738.3 441.9 1740.9 443.7 1738 444.6 1740.6 445.2 1739.3 446.4 1739.3 447.9 1741.2 450 1738.4 450.6 1738.4 451.5 1740.6 452.4 1739.1 453 1739 453.6 1739.7 454.8 1738.7 456 1740.3 457.2 1737.7 458.1 1738.7 459 1738.7 459.9 1737.1 460.2 1737.5 460.8 1736.4 461.1 1736.8 461.4 1735.6 462.6 1738 463.2 1737.5 464.1 1738.6 465 1740.9 465.6 1741 466.2 1740 467.7 1740.8 468.3 1739.7 469.2 1739.8 470.1 1738.9 471 1742.1 472.2 1738.8 473.4 1739.8 473.7 1739.2 474.6 1739.8 475.5 1737.6 476.7 1740.6 477 1739.4 477.8 1738.9 478.1 1739.5 478.4 1738.6 479 1739.4 480.2 1739.2 481.1 1741.1 482.6 1739.7 482.9 1740.5 483.5 1739.9 483.8 1740.5 484.4 1739.8 484.7 1740.2 485.3 1738.8 486.5 1740.4 487.1 1739.8 488 1741 489.2 1740.2 489.8 1740.9 491 1739.4 494.6 1741.1 496.1 1738.5 497.3 1740.6 498.8 1740.6 499.1 1739.3 499.7 1739.1 501.2 1740.5 502.1 1739.7 502.4 1738.4 503.6 1742.1 504.2 1741.9 504.8 1739.7 506 1740.9 506.3 1740.4 507.5 1740.9 507.8 1740.3 508.4 1740.4 508.7 1738.9 509 1739.7 509.3 1739.2 509.9 1741.2 510.5 1740.3 511.7 1741.8 513.5 1739.3 514.7 1741.3 515 1740.6 515.6 1741.1 515.9 1740 516.5 1740.6 516.8 1740 517.3 1740.8 520 1741.1 521.2 1739.4 522.1 1740.5 523.3 1739 524.5 1741.2 525.7 1739.6 527.2 1741.6 528.1 1741.5 530.2 1739.8 530.8 1740.7 531.4 1740.9 532 1740.4 532.9 1741.5 534.1 1739.6 535 1741 536.2 1739.2 537.7 1741.7 538.9 1739 540.4 1741.3 541.6 1740.4 542.2 1741.6 543.4 1739.2 544 1740.1 544.3 1739.6 544.9 1741.1 545.2 1740.6 545.8 1741.3 546.1 1740.4 546.4 1741 547.3 1740.5 547.6 1739.4 548.5 1740.8 549.7 1739.5 550.6 1741.2 551.5 1740.6 552.7 1741.4 553.3 1741.3 553.6 1740.3 553.9 1740.7 554.5 1739.3 555.7 1741.1 556.5 1738.4 557.4 1740.6 558 1740.6 558.9 1739.2 561 1741.5 562.2 1740.1 563.4 1741.7 564.3 1741.6 566.1 1739.6 568.2 1742.1 569.1 1741.2 570.3 1742.1 571.2 1741.3 572.1 1742.4 572.7 1742.1 573.3 1740.6 573.6 1741.2 574.5 1740.3 575.1 1739 576.3 1741.4 576.9 1740.5 577.8 1742 579 1740.5 580.2 1741.4 580.5 1740.9 580.8 1741.5 581.1 1741 581.7 1741.5 582 1741.2 583.2 1741.8 583.5 1742.7 584.7 1740.1 585.3 1740.2 585.6 1741.2 586.2 1740 586.5 1740.4 587.1 1739.7 588.3 1741.7 590.1 1739.9 591 1741.1 592.2 1741 592.5 1741.8 592.8 1740.7 593.1 1741 593.7 1740 594.9 1742.1 596 1741.6 596.6 1740.3 596.9 1741.3 597.5 1741.2 597.8 1741.9 598.4 1740.1 598.7 1740.6 599 1739.9 599.3 1740.8 599.6 1740.2 600.8 1741.8 602 1739.6 603.2 1742.2 604.4 1740.6 604.7 1741.4 605.3 1740.9 605.6 1741.5 606.8 1741.3 607.4 1740.5 608.3 1740.9 608.9 1739.4 609.5 1739.2 610.7 1742 611.9 1739.1 612.8 1741.4 613.4 1739.6 614.6 1742.5 616.4 1738.4 617.3 1740.1 618.5 1738.5 619.4 1739.9 620.3 1739.2 620.9 1737.2 622.7 1736.2 624.5 1732 625.1 1728.5 626.3 1710.5 629 1626.9 631.4 1704.3 632.9 1727.6 634.7 1735.9 635 1735.1 636.1 1737.7 638.8 1739.4 639.7 1738.8 640.6 1740.1 641.5 1740.2 642.7 1742 644.2 1740 645.4 1741.7 646.9 1739.3 648.1 1742.3 648.4 1741.4 648.7 1742 649 1741.3 649.6 1742.3 650.2 1742.1 650.8 1739.8 651.7 1741.7 652.6 1741.8 652.9 1741 653.5 1741 653.8 1741.6 655 1740.1 655.6 1741.1 656.5 1739 657.7 1741.1 658.3 1740.2 658.6 1741.1 658.9 1740.2 659.5 1741.7 659.8 1741 660.1 1741.7 661.3 1740 661.6 1740.8 662.5 1740.7 663.7 1739.9 664.6 1741 665.5 1740.3 666.7 1742.6 668.5 1741.2 669.4 1743.1 671.2 1740.2 672.4 1740.9 673.3 1740 673.9 1742.1 674.4 1742.3 674.7 1741.2 675.3 1741 676.5 1742.6 677.1 1741.5 677.4 1742.2 678.6 1739.9 679.2 1741.7 679.8 1741.5 680.4 1740.2 681.3 1741.4 682.2 1740.9 683.1 1742.2 683.7 1740.5 684.3 1740.5 685.2 1742.1 686.1 1741.1 687.9 1742.7 688.5 1744.1 689.4 1741.2 690.9 1743.3 693 1740.4 693.9 1741.5 695.1 1740.9 695.7 1741.9 696.6 1741.7 697.2 1742.5 698.4 1740.7 698.7 1741.8 699.3 1741.9 700.2 1740.6 700.8 1741.8 701.7 1741.9 702.9 1739.9 705 1743.3 706.8 1741.4 707.1 1742.3 707.4 1741.9 708 1744.6 708.3 1743.8 708.6 1744.7 709.5 1741.7 709.8 1741.4 710.4 1743.4 711.6 1740.3 711.9 1741.6 712.8 1741.5 713.1 1740.6 713.9 1742.3 714.8 1742.4 716 1740.2 717.2 1743.3 717.8 1742.1 718.1 1742.6 719.3 1739.9 720.2 1742.2 721.4 1741.4 721.7 1742.4 723.2 1740.9 723.5 1742.3 724.1 1741.8 724.4 1742.7 724.7 1742 725 1743.1 725.9 1742 726.2 1742.2 726.5 1741.3 727.1 1741.4 727.4 1740.4 727.7 1741.5 728.3 1740.7 729.5 1742.2 730.1 1740.9 731 1742.2 732.8 1741.6 733.7 1740.5 734.9 1740.8 735.5 1740 736.7 1741.8 737.9 1740.4 739.1 1743 739.4 1742.2 739.7 1742.8 740 1742.5 740.6 1743.7 741.8 1739.7 742.7 1741 743.6 1741.4 743.9 1740.9 744.5 1741.9 745.1 1741.8 747.5 1739 748.7 1739.8 749.6 1739.1 750.5 1740.4 754 1733.3 755.8 1721.6 759.1 1642.3 759.7 1647 761.8 1700.2 763.3 1721.2 764.5 1729.6 766.3 1736.6 768.4 1739 769 1738.9 770.2 1741.8 771.1 1740.3 772.3 1741.2 772.9 1740 773.8 1740.9 775 1739.9 775.3 1740.5 775.9 1740.1 777.1 1742.3 778.3 1739.2 780.4 1741.2 781.9 1741.1 782.8 1740.3 784 1741.3 785.5 1740 786.4 1741.1 787.6 1739.2 789.4 1741.3 790.3 1739.8 791.2 1740.7 791.8 1739.9 792.9 1739.7 793.5 1738.6 793.8 1739.3 794.1 1738.7 794.4 1739.5 795.3 1738.6 796.8 1733.4 799.8 1712.3 800.7 1709.3 804 1735.2 805.5 1739.7 806.1 1738.4 807.3 1740.8 809.4 1739.4 810.6 1741.4 811.8 1740.2 812.4 1741.7 813 1741.6 813.3 1742.4 813.9 1742 814.2 1742.5 814.8 1740.8 816.3 1741.7 816.6 1741.2 817.2 1742.9 817.5 1742.1 818.1 1742.8 818.4 1741.5 818.7 1742.6 819.3 1741.1 820.2 1742.1 821.1 1741.8 821.7 1742.5 822 1741.7 822.6 1742.1 823.5 1740.9 824.4 1742.6 825.9 1741.9 826.2 1742.5 827.1 1741.7 827.4 1740.4 828 1742.1 829.2 1740.6 829.8 1741.7 830.1 1741.1 830.4 1742.2 830.7 1741.8 831.3 1743 832.1 1740.6 833 1742 833.9 1739.9 835.7 1742.2 836 1741.3 837.2 1742.4 838.4 1741.7 838.7 1740.2 839.3 1739.8 840.5 1743.6 840.8 1742.3 841.4 1742.3 842.3 1740.6 843.2 1743.7 844.1 1744 844.4 1742.6 845.3 1741.9 846.2 1742.2 847.1 1740.3 848.6 1742.5 848.9 1741.9 849.5 1742.6 850.4 1741.7 851.6 1742.5 852.5 1742 853.7 1740.2 855.2 1743.9 855.8 1743.5 856.4 1740.9 857.6 1742.7 859.1 1741.4 860 1742.9 861.2 1740.7 861.8 1741 862.7 1743.3 863.3 1742 863.9 1742 864.5 1743.1 865.7 1740.5 866 1741.3 866.6 1741 867.8 1743 868.7 1743.2 869.9 1741.1 871.6 1743.6 871.9 1741.8 872.8 1740.8 873.4 1742.7 874.6 1741.3 875.8 1743.2 877.3 1741.9 878.8 1744.5 881.5 1741 883 1742.1 883.3 1741.8 883.9 1739.7 884.8 1742.5 885.7 1740.6 886.3 1740.5 887.5 1743.5 888.4 1741.3 889.9 1743.4 891.7 1740.9 892.6 1741.3 893.5 1740.6 894.4 1742.2 895.3 1741.6 896.5 1743.3 897.7 1741 898.3 1742.3 898.6 1741.8 899.2 1742.6 899.5 1741.4 900.1 1742 900.4 1741.1 901.9 1743.3 903.1 1741.8 904.6 1742.8 904.9 1743.7 905.2 1743.1 905.8 1743.7 906.1 1742.9 906.7 1743.6 907 1742.3 907.3 1742.8 907.9 1742 908.2 1743.3 908.5 1742.6 909.1 1743 909.4 1742.1 910 1742.5 910.8 1742 911.1 1741.1 912 1741 912.9 1744.1 914.7 1740.8 915.6 1742.6 916.5 1740.9 917.1 1741.1 917.7 1742.3 918 1741.9 918.6 1743.5 920.1 1741.2 920.7 1741.3 921 1742.5 921.6 1741.8 921.9 1742.6 922.8 1741.4 924 1742.6 924.3 1742.1 924.9 1742.7 925.8 1740.4 927 1740.9 928.2 1743.1 929.1 1743.4 930 1741.1 930.6 1741.4 930.9 1740.6 933 1741.9 934.5 1741.5 935.7 1742.3 936.3 1744.4 936.9 1744.5 937.5 1742.4 938.4 1742.8 939.6 1741.4 940.8 1742.9 941.4 1741.5 941.7 1741.9 942 1741.2 943.2 1741.6 943.5 1740.8 944.1 1741 944.7 1742.4 945.3 1742.3 945.9 1739.9 946.5 1739.8 946.8 1740.5 947.4 1740.2 948 1738.2 949.2 1737.6 952.4 1729.7 953 1731.3 954.2 1730.1 955.7 1732 956.9 1736.4 957.8 1735.3 959 1738.7 959.6 1738.1 960.5 1739.4 961.4 1739.3 962.3 1741.6 963.2 1740.9 964.1 1742.5 965 1740.9 966.8 1743.3 967.4 1743.3 968 1742.3 968.3 1742.9 968.6 1742.4 968.9 1743.4 969.5 1742.3 970.1 1742.7 970.4 1743.9 971 1743.5 971.6 1741.6 972.5 1743.1 973.1 1742 973.7 1742 974 1743.2 975.2 1744.2 976.4 1741.5 977.6 1742.9 978.2 1741.7 978.8 1741.5 979.7 1743.4 980 1742.8 980.6 1743.4 980.9 1742.3 981.2 1743 981.8 1741.9 983 1743.4 983.3 1742.7 983.9 1743 984.2 1742.2 984.5 1743.2 985.1 1742.6 985.4 1742.9 986 1741.6 987.2 1742.4 987.5 1741.3 988.4 1741.2 989.5 1743.8 990.1 1742.9 990.4 1743.3 991 1741.5 991.6 1741.4 992.2 1742.9 993.7 1742.9 994.6 1741.7 995.5 1742.7 996.4 1741.4 997 1742.6 997.9 1741.6 998.5 1742.8 999.7 1741 1000 1742.2 1000.3 1741.9 1001.5 1742.8 1002.4 1742.6 1004.2 1740.9 1006 1743.9 1006.9 1742 1007.5 1741.5 1008.1 1742.1 1008.7 1740.4 1009.6 1740.8 1009.9 1741.9 1010.2 1741.5 1010.8 1742.6 1012.6 1742.4 1013.8 1743.8 1014.7 1742.9 1015.3 1743.6 1015.6 1743 1015.9 1743.3 1017.7 1741.5 1019.2 1744.6 1020.4 1742.7 1020.7 1743.1 1021.3 1742.6 1022.5 1743.8 1023.7 1741.9 1024.3 1742.6 1025.2 1742.9 1025.8 1742.4 1027 1743.3 1027.9 1741.7 1028.8 1742.7 1029.3 1742.2 1029.9 1742.5 1030.2 1743.2 1031.4 1743 1032.6 1744.2 1033.8 1742.4 1034.4 1743.8 1035 1743.6 1035.9 1741.6 1036.8 1742.7 1037.7 1742 1038.3 1742.8 1039.5 1740.9 1040.7 1742.8 1041.6 1741.9 1042.5 1743.4 1043.7 1742.6 1044.3 1743.6 1045.5 1742.4 1046.4 1742.8 1047 1741.7 1047.3 1742.5 1047.9 1742.1 1048.2 1742.9 1050 1739.4 1051.2 1740.9 1052.1 1739.8 1052.7 1740.9 1053.9 1737.7 1054.8 1738.9 1058.4 1724.3 1060.8 1711.4 1061.7 1713.1 1064.4 1729 1066.5 1737.4 1067.1 1738.5 1067.7 1738.1 1068 1739.1 1068.2 1738.3 1068.8 1738.5 1070 1740.2 1070.3 1739.7 1070.6 1740.3 1070.9 1739.7 1072.1 1742.1 1073 1740.5 1074.2 1740.9 1075.7 1743.2 1077.2 1741.2 1077.8 1743 1078.4 1742.9 1080.5 1740.7 1081.1 1741.7 1081.4 1741.4 1081.7 1742.1 1082.3 1742.1 1082.6 1743.7 1083.2 1743.4 1083.5 1744 1085 1740.6 1085.6 1740.7 1086.8 1742.4 1088.6 1739.2 1089.5 1739 1091 1737.2 1093.4 1729.2 1095.5 1724.8 1096.4 1724.2 1096.7 1724.8 1097.3 1724.1 1097.9 1724.2 1102.7 1738.3 1103 1738.9 1103.3 1738.3 1103.6 1738.5 1104.5 1741 1105.1 1740.4 1105.4 1740.7 1105.7 1740 1107.5 1742.5 1108 1742.4 1108.9 1740.6 1109.8 1741.9 1110.1 1741.5 1111 1741.8 1111.6 1742.5 1113.7 1741.3 1114.6 1742.9 1115.5 1743 1116.1 1742.4 1117 1743.1 1117.9 1743.1 1118.2 1742.6 1118.8 1743.9 1119.1 1743.2 1119.4 1744.3 1121.5 1741.3 1123 1743.8 1123.6 1743.1 1123.9 1744 1124.5 1743.8 1124.8 1744.3 1126.6 1741.9 1126.9 1743.4 1127.2 1742.9 1127.8 1743.3 1128.4 1742.3 1128.7 1743.1 1129.6 1743.2 1130.5 1742 1132 1745.1 1132.6 1743.8 1133.5 1743.6 1134.4 1741.3 1135.6 1745.4 1136.8 1742.5 1138.3 1743.5 1139.2 1742 1140.7 1745 1141.3 1745.2 1141.9 1743.7 1143.4 1743.8 1143.7 1743 1144 1743.4 1144.6 1742.9 1144.9 1743.4 1145.2 1742.6 1147.2 1744.2 1149 1743.2 1150.2 1744.7 1151.1 1742.8 1151.7 1742.8 1152 1743.9 1153.5 1744.5 1153.8 1745.6 1155.6 1742.2 1156.5 1742.7 1156.8 1743.8 1157.4 1742.5 1157.7 1743.8 1158 1743.1 1158.3 1744.1 1158.9 1743.7 1159.2 1744.5 1160.1 1744.4 1160.4 1743.5 1161 1743.5 1162.2 1744.9 1163.1 1743.1 1165.5 1744 1165.8 1743.5 1166.4 1744.2 1166.7 1743.2 1167.9 1745.7 1169.1 1743.5 1169.7 1743.2 1170.3 1743.8 1171.5 1742.7 1172.7 1743.6 1173.6 1743.2 1175.1 1745.6 1176.3 1742.3 1177.2 1744.6 1178.1 1743.5 1179.3 1744.3 1179.6 1743.5 1180.2 1744.5 1181.4 1742.6 1182.9 1745 1184.1 1743.7 1184.4 1744.6 1185.6 1744.3 1186.4 1745.3 1187.3 1744.4 1187.9 1745 1189.1 1743.4 1189.7 1744.2 1190 1743.4 1190.6 1743 1191.2 1743.4 1191.5 1742.9 1191.8 1743.8 1192.4 1743.4 1192.7 1744.4 1193.3 1744.1 1193.9 1745.3 1195.4 1743.1 1195.7 1744 1196.3 1743.3 1196.6 1744.2 1197.5 1743.6 1198.4 1745.4 1199.6 1743.5 1200.8 1742.7 1201.4 1743.2 1202 1742.8 1202.3 1743.5 1203.5 1743.4 1204.4 1745 1205.6 1742.5 1207.1 1744.7 1208.3 1744.4 1208.6 1745.2 1210.4 1743.1 1210.7 1744 1211.6 1743.7 1211.9 1742.2 1213.1 1743.4 1213.4 1742.6 1214.6 1745.1 1215.8 1742.4 1216.1 1742.8 1216.4 1742.4 1217 1744.2 1218.2 1743 1218.8 1744.4 1219.4 1744.3 1221.2 1740.9 1221.8 1741.1 1222.4 1743 1223 1742.9 1223.3 1741.8 1224.2 1743 1225.4 1740.1 1226.2 1741.1 1227.1 1738.8 1228.3 1740.5 1229.5 1735 1229.8 1734.1 1230.4 1734.2 1231.6 1730.7 1232.2 1730.4 1233.7 1724.2 1234.6 1726.3 1235.8 1726.5 1239.4 1735.7 1241.5 1740 1241.8 1739.6 1242.1 1741 1242.4 1740.4 1243 1741.7 1244.2 1741.2 1245.7 1742.9 1246 1742.2 1246.6 1744.1 1247.2 1744 1247.5 1744.6 1247.8 1744 1248.4 1745.3 1249 1744 1250.8 1742.3 1251.7 1742.8 1252 1744.6 1252.3 1744.1 1252.9 1744.4 1253.2 1743.5 1254.4 1745.5 1256.8 1743.1 1257.7 1744.5 1258 1744.2 1258.3 1744.7 1259.5 1743.6 1261.9 1745.7 1263.4 1744.5 1264.3 1745.2 1265.1 1744.9 1265.4 1744.3 1266 1745.1 1266.3 1744.3 1267.8 1746.1 1268.4 1743.6 1269 1743.5 1269.6 1744.9 1270.2 1744 1270.5 1744.6" fill="none" stroke="#000" stroke-width="8.5" stroke-linejoin="round" stroke-linecap="round"/>
<path d="M103.5 1758.3L104.1 1760.1 104.4 1759.4 105.3 1759.7 106.2 1761.9 107.4 1758.1 109.8 1760.3 111.3 1760.1 111.9 1762 112.2 1760.3 112.5 1761.2 113.1 1759.7 116.4 1763.8 117.9 1762.4 119.1 1760 119.7 1760.9 120 1760.4 120.6 1761.8 120.9 1761.1 122.1 1760.9 123.5 1763.8 125.3 1762.1 126.5 1763 126.8 1761.6 127.1 1762 127.7 1761.3 128 1762.7 128.3 1761.8 129.5 1763.7 130.4 1763.8 130.7 1763.2 131.3 1763.9 131.6 1763.2 131.9 1763.8 132.5 1762.9 134 1764.2 134.3 1765.1 134.9 1764.8 135.2 1765.6 138.2 1762.1 139.1 1763.7 139.7 1763.9 140.3 1763.4 140.6 1764 141.2 1763.3 143 1764.7 143.3 1765.5 144.5 1765.5 144.8 1766.4 146 1764.9 147.2 1766.6 147.5 1765.6 148.1 1765.9 148.4 1764.4 149.6 1766.2 150.2 1764.7 151.1 1764.1 152.6 1767 153.2 1767.1 154.1 1765.5 155.3 1766.3 156.5 1764.7 157.7 1767.3 158 1766.8 158.3 1767.2 158.9 1765.7 159.2 1766.2 160.7 1765.2 161.3 1766.8 163 1766.9 163.6 1766.4 164.8 1767.7 166.9 1766.2 168.1 1768.2 168.7 1767.4 170.2 1769.2 171.4 1766.5 172.3 1768.2 173.2 1767.7 174.4 1769.2 174.7 1768.1 175.3 1767.8 176.5 1768.4 178 1766.9 178.6 1768.3 180.1 1767.9 181.6 1769.6 182.2 1769.1 182.5 1770.1 183.7 1768.1 184.6 1770.8 185.8 1768.3 186.4 1768.5 186.7 1768.1 188.5 1770.1 189.4 1769.1 190.6 1769.6 192.1 1768.2 192.4 1768.6 193 1768.1 194.5 1770.5 195.7 1769.7 197.5 1770.4 197.8 1771 198.1 1770.3 199 1770.4 199.3 1771.8 200.5 1771.1 201.7 1772.4 203.1 1770 203.7 1771.3 205.5 1772.1 206.4 1773.7 207.3 1769.9 208.8 1773.1 209.7 1772.2 210 1770.9 211.2 1772.2 211.8 1771.1 212.1 1771.8 212.7 1771.1 213.6 1772.3 214.5 1771.2 215.4 1770.9 216.6 1773 217.5 1772.5 218.1 1772.9 218.7 1774.4 219.9 1772.2 220.8 1771.9 221.4 1773.8 222.9 1771.6 223.2 1772.8 226.5 1772.8 227.7 1774.2 228 1772.9 228.3 1774 228.6 1774.3 228.9 1773.7 229.2 1774.7 230.1 1774.2 230.7 1772.6 231.3 1772.6 231.9 1773.9 232.2 1773.4 233.4 1774.3 234 1773 235.2 1774.7 235.8 1773.3 237.6 1771.6 238.5 1772.8 239.1 1771.9 240 1772.2 241.2 1774.2 241.4 1773.6 242 1774.5 242.3 1773.9 242.9 1774 243.5 1775.2 245 1774.5 245.9 1773.2 246.8 1774.5 247.7 1774.5 248 1773.7 248.6 1774.6 249.2 1774.3 249.8 1774.9 250.1 1773.7 250.4 1774 251 1773.2 251.3 1774.1 252.5 1773.9 253.4 1775.2 254.6 1773.6 254.9 1774.1 255.5 1772.7 256.7 1774.8 257.6 1774.3 258.5 1775.7 259.7 1773.8 260.9 1775.9 263 1772.5 264.8 1773.4 265.1 1772.4 266.3 1775.6 267.8 1773 268.7 1773.9 269 1772.9 270.5 1776 271.7 1774.6 272.9 1776.1 274.4 1773.7 275.6 1774 276.2 1774.8 277.1 1773.2 278 1774.4 279.2 1773 279.8 1774.1 280.9 1772.2 282.7 1775 283.3 1774.1 285.7 1775 286.6 1773.1 287.8 1775 289 1773.6 289.9 1774.6 290.5 1773.6 291.7 1775.3 292.9 1774 293.5 1775.3 294.7 1772.5 297.1 1775.5 297.4 1774.5 298 1775.2 299.5 1772 301.3 1775.4 301.9 1774.5 302.5 1775.4 303.7 1772.4 304.9 1775.5 305.5 1774.5 305.8 1775.2 306.1 1774.4 307.3 1776.4 308.2 1772.8 309.7 1774.5 310.9 1772 312.1 1774.4 313.3 1773.1 313.9 1773.6 314.8 1773.2 315.7 1774.6 316.9 1772.9 317.5 1773.3 317.8 1772.6 318.1 1773.3 319.9 1771.6 321 1772.3 321.3 1773.2 322.2 1772.7 322.5 1771.6 323.4 1773.3 324 1773.3 325.2 1773.1 326.4 1771.2 327.6 1773.1 328.5 1772.2 329.4 1769 330 1770.8 330.3 1770.5 330.6 1771 330.9 1770.2 331.5 1771.5 332.7 1770.7 333.3 1770.8 335.1 1766.9 336.6 1765.6 339.9 1757.1 341.4 1749 343.2 1731.1 345 1679.3 347.4 1530.1 348.3 1507.9 351.6 1692.2 352.5 1718.1 354 1741.4 355.8 1753.7 358.2 1763.6 358.8 1763.3 360.5 1767.7 361.7 1769.2 362.9 1768.1 363.5 1769.5 364.7 1768 367.4 1772.3 368 1771.2 368.3 1771.9 368.6 1771.1 368.9 1772 369.5 1771.3 369.8 1772.4 370.1 1772 370.4 1773 371 1772.4 371.6 1773.3 371.9 1772.7 372.2 1773.7 373.4 1771.5 373.7 1772.4 374 1771.8 374.6 1772.6 374.9 1772.2 376.1 1774.1 377.3 1772.1 377.9 1773.5 378.8 1773.7 379.7 1774.9 380.6 1773.4 381.2 1773.7 382.1 1772.8 383 1774.6 383.6 1774.7 384.2 1773.5 384.5 1773.8 385.1 1772.9 385.4 1773.5 387.2 1771.4 387.5 1772.6 389.3 1774.4 390.8 1773.6 392 1772 393.2 1773.2 393.8 1772.7 394.1 1774 395.3 1773 395.9 1773.9 397.1 1771.9 397.7 1772.3 399.1 1772.1 399.4 1772.9 400.3 1773.1 401.5 1769.8 403.6 1770.6 408.4 1763.2 410.5 1749.2 412 1730.3 414.7 1661.8 415.6 1654.3 418.9 1731 421.3 1757.5 422.2 1761 423.1 1762.8 423.4 1762.5 424.6 1768.3 426.1 1767.8 427.3 1770.2 428.2 1770 429.1 1771.5 429.7 1770.9 430.3 1771.3 430.9 1773 432.4 1772.3 433.3 1772.7 433.9 1774 434.2 1773.5 434.8 1774.3 435.7 1774.1 436.3 1772 436.9 1771.7 437.2 1773 438.3 1772.6 438.9 1774.4 440.1 1773.7 440.7 1775 441.3 1774.9 443.1 1772.3 444.9 1774.4 446.4 1774 447 1774.8 448.5 1773.5 448.8 1774.6 449.4 1773.8 449.7 1774.8 450 1773.9 450.3 1774.7 450.9 1773.4 451.5 1773.3 452.4 1775.6 454.5 1772.2 455.4 1773.9 456.6 1773.2 457.5 1774.6 460.2 1771.5 461.4 1773.2 462.6 1771.7 463.8 1774.6 465 1773.7 466.5 1775.2 467.1 1774.6 468 1775.5 468.6 1773.8 469.5 1774.3 469.8 1775.2 470.4 1773.9 471.6 1775.3 472.2 1773.8 472.5 1775 473.4 1775.7 474 1774 475.2 1775.1 476.4 1773.6 477.3 1776.3 478.4 1774.7 479 1775.7 479.3 1775.2 480.5 1775.4 481.4 1774.8 481.7 1776 482.9 1774.2 483.5 1775 484.4 1774.5 484.7 1773.7 486.5 1776.4 486.8 1775.6 487.1 1776.7 488.3 1776 488.9 1774.7 490.1 1775.7 491.9 1773.8 493.1 1777.3 494.3 1774.6 496.7 1776.9 497.9 1774.5 499.1 1775.8 499.4 1774.9 499.7 1775.4 500.3 1774.8 500.6 1775.7 501.2 1774.6 502.7 1776.1 503.3 1775.3 503.6 1775.6 504.5 1774 505.1 1774 505.4 1775.1 506.3 1775.6 508.1 1774.6 508.4 1773.9 509 1775.1 510.2 1775.4 510.8 1776.2 512 1776.3 513.8 1774.5 515 1775.5 515.6 1774.9 516.5 1775.4 517 1774.5 518.5 1776.5 520.3 1774 521.5 1775.5 522.4 1775.4 522.7 1774.6 523 1775.4 523.6 1773.4 524.8 1776.9 525.7 1775.6 526.9 1776.7 527.5 1775.7 529 1776.2 529.3 1775.3 530.5 1778.2 531.7 1775.1 533.2 1776.2 535 1775.2 536.5 1773.2 537.4 1773.6 538.9 1777.7 539.8 1775.1 540.7 1774.6 541 1775.3 541.3 1774.9 542.2 1775.2 542.5 1775.8 543.7 1774.4 544.9 1776.1 545.8 1774.1 547 1777 548.2 1775.2 549.1 1776.1 550.3 1775.2 552.7 1776.4 553.9 1775.3 554.2 1776.1 554.5 1775.6 555.4 1776.6 556.3 1773.6 557.4 1776.4 558 1775.6 558.6 1776.7 559.5 1774.6 560.7 1776.7 561.9 1775.2 563.1 1776.4 563.7 1776.3 564.3 1775.3 564.6 1775.9 566.4 1775.3 566.7 1776.4 567.3 1776.3 568.5 1774.4 569.1 1775.9 569.4 1775.1 570 1776.5 571.5 1774.1 571.8 1774.7 572.4 1774.1 572.7 1774.9 573.6 1774.9 574.8 1776.4 576.3 1774.2 576.9 1774.2 577.8 1776.9 579.6 1774.9 580.2 1776.2 580.5 1775.6 581.1 1776.2 582 1774 582.9 1775.3 584.1 1774.4 584.7 1774.9 585 1774.5 586.8 1776.6 588 1774.2 588.3 1774.7 588.6 1774.3 590.1 1776.5 591.3 1774.1 591.9 1775.3 593.1 1774.4 593.7 1775.4 594.6 1775 594.9 1774 596 1776.5 597.2 1775.4 597.5 1776 598.7 1776.1 599 1776.8 600.2 1773.6 601.1 1774.1 601.4 1775.1 602 1774.2 602.9 1776.3 603.5 1776.4 604.1 1774.5 604.4 1774.9 605 1774.1 606.5 1775.6 606.8 1774.9 607.4 1775.4 608.6 1774.1 609.2 1775.5 610.7 1773.7 611.3 1774.5 611.6 1774 613.1 1775 613.4 1774.1 614.9 1773 615.2 1773.4 615.5 1772.6 617.3 1773.3 617.6 1772.5 618.2 1773.3 618.5 1772.2 620 1771.3 620.6 1769.6 621.8 1768.8 624.5 1758.6 626.3 1740 628.1 1707.6 629 1697.5 629.6 1696 632.9 1747.4 635.2 1763.5 636.7 1768.7 637.3 1769.7 638.8 1768.7 640 1773 641.2 1772.5 641.5 1773.4 642.7 1773.7 643 1774.7 644.2 1773.3 645.4 1774.2 646.3 1773.8 647.2 1775.2 648.1 1774.3 649.3 1775.5 649.9 1773.7 651.7 1774.1 652.9 1775.8 654.1 1775 654.4 1775.5 655 1774.6 655.3 1775.1 655.6 1773.9 656.2 1775.2 656.5 1774.7 657.7 1776.2 658.9 1774.5 660.1 1774.2 661 1774.4 661.6 1776.4 662.5 1776.2 662.8 1776.9 664 1774.6 665.2 1773.7 665.8 1775.9 666.7 1776.2 667.3 1775.7 667.6 1776.2 667.9 1775.5 668.5 1776.7 668.8 1775.8 669.1 1776.4 669.7 1775.7 670 1776.7 670.9 1775.3 671.8 1775.3 672.1 1776 673.3 1774.1 675.3 1776.9 675.9 1775.8 677.4 1775 678.3 1777.7 679.8 1774.5 681.3 1776.2 682.2 1776.3 684 1774.1 684.9 1776.1 685.8 1776.4 686.1 1775.5 686.7 1776.1 687 1775.4 687.3 1776.1 687.9 1775.2 689.4 1776.7 690.3 1775.5 690.9 1775.4 691.2 1776.3 691.5 1775.8 691.8 1776.5 692.4 1775.5 692.7 1776.2 693.3 1775.9 693.9 1777.2 695.4 1775.4 696.6 1776.4 696.9 1775.7 697.2 1776.2 697.5 1775.4 698.1 1775.7 698.4 1774.5 698.7 1775.5 699 1775 699.6 1776.1 700.5 1774.5 702 1775.8 702.9 1774 703.5 1774 705 1776.7 706.5 1775.6 707.4 1776.2 708 1774.4 709.2 1776.9 709.5 1776.4 710.1 1776.6 710.4 1775.7 711.6 1776.2 712.5 1773.9 713.4 1775.9 714.5 1775.1 715.7 1775.9 716.6 1775.2 717.8 1777 718.4 1775.3 719.6 1775.4 719.9 1776 720.2 1775.5 720.8 1776.3 721.1 1775.8 722 1777.9 723.5 1773.4 723.8 1775 724.1 1774.6 724.7 1776.1 726.2 1774 727.4 1775.6 728.6 1775.4 729.5 1776.6 730.4 1776.1 731.6 1773.8 731.9 1774.8 733.1 1774.7 734 1776.6 734.9 1774.1 736.1 1775.6 737.6 1775.5 737.9 1774.8 738.5 1775.9 739.7 1773.9 740 1774.7 740.9 1775.2 741.2 1774.7 741.5 1775.3 743 1773.4 743.6 1774.5 743.9 1773.8 744.2 1774.3 746 1773.5 746.3 1774.3 746.9 1773.8 747.5 1774.5 748.7 1771.6 749.3 1773.8 750.8 1770.7 751.1 1771.3 752.9 1768.2 754.9 1760.9 757.3 1739.1 759.4 1710.3 760 1704.8 760.6 1703.5 763.9 1746.1 765.7 1760.2 768.1 1768.3 769 1767.2 771.4 1773.3 772.6 1771 773.5 1773.1 774.4 1772.5 775.3 1775 775.6 1775.2 775.9 1774.1 776.8 1773.9 778 1775.6 779.5 1773.5 781 1775.4 781.6 1772.4 781.9 1772.7 782.2 1772.4 782.8 1774.5 783.1 1773.7 783.7 1774.4 784 1774.1 785.2 1776.3 786.1 1775.2 787 1775.8 788.2 1773.2 789.1 1773.3 789.7 1774.2 790.3 1774.2 790.9 1773.1 792.9 1775.1 794.4 1771.5 795.3 1771.5 796.5 1770 798.3 1765 799.2 1758.8 800.7 1755.9 801.6 1756.5 802.8 1759.6 804 1765.4 805.8 1770.6 809.1 1773.6 809.4 1774.5 811.8 1773.2 812.7 1774.9 813.6 1773.4 816 1775.5 816.9 1775 817.8 1775.8 819 1774.5 820.8 1776 822 1774.8 823.5 1775.4 823.8 1774.7 824.4 1775.5 824.7 1774.7 825 1775.3 825.3 1773.8 825.6 1774.5 826.2 1774.3 826.5 1775.2 828 1773.8 829.2 1776.2 831 1776.3 831.6 1775.5 832.1 1775.9 833.3 1773.7 834.2 1775.3 834.8 1775.1 836 1776.4 836.3 1775.9 836.6 1776.6 837.2 1775.8 837.5 1776.3 838.4 1775.8 838.7 1774.8 840.2 1777 841.4 1775.3 842 1775.8 842.6 1775.4 843.5 1776.7 844.1 1776.2 845.3 1777.6 846.5 1774.6 847.1 1775.6 847.7 1775.7 848 1775.1 848.9 1776 850.1 1775 850.7 1776.3 851.3 1776.5 851.9 1774.9 853.7 1776.1 854.3 1775.3 854.6 1776.1 854.9 1775.7 855.5 1776.3 856.1 1775.5 856.4 1775.9 857 1775.5 857.9 1776.4 858.2 1775.9 858.8 1777.4 861.5 1774.6 862.7 1777.4 863.3 1776 864.2 1775.7 864.8 1774.6 866 1776.8 866.3 1775.2 866.9 1775 867.8 1776.5 868.4 1775 870.5 1777.6 871.6 1774.9 872.5 1774.6 872.8 1776.4 873.7 1776 874 1774.8 875.2 1777.1 876.4 1775.7 877.3 1776.5 877.6 1775.8 878.2 1776.9 878.8 1776.5 879.4 1774.7 880.3 1776.5 881.5 1775.8 881.8 1776.3 882.4 1774.5 883.9 1776.1 884.5 1775 884.8 1775.5 885.4 1774.7 885.7 1775.9 886 1774.3 886.6 1775.9 886.9 1775.2 887.2 1776.9 889 1775.2 889.9 1776.9 891.1 1774 892.3 1776.8 892.6 1776.3 892.9 1776.9 893.5 1775.7 893.8 1776.3 894.1 1775.7 894.4 1776.3 895 1775 895.3 1775.7 895.6 1775 896.2 1775.7 896.5 1775.2 896.8 1775.7 897.7 1775.5 898.6 1777.4 899.8 1775 900.4 1775.8 900.7 1775.4 901 1776.6 901.3 1775.9 901.6 1776.5 901.9 1776.1 902.2 1775 903.7 1776.4 904.9 1775 905.8 1774.9 907 1776.2 907.6 1775.3 908.8 1776.9 909.4 1775.8 910 1776.5 910.8 1775.1 911.7 1775.3 912.3 1774.4 913.2 1775.3 914.1 1774.4 914.4 1775.6 915.9 1775.3 916.2 1775.8 916.5 1775.1 917.1 1775.9 917.4 1775.3 917.7 1776 918.3 1774.9 918.6 1775.5 919.5 1774 920.7 1776.6 921 1775.9 921.6 1776.6 922.8 1774.4 923.7 1775.9 925.5 1775.2 926.7 1777.1 927.9 1774 928.8 1775.9 930 1774.5 930.3 1775.1 930.9 1774.7 932.1 1775.4 932.4 1777 932.7 1774.9 933.3 1774.9 933.6 1773.7 934.2 1775.8 935.4 1774.7 936.6 1776.1 937.5 1775.7 937.8 1776.4 939.6 1775.2 940.8 1776.2 942 1775.1 942.3 1775.9 942.6 1775 943.2 1776 943.5 1775.5 943.8 1777 945 1774 946.2 1775.4 948 1772.4 948.6 1774.2 948.9 1773.9 949.2 1774.5 949.8 1773.8 950 1774.9 951.8 1772.3 952.1 1772.9 953.3 1771.5 953.9 1773 955.1 1771.2 956.3 1773.4 956.9 1772.7 957.2 1773.7 957.8 1772.6 958.1 1773.5 960.5 1774 961.7 1775.7 962.6 1774.7 962.9 1775.2 964.1 1774.8 965.6 1775.9 965.9 1777.2 967.1 1774.3 968.3 1776.3 970.7 1775.6 971.3 1776.2 972.8 1774.5 973.4 1776.1 973.7 1775.5 974.3 1775.8 974.6 1774.6 975.8 1775.7 977 1774.6 978.8 1776.5 979.4 1775.8 980.6 1775.7 980.9 1774.5 981.5 1774.3 983 1776.5 983.6 1776.7 984.2 1775.3 985.4 1777.1 986.3 1774.9 986.9 1775.5 987.8 1775 988.4 1775.7 989 1775.6 989.5 1774 989.8 1775 990.4 1774.4 991.6 1777.1 993.1 1775 993.4 1776 994.6 1774 995.8 1776.9 997.3 1777.6 998.8 1773.5 1001.5 1776.8 1002.1 1775.6 1002.7 1775.7 1003.3 1776.9 1003.9 1776.9 1005.4 1775.3 1006 1776.1 1007.2 1774 1008.7 1776.8 1009 1775.2 1009.3 1775.9 1009.9 1774.4 1010.2 1775.4 1010.5 1775 1010.8 1775.7 1012.6 1776.3 1013.8 1775.4 1015 1777.5 1016.2 1774.5 1016.5 1774.9 1016.8 1774.6 1018 1777 1019.5 1775.2 1019.8 1776.5 1021 1775.5 1022.2 1777.1 1022.8 1776.2 1023.1 1776.5 1023.7 1775 1024 1775.5 1024.3 1775.1 1025.5 1777.9 1025.8 1777.4 1026.1 1777.7 1027 1775.6 1028.2 1777.4 1029 1775.8 1029.9 1775.1 1030.2 1775.5 1030.5 1774.5 1031.1 1775.6 1032 1775.4 1033.2 1777.2 1034.7 1774.2 1035.9 1776.2 1036.8 1774.9 1037.4 1775.3 1037.7 1774 1038.9 1775.4 1039.8 1775.4 1040.1 1776.5 1040.7 1776.2 1041 1777.8 1041.9 1776.9 1042.2 1775.2 1042.8 1775.8 1044 1775.8 1045.2 1773.7 1045.5 1774.7 1046.1 1774.1 1047 1775.6 1047.6 1774.4 1048.2 1774.2 1049.1 1775.7 1050.3 1773.6 1051.2 1774.9 1051.8 1774.2 1052.4 1774.1 1053 1774.8 1053.6 1774.2 1055.4 1770.6 1055.7 1771.3 1056.9 1767.1 1057.5 1766.3 1057.8 1766.7 1059.6 1759.1 1062 1754.3 1063.2 1756.7 1066.5 1768.3 1066.8 1768 1067.7 1769.3 1068 1771.1 1069.4 1773.1 1070.6 1771.6 1071.8 1775.4 1072.7 1776.3 1073.6 1776 1073.9 1774.9 1074.5 1775.5 1074.8 1775 1075.1 1776 1075.7 1775.5 1076 1776.1 1076.9 1774.9 1077.8 1774.8 1079 1776.4 1079.9 1775.1 1080.8 1775.6 1082 1773.2 1083.5 1775.3 1084.4 1774.3 1086.5 1776 1088 1774 1089.8 1775.1 1090.7 1771.8 1091.3 1771.4 1091.6 1772.2 1091.9 1771.5 1092.5 1771.4 1093.4 1769.5 1094.6 1768.4 1096.1 1764.7 1097.3 1766.5 1097.9 1765.2 1098.8 1767.3 1100.3 1768.8 1101.5 1767.8 1103 1773.9 1103.9 1775 1105.4 1773.2 1107.2 1775.2 1107.5 1774.6 1108.3 1774.7 1109.5 1775.7 1111 1775.8 1111.3 1776.6 1111.6 1776.2 1111.9 1777.1 1113.7 1773.3 1114.3 1773.6 1114.9 1775.5 1116.1 1775.1 1117.3 1776.3 1118.5 1776.3 1119.7 1778.3 1120 1777.2 1120.3 1777.9 1121.5 1775.6 1122.4 1777.3 1124.2 1775.7 1126 1776.1 1126.3 1777.2 1128.1 1775.5 1128.4 1776.9 1129 1776.1 1129.3 1776.4 1130.2 1774 1131.4 1776.5 1132 1776 1133.2 1777.5 1133.8 1776.8 1135 1778.9 1135.6 1776.7 1136.5 1776.8 1136.8 1777.8 1138 1775.3 1138.9 1777.1 1140.1 1776.9 1140.7 1777.8 1141.6 1776.8 1142.8 1777.1 1143.4 1776.4 1144.6 1777.7 1144.9 1777 1145.5 1777.3 1145.8 1776.1 1146.7 1775.5 1146.9 1776.1 1148.1 1775.9 1149.3 1776.7 1149.9 1776 1150.8 1776.8 1151.7 1776.6 1152.6 1777.6 1154.1 1775.7 1155 1777.6 1155.9 1776.7 1156.5 1777.2 1157.4 1776.5 1158.3 1776.9 1158.9 1778.5 1159.2 1778 1159.5 1778.5 1159.8 1778.2 1160.4 1776.6 1161.6 1778.7 1163.7 1776.3 1164.3 1777.6 1164.9 1777.5 1165.2 1778.1 1167 1775.8 1169.4 1779.3 1171.2 1775.8 1171.8 1777.1 1172.1 1776.2 1172.7 1776.2 1173.6 1777.9 1174.8 1777.3 1175.1 1778.7 1175.4 1777.9 1175.7 1778.6 1176.3 1775.6 1177.5 1778 1178.7 1776.2 1179.6 1778 1180.2 1777.2 1180.8 1777.2 1181.7 1777.9 1183.2 1777.8 1183.8 1778.9 1185 1778.6 1185.6 1779.1 1187 1776.9 1188.2 1777.3 1189.4 1776.8 1190 1779.2 1190.6 1779.6 1191.8 1776.1 1193 1778 1193.9 1776.8 1194.5 1777.1 1194.8 1776.3 1197.8 1777.6 1198.1 1776.6 1199.3 1777.6 1199.9 1775.9 1201.1 1779 1202.6 1776.6 1202.9 1777 1203.5 1776.5 1203.8 1778 1204.1 1776.9 1204.7 1777.2 1205.9 1776.5 1206.5 1777.6 1207.4 1777.5 1208 1776 1208.9 1776.7 1209.5 1775.6 1209.8 1776.4 1210.1 1775.7 1210.7 1777.3 1211 1777.1 1211.6 1778.1 1211.9 1777.8 1212.5 1778.8 1213.7 1778.3 1214.3 1778.7 1214.9 1777.1 1216.4 1776.2 1217.3 1778.6 1217.6 1777.5 1218.8 1777.2 1219.1 1776.5 1220.3 1778.8 1221.2 1776.8 1222.4 1778.3 1223 1777.2 1223.6 1777.8 1225.1 1776.7 1225.9 1774.9 1227.1 1775.7 1228 1774.1 1228.9 1774.1 1229.8 1773 1230.7 1770.2 1231 1770.6 1231.3 1770 1231.9 1770.6 1233.4 1768.2 1234 1768.6 1235.2 1767.8 1235.5 1768.2 1236.7 1768 1238.5 1770.3 1240 1774.6 1240.3 1773.9 1240.9 1774.5 1241.2 1774.1 1241.8 1775.6 1243 1774.3 1244.2 1777 1245.1 1775.2 1246 1778 1247.2 1777.5 1248.1 1778.9 1249 1778.8 1249.9 1777.4 1250.8 1778.7 1252 1777.6 1252.6 1779.1 1253.5 1779.5 1254.7 1777 1255.3 1777.1 1256.5 1778.8 1257.1 1777.3 1258.3 1778.4 1259.2 1777.2 1260.1 1779.8 1261 1777.5 1261.9 1779.5 1262.5 1777.4 1263.7 1779.9 1264.6 1778.4 1265.7 1779.5 1266.3 1778.2 1267.2 1777.7 1269.6 1779.3 1270.5 1779.4" fill="none" stroke="#f00" stroke-width="8.5" stroke-linejoin="round" stroke-linecap="round"/>
</g>

<g stroke="#000" fill="none">
<line x1="101.1" y1="47.95" x2="1273" y2="47.95" stroke-width="5.7"/>
<line x1="103.45" y1="45.1" x2="103.45" y2="1841.9" stroke-width="4.7"/>
<line x1="1270.5" y1="45.1" x2="1270.5" y2="1841.9" stroke-width="5"/>
<line x1="101.1" y1="1839.4" x2="1273" y2="1839.4" stroke-width="5"/>
<line x1="101.1" y1="644.85" x2="1273" y2="644.85" stroke-width="6"/>
<line x1="101.1" y1="1242.35" x2="1273" y2="1242.35" stroke-width="5"/>
</g>
<path d="M148.4 50V59 M148.4 1837V1827.5 M223.2 50V71 M223.2 1837V1815.5 M298 50V59 M298 1837V1827.5 M372.8 50V71 M372.8 1837V1815.5 M447.6 50V59 M447.6 1837V1827.5 M522.4 50V71 M522.4 1837V1815.5 M597.2 50V59 M597.2 1837V1827.5 M672.1 50V71 M672.1 1837V1815.5 M746.9 50V59 M746.9 1837V1827.5 M821.7 50V71 M821.7 1837V1815.5 M896.5 50V59 M896.5 1837V1827.5 M971.3 50V71 M971.3 1837V1815.5 M1046.1 50V59 M1046.1 1837V1827.5 M1120.9 50V71 M1120.9 1837V1815.5 M1195.7 50V59 M1195.7 1837V1827.5 M1270.5 50V71 M1270.5 1837V1815.5" stroke="#000" stroke-width="5"/>
<g fill="#000"><text x="223.2" y="1911" font-size="63" font-weight="bold" text-anchor="middle">20</text><text x="372.8" y="1911" font-size="63" font-weight="bold" text-anchor="middle">30</text><text x="522.4" y="1911" font-size="63" font-weight="bold" text-anchor="middle">40</text><text x="672.1" y="1911" font-size="63" font-weight="bold" text-anchor="middle">50</text><text x="821.7" y="1911" font-size="63" font-weight="bold" text-anchor="middle">60</text><text x="971.3" y="1911" font-size="63" font-weight="bold" text-anchor="middle">70</text><text x="1120.9" y="1911" font-size="63" font-weight="bold" text-anchor="middle">80</text><text x="1270.5" y="1911" font-size="63" font-weight="bold" text-anchor="middle">90</text><text x="486.8" y="2001.5" font-size="73.5" font-weight="bold" textLength="398.7" lengthAdjust="spacing">2θ<tspan font-weight="normal">/°</tspan> (Degree)</text><text transform="translate(60.2 607.2) rotate(-90)" font-size="65.6" font-weight="bold">Intensity (arb. units)</text><text transform="translate(61.1 1223) rotate(-90)" font-size="65.6" font-weight="bold">Intensity (arb. units)</text><text transform="translate(67.8 1835) rotate(-90)" font-size="65.6" font-weight="bold">Intensity (arb. units)</text><text x="127.3" y="159.6" font-size="80.5" font-weight="bold" textLength="93.5" lengthAdjust="spacing">(c)</text><text x="122.4" y="742.1" font-size="80.5" font-weight="bold" textLength="102.3" lengthAdjust="spacing">(b)</text><text x="115.1" y="1339.6" font-size="80.3" font-weight="bold" textLength="97.9" lengthAdjust="spacing">(a)</text><text x="411.2" y="154.8" font-size="59.5" font-weight="bold">Bi<tspan font-size="41" dy="15.5">2</tspan><tspan dy="-15.5">WO</tspan><tspan font-size="41" dy="15.5">6</tspan><tspan dy="-15.5">-glyc</tspan></text><text x="537.1" y="719.4" font-size="59.5" font-weight="bold">Bi<tspan font-size="41" dy="15.5">2</tspan><tspan dy="-15.5">WO</tspan><tspan font-size="41" dy="15.5">6</tspan></text><text x="916.2" y="1322.1" font-size="59.5" font-weight="bold">Bi<tspan font-size="41" dy="15.5">2</tspan><tspan dy="-15.5">WO</tspan><tspan font-size="41" dy="15.5">6</tspan><tspan dy="-15.5">-glyc</tspan></text><text x="932.0" y="1412.5" font-size="59.5" font-weight="bold">Bi<tspan font-size="41" dy="15.5">2</tspan><tspan dy="-15.5">WO</tspan><tspan font-size="41" dy="15.5">6</tspan></text><circle cx="874.5" cy="117.8" r="15" fill="#000"/><line x1="808.35" y1="207.4" x2="940.65" y2="207.4" stroke="#f00" stroke-width="7.5" stroke-linecap="round"/><line x1="808.35" y1="295.4" x2="940.65" y2="295.4" stroke="#00f" stroke-width="7.5" stroke-linecap="round"/><line x1="875.2" y1="370" x2="875.2" y2="398.5" stroke="#000" stroke-width="4.5" stroke-linecap="round"/><text x="957.6" y="140.5" font-size="60.6">Y<tspan font-size="41.5" dy="15">obs</tspan></text><text x="957.6" y="227.4" font-size="60.6">Y<tspan font-size="41.5" dy="15">cal</tspan></text><text x="957.6" y="317.3" font-size="60.6">Y<tspan font-size="41.5" dy="15">obs</tspan><tspan dy="-15"> - Y</tspan><tspan font-size="41.5" dy="15">cal</tspan></text><text x="956.1" y="405.8" font-size="60.6">Bragg peaks</text><circle cx="896.2" cy="694.5" r="15" fill="#000"/><line x1="830.95" y1="782.6" x2="963.15" y2="782.6" stroke="#f00" stroke-width="7.5" stroke-linecap="round"/><line x1="830.95" y1="870.4" x2="963.15" y2="870.4" stroke="#00f" stroke-width="7.5" stroke-linecap="round"/><line x1="896.2" y1="945" x2="896.2" y2="973.7" stroke="#000" stroke-width="4.5" stroke-linecap="round"/><text x="979.9" y="716.2" font-size="60.6">Y<tspan font-size="41.5" dy="15">obs</tspan></text><text x="979.9" y="803.3" font-size="60.6">Y<tspan font-size="41.5" dy="15">cal</tspan></text><text x="979.9" y="892.2" font-size="60.6">Y<tspan font-size="41.5" dy="15">obs</tspan><tspan dy="-15"> - Y</tspan><tspan font-size="41.5" dy="15">cal</tspan></text><text x="978.4" y="979.3" font-size="60.6">Bragg paks</text><line x1="785.6" y1="1301.3" x2="913.2" y2="1301.3" stroke="#000" stroke-width="8" stroke-linecap="round"/><line x1="785.6" y1="1389.7" x2="915.2" y2="1389.7" stroke="#f00" stroke-width="8" stroke-linecap="round"/><text transform="translate(365.3 1358.1) rotate(-90)" font-size="49.2">(131)</text><text transform="translate(428.6 1611.9) rotate(-90)" font-size="49.2">(002)</text><text transform="translate(648.1 1618.7) rotate(-90)" font-size="49.2">(202)</text><text transform="translate(770.2 1633.1) rotate(-90)" font-size="49.2">(331)</text><text transform="translate(823.1 1690.7) rotate(-90)" font-size="49.2">(262)</text><text transform="translate(964.7 1709.8) rotate(-90)" font-size="49.2">(400)</text><text transform="translate(1077.4 1685.1) rotate(-90)" font-size="49.2">(333)</text><text transform="translate(1125.3 1689.2) rotate(-90)" font-size="49.2">(460)</text><text transform="translate(1245.2 1704.3) rotate(-90)" font-size="49.2">(462)</text></g>
</svg>
</body></html>
